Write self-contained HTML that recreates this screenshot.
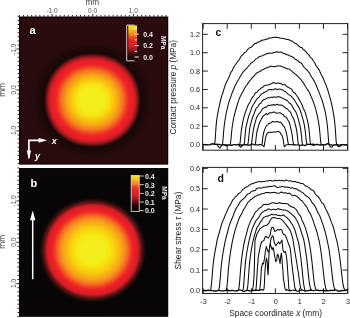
<!DOCTYPE html>
<html><head><meta charset="utf-8"><style>
html,body{margin:0;padding:0;background:#fff;overflow:hidden;}
svg{display:block;will-change:transform;}
text{font-family:"Liberation Sans",sans-serif;}
</style></head><body>
<svg width="350" height="318" viewBox="0 0 350 318" font-family='"Liberation Sans", sans-serif'><defs>
<radialGradient id="gA" gradientUnits="userSpaceOnUse" cx="0" cy="0" r="1.32" gradientTransform="translate(92.3 99.5) scale(46.3 44)"><stop offset="0.0000" stop-color="#f4ee1e"/><stop offset="0.2015" stop-color="#f4ee1c"/><stop offset="0.2341" stop-color="#f6ea18"/><stop offset="0.2667" stop-color="#f8e416"/><stop offset="0.2992" stop-color="#f8d812"/><stop offset="0.3318" stop-color="#f8cc10"/><stop offset="0.3652" stop-color="#f8c010"/><stop offset="0.3977" stop-color="#f8b014"/><stop offset="0.4303" stop-color="#f8a01a"/><stop offset="0.4629" stop-color="#f58c20"/><stop offset="0.4955" stop-color="#f47a22"/><stop offset="0.5227" stop-color="#f26224"/><stop offset="0.5492" stop-color="#f04a26"/><stop offset="0.5758" stop-color="#ef3427"/><stop offset="0.6061" stop-color="#ee2428"/><stop offset="0.6591" stop-color="#ee1e26"/><stop offset="0.6924" stop-color="#cc2028"/><stop offset="0.7250" stop-color="#9c1a1e"/><stop offset="0.7409" stop-color="#7c1618"/><stop offset="0.7576" stop-color="#521414"/><stop offset="0.7742" stop-color="#2c0e0e"/><stop offset="0.7902" stop-color="#1c0a0a"/><stop offset="0.8227" stop-color="#180808"/><stop offset="0.8712" stop-color="#1e0909"/><stop offset="0.9848" stop-color="#2a0c0e"/></radialGradient>
<radialGradient id="gB" gradientUnits="userSpaceOnUse" cx="0" cy="0" r="1.3" gradientTransform="translate(92.75 249.75) scale(48.75 46.75)"><stop offset="0.0000" stop-color="#f4ee20"/><stop offset="0.2015" stop-color="#f4ee1c"/><stop offset="0.2331" stop-color="#f6ec16"/><stop offset="0.2646" stop-color="#f8e812"/><stop offset="0.2962" stop-color="#f8e010"/><stop offset="0.3277" stop-color="#f8d810"/><stop offset="0.3592" stop-color="#f8d010"/><stop offset="0.3908" stop-color="#f8c412"/><stop offset="0.4223" stop-color="#f8b414"/><stop offset="0.4538" stop-color="#f8aa18"/><stop offset="0.4854" stop-color="#f89a1e"/><stop offset="0.5138" stop-color="#f68822"/><stop offset="0.5385" stop-color="#f47624"/><stop offset="0.5692" stop-color="#f35a24"/><stop offset="0.6000" stop-color="#f03c26"/><stop offset="0.6308" stop-color="#ee2627"/><stop offset="0.6692" stop-color="#ec1e26"/><stop offset="0.7038" stop-color="#e01e28"/><stop offset="0.7215" stop-color="#c22028"/><stop offset="0.7377" stop-color="#9a2024"/><stop offset="0.7531" stop-color="#7a1616"/><stop offset="0.7692" stop-color="#601414"/><stop offset="0.8008" stop-color="#2a1010"/><stop offset="0.8323" stop-color="#0e0808"/><stop offset="0.8615" stop-color="#080606"/><stop offset="1.0000" stop-color="#080606"/></radialGradient>
<linearGradient id="cA" x1="0" y1="0" x2="0" y2="1"><stop offset="0" stop-color="#f8e420"/><stop offset="0.1" stop-color="#f8d01c"/><stop offset="0.17" stop-color="#f6a81e"/><stop offset="0.26" stop-color="#f27e22"/><stop offset="0.35" stop-color="#ee4a26"/><stop offset="0.42" stop-color="#e82428"/><stop offset="0.6" stop-color="#d81e26"/><stop offset="0.67" stop-color="#a01a20"/><stop offset="0.77" stop-color="#501010"/><stop offset="0.9" stop-color="#200808"/><stop offset="1" stop-color="#100404"/></linearGradient>
<linearGradient id="cB" x1="0" y1="0" x2="0" y2="1"><stop offset="0" stop-color="#f8e420"/><stop offset="0.07" stop-color="#f8d41c"/><stop offset="0.15" stop-color="#f6a81e"/><stop offset="0.25" stop-color="#f27a22"/><stop offset="0.32" stop-color="#ee4026"/><stop offset="0.4" stop-color="#ea2228"/><stop offset="0.55" stop-color="#dc1e26"/><stop offset="0.63" stop-color="#b01a20"/><stop offset="0.72" stop-color="#701416"/><stop offset="0.8" stop-color="#3a0a0a"/><stop offset="0.9" stop-color="#1a0606"/><stop offset="1" stop-color="#0c0404"/></linearGradient>
<clipPath id="clA"><rect x="19.0" y="16.6" width="149.2" height="147.9"/></clipPath>
<clipPath id="clB"><rect x="19.0" y="168.1" width="149.2" height="148.6"/></clipPath>
<filter id="bl" x="-0.2" y="-0.2" width="1.4" height="1.4"><feGaussianBlur stdDeviation="0.75"/></filter>
</defs>
<g clip-path="url(#clA)"><rect x="19.0" y="16.6" width="149.2" height="147.9" fill="rgb(42,12,14)"/><g><path d="M154.8 100.2L154.6 106.3L153.9 111.8L152.8 117.2L151.2 122.3L149.3 127.2L146.9 131.8L144.1 136.2L140.9 140.2L137.4 144.0L133.5 147.4L129.3 150.5L124.8 153.2L120.0 155.6L115.0 157.5L109.8 159.0L104.3 160.1L98.6 160.7L92.3 161.0L86.0 160.7L80.3 160.1L74.8 159.0L69.6 157.5L64.6 155.6L59.8 153.2L55.3 150.5L51.1 147.4L47.2 144.0L43.7 140.2L40.5 136.2L37.7 131.8L35.3 127.2L33.4 122.3L31.8 117.2L30.7 111.8L30.0 106.3L29.8 100.2L30.0 94.1L30.7 88.6L31.8 83.2L33.4 78.1L35.3 73.2L37.7 68.6L40.5 64.2L43.7 60.2L47.2 56.4L51.1 53.0L55.3 49.9L59.8 47.2L64.6 44.8L69.6 42.9L74.8 41.4L80.3 40.3L86.0 39.7L92.3 39.4L98.6 39.7L104.3 40.3L109.8 41.4L115.0 42.9L120.0 44.8L124.8 47.2L129.3 49.9L133.5 53.0L137.4 56.4L140.9 60.2L144.1 64.2L146.9 68.6L149.3 73.2L151.2 78.1L152.8 83.2L153.9 88.6L154.6 94.1Z" fill="#2a0c0e" stroke="#2a0c0e" stroke-width="0.7"/><path d="M152.7 100.2L152.5 106.1L151.9 111.5L150.8 116.6L149.3 121.5L147.4 126.3L145.1 130.7L142.4 135.0L139.3 138.9L135.9 142.5L132.1 145.9L128.1 148.9L123.7 151.5L119.1 153.7L114.3 155.6L109.2 157.0L103.9 158.1L98.3 158.7L92.3 158.9L86.3 158.7L80.7 158.1L75.4 157.0L70.3 155.6L65.5 153.7L60.9 151.5L56.5 148.9L52.5 145.9L48.7 142.5L45.3 138.9L42.2 135.0L39.5 130.7L37.2 126.3L35.3 121.5L33.8 116.6L32.7 111.5L32.1 106.1L31.9 100.2L32.1 94.3L32.7 88.9L33.8 83.8L35.3 78.9L37.2 74.1L39.5 69.7L42.2 65.4L45.3 61.5L48.7 57.9L52.5 54.5L56.5 51.5L60.9 48.9L65.5 46.7L70.3 44.8L75.4 43.4L80.7 42.3L86.3 41.7L92.3 41.5L98.3 41.7L103.9 42.3L109.2 43.4L114.3 44.8L119.1 46.7L123.7 48.9L128.1 51.5L132.1 54.5L135.9 57.9L139.3 61.5L142.4 65.4L145.1 69.7L147.4 74.1L149.3 78.9L150.8 83.8L151.9 88.9L152.5 94.3Z" fill="#2a0c0e" stroke="#2a0c0e" stroke-width="0.7"/><path d="M150.6 100.2L150.4 105.9L149.8 111.1L148.8 116.0L147.3 120.8L145.5 125.4L143.2 129.7L140.6 133.8L137.7 137.6L134.4 141.1L130.7 144.3L126.8 147.2L122.6 149.7L118.2 151.9L113.5 153.7L108.6 155.1L103.5 156.1L98.1 156.7L92.3 156.9L86.5 156.7L81.1 156.1L76.0 155.1L71.1 153.7L66.4 151.9L62.0 149.7L57.8 147.2L53.9 144.3L50.2 141.1L46.9 137.6L44.0 133.8L41.4 129.7L39.1 125.4L37.3 120.8L35.8 116.0L34.8 111.1L34.2 105.9L34.0 100.2L34.2 94.5L34.8 89.3L35.8 84.4L37.3 79.6L39.1 75.0L41.4 70.7L44.0 66.6L46.9 62.8L50.2 59.3L53.9 56.1L57.8 53.2L62.0 50.7L66.4 48.5L71.1 46.7L76.0 45.3L81.1 44.3L86.5 43.7L92.3 43.5L98.1 43.7L103.5 44.3L108.6 45.3L113.5 46.7L118.2 48.5L122.6 50.7L126.8 53.2L130.7 56.1L134.4 59.3L137.7 62.8L140.6 66.6L143.2 70.7L145.5 75.0L147.3 79.6L148.8 84.4L149.8 89.3L150.4 94.5Z" fill="#270b0d" stroke="#270b0d" stroke-width="0.7"/><path d="M148.6 100.2L148.4 105.7L147.7 110.7L146.7 115.5L145.3 120.1L143.6 124.5L141.4 128.6L138.9 132.6L136.0 136.2L132.9 139.6L129.4 142.7L125.6 145.5L121.6 147.9L117.3 150.0L112.7 151.8L108.0 153.1L103.1 154.1L97.9 154.7L92.3 154.9L86.7 154.7L81.5 154.1L76.6 153.1L71.9 151.8L67.3 150.0L63.0 147.9L59.0 145.5L55.2 142.7L51.7 139.6L48.6 136.2L45.7 132.6L43.2 128.6L41.0 124.5L39.3 120.1L37.9 115.5L36.9 110.7L36.2 105.7L36.0 100.2L36.2 94.7L36.9 89.7L37.9 84.9L39.3 80.3L41.0 75.9L43.2 71.8L45.7 67.8L48.6 64.2L51.7 60.8L55.2 57.7L59.0 54.9L63.0 52.5L67.3 50.4L71.9 48.6L76.6 47.3L81.5 46.3L86.7 45.7L92.3 45.5L97.9 45.7L103.1 46.3L108.0 47.3L112.7 48.6L117.3 50.4L121.6 52.5L125.6 54.9L129.4 57.7L132.9 60.8L136.0 64.2L138.9 67.8L141.4 71.8L143.6 75.9L145.3 80.3L146.7 84.9L147.7 89.7L148.4 94.7Z" fill="#230a0b" stroke="#230a0b" stroke-width="0.7"/><path d="M146.5 100.2L146.3 105.5L145.7 110.3L144.7 114.9L143.4 119.3L141.7 123.6L139.6 127.6L137.2 131.4L134.4 134.9L131.4 138.2L128.0 141.1L124.4 143.8L120.5 146.2L116.3 148.2L112.0 149.8L107.4 151.2L102.7 152.1L97.7 152.7L92.3 152.9L86.9 152.7L81.9 152.1L77.2 151.2L72.6 149.8L68.3 148.2L64.1 146.2L60.2 143.8L56.6 141.1L53.2 138.2L50.2 134.9L47.4 131.4L45.0 127.6L42.9 123.6L41.2 119.3L39.9 114.9L38.9 110.3L38.3 105.5L38.1 100.2L38.3 94.9L38.9 90.1L39.9 85.5L41.2 81.1L42.9 76.8L45.0 72.8L47.4 69.0L50.2 65.5L53.2 62.2L56.6 59.3L60.2 56.6L64.1 54.2L68.3 52.2L72.6 50.6L77.2 49.2L81.9 48.3L86.9 47.7L92.3 47.5L97.7 47.7L102.7 48.3L107.4 49.2L112.0 50.6L116.3 52.2L120.5 54.2L124.4 56.6L128.0 59.3L131.4 62.2L134.4 65.5L137.2 69.0L139.6 72.8L141.7 76.8L143.4 81.1L144.7 85.5L145.7 90.1L146.3 94.9Z" fill="#20090a" stroke="#20090a" stroke-width="0.7"/><path d="M144.4 100.2L144.2 105.3L143.6 109.9L142.7 114.3L141.4 118.6L139.8 122.7L137.8 126.5L135.5 130.2L132.8 133.6L129.9 136.7L126.6 139.6L123.1 142.1L119.4 144.4L115.4 146.3L111.2 147.9L106.9 149.2L102.3 150.1L97.5 150.6L92.3 150.8L87.1 150.6L82.3 150.1L77.7 149.2L73.4 147.9L69.2 146.3L65.2 144.4L61.5 142.1L58.0 139.6L54.7 136.7L51.8 133.6L49.1 130.2L46.8 126.5L44.8 122.7L43.2 118.6L41.9 114.3L41.0 109.9L40.4 105.3L40.2 100.2L40.4 95.1L41.0 90.5L41.9 86.1L43.2 81.8L44.8 77.7L46.8 73.9L49.1 70.2L51.8 66.8L54.7 63.7L58.0 60.8L61.5 58.3L65.2 56.0L69.2 54.1L73.4 52.5L77.7 51.2L82.3 50.3L87.1 49.8L92.3 49.6L97.5 49.8L102.3 50.3L106.9 51.2L111.2 52.5L115.4 54.1L119.4 56.0L123.1 58.3L126.6 60.8L129.9 63.7L132.8 66.8L135.5 70.2L137.8 73.9L139.8 77.7L141.4 81.8L142.7 86.1L143.6 90.5L144.2 95.1Z" fill="#1c0909" stroke="#1c0909" stroke-width="0.7"/><path d="M142.3 100.2L142.1 105.1L141.6 109.5L140.7 113.8L139.5 117.9L137.9 121.8L136.0 125.5L133.7 129.0L131.2 132.2L128.4 135.2L125.3 138.0L121.9 140.5L118.3 142.6L114.5 144.5L110.5 146.0L106.3 147.2L101.9 148.1L97.3 148.6L92.3 148.8L87.3 148.6L82.7 148.1L78.3 147.2L74.1 146.0L70.1 144.5L66.3 142.6L62.7 140.5L59.3 138.0L56.2 135.2L53.4 132.2L50.9 129.0L48.6 125.5L46.7 121.8L45.1 117.9L43.9 113.8L43.0 109.5L42.5 105.1L42.3 100.2L42.5 95.3L43.0 90.9L43.9 86.6L45.1 82.5L46.7 78.6L48.6 74.9L50.9 71.4L53.4 68.2L56.2 65.2L59.3 62.4L62.7 59.9L66.3 57.8L70.1 55.9L74.1 54.4L78.3 53.2L82.7 52.3L87.3 51.8L92.3 51.6L97.3 51.8L101.9 52.3L106.3 53.2L110.5 54.4L114.5 55.9L118.3 57.8L121.9 59.9L125.3 62.4L128.4 65.2L131.2 68.2L133.7 71.4L136.0 74.9L137.9 78.6L139.5 82.5L140.7 86.6L141.6 90.9L142.1 95.3Z" fill="#190808" stroke="#190808" stroke-width="0.7"/><path d="M140.6 100.2L140.5 104.9L139.9 109.2L139.1 113.3L137.9 117.3L136.4 121.0L134.5 124.6L132.3 128.0L129.9 131.2L127.2 134.1L124.2 136.7L120.9 139.1L117.4 141.2L113.7 143.0L109.9 144.5L105.8 145.7L101.6 146.5L97.1 147.0L92.3 147.2L87.5 147.0L83.0 146.5L78.8 145.7L74.7 144.5L70.9 143.0L67.2 141.2L63.7 139.1L60.4 136.7L57.4 134.1L54.7 131.2L52.3 128.0L50.1 124.6L48.2 121.0L46.7 117.3L45.5 113.3L44.7 109.2L44.1 104.9L44.0 100.2L44.1 95.5L44.7 91.2L45.5 87.1L46.7 83.1L48.2 79.4L50.1 75.8L52.3 72.4L54.7 69.2L57.4 66.3L60.4 63.7L63.7 61.3L67.2 59.2L70.9 57.4L74.7 55.9L78.8 54.7L83.0 53.9L87.5 53.4L92.3 53.2L97.1 53.4L101.6 53.9L105.8 54.7L109.9 55.9L113.7 57.4L117.4 59.2L120.9 61.3L124.2 63.7L127.2 66.3L129.9 69.2L132.3 72.4L134.5 75.8L136.4 79.4L137.9 83.1L139.1 87.1L139.9 91.2L140.5 95.5Z" fill="#1c0a0a" stroke="#1c0a0a" stroke-width="0.7"/><path d="M140.2 100.2L140.0 104.9L139.5 109.1L138.7 113.2L137.5 117.1L136.0 120.9L134.1 124.4L132.0 127.8L129.6 130.9L126.8 133.8L123.9 136.4L120.7 138.8L117.2 140.8L113.6 142.6L109.7 144.1L105.7 145.3L101.5 146.1L97.1 146.6L92.3 146.8L87.5 146.6L83.1 146.1L78.9 145.3L74.9 144.1L71.0 142.6L67.4 140.8L63.9 138.8L60.7 136.4L57.8 133.8L55.0 130.9L52.6 127.8L50.5 124.4L48.6 120.9L47.1 117.1L45.9 113.2L45.1 109.1L44.6 104.9L44.4 100.2L44.6 95.5L45.1 91.3L45.9 87.2L47.1 83.3L48.6 79.5L50.5 76.0L52.6 72.6L55.0 69.5L57.8 66.6L60.7 64.0L63.9 61.6L67.4 59.6L71.0 57.8L74.9 56.3L78.9 55.1L83.1 54.3L87.5 53.8L92.3 53.6L97.1 53.8L101.5 54.3L105.7 55.1L109.7 56.3L113.6 57.8L117.2 59.6L120.7 61.6L123.9 64.0L126.8 66.6L129.6 69.5L132.0 72.6L134.1 76.0L136.0 79.5L137.5 83.3L138.7 87.2L139.5 91.3L140.0 95.5Z" fill="#220c0c" stroke="#220c0c" stroke-width="0.7"/><path d="M139.9 100.2L139.7 104.8L139.2 109.1L138.3 113.1L137.1 117.0L135.6 120.7L133.8 124.2L131.7 127.6L129.3 130.7L126.6 133.5L123.6 136.1L120.4 138.5L117.0 140.6L113.4 142.3L109.6 143.8L105.6 144.9L101.4 145.8L97.1 146.2L92.3 146.4L87.5 146.2L83.2 145.8L79.0 144.9L75.0 143.8L71.2 142.3L67.6 140.6L64.2 138.5L61.0 136.1L58.0 133.5L55.3 130.7L52.9 127.6L50.8 124.2L49.0 120.7L47.5 117.0L46.3 113.1L45.4 109.1L44.9 104.8L44.7 100.2L44.9 95.6L45.4 91.3L46.3 87.3L47.5 83.4L49.0 79.7L50.8 76.2L52.9 72.8L55.3 69.7L58.0 66.9L61.0 64.3L64.2 61.9L67.6 59.8L71.2 58.1L75.0 56.6L79.0 55.5L83.2 54.6L87.5 54.2L92.3 54.0L97.1 54.2L101.4 54.6L105.6 55.5L109.6 56.6L113.4 58.1L117.0 59.8L120.4 61.9L123.6 64.3L126.6 66.9L129.3 69.7L131.7 72.8L133.8 76.2L135.6 79.7L137.1 83.4L138.3 87.3L139.2 91.3L139.7 95.6Z" fill="#280d0d" stroke="#280d0d" stroke-width="0.7"/><path d="M139.5 100.2L139.3 104.8L138.8 109.0L138.0 113.0L136.8 116.9L135.3 120.6L133.5 124.1L131.4 127.4L129.0 130.4L126.3 133.3L123.4 135.9L120.2 138.2L116.8 140.3L113.2 142.0L109.5 143.5L105.5 144.6L101.4 145.4L97.0 145.9L92.3 146.1L87.6 145.9L83.2 145.4L79.1 144.6L75.1 143.5L71.4 142.0L67.8 140.3L64.4 138.2L61.2 135.9L58.3 133.3L55.6 130.4L53.2 127.4L51.1 124.1L49.3 120.6L47.8 116.9L46.6 113.0L45.8 109.0L45.3 104.8L45.1 100.2L45.3 95.6L45.8 91.4L46.6 87.4L47.8 83.5L49.3 79.8L51.1 76.3L53.2 73.0L55.6 70.0L58.3 67.1L61.2 64.5L64.4 62.2L67.8 60.1L71.4 58.4L75.1 56.9L79.1 55.8L83.2 55.0L87.6 54.5L92.3 54.3L97.0 54.5L101.4 55.0L105.5 55.8L109.5 56.9L113.2 58.4L116.8 60.1L120.2 62.2L123.4 64.5L126.3 67.1L129.0 70.0L131.4 73.0L133.5 76.3L135.3 79.8L136.8 83.5L138.0 87.4L138.8 91.4L139.3 95.6Z" fill="#300f0f" stroke="#300f0f" stroke-width="0.7"/><path d="M139.2 100.2L139.0 104.8L138.5 108.9L137.6 112.9L136.5 116.7L135.0 120.4L133.2 123.9L131.1 127.2L128.7 130.2L126.1 133.0L123.2 135.6L120.0 137.9L116.7 140.0L113.1 141.7L109.3 143.1L105.4 144.3L101.3 145.1L97.0 145.6L92.3 145.7L87.6 145.6L83.3 145.1L79.2 144.3L75.3 143.1L71.5 141.7L67.9 140.0L64.6 137.9L61.4 135.6L58.5 133.0L55.9 130.2L53.5 127.2L51.4 123.9L49.6 120.4L48.1 116.7L47.0 112.9L46.1 108.9L45.6 104.8L45.4 100.2L45.6 95.6L46.1 91.5L47.0 87.5L48.1 83.7L49.6 80.0L51.4 76.5L53.5 73.2L55.9 70.2L58.5 67.4L61.4 64.8L64.6 62.5L67.9 60.4L71.5 58.7L75.3 57.3L79.2 56.1L83.3 55.3L87.6 54.8L92.3 54.7L97.0 54.8L101.3 55.3L105.4 56.1L109.3 57.3L113.1 58.7L116.7 60.4L120.0 62.5L123.2 64.8L126.1 67.4L128.7 70.2L131.1 73.2L133.2 76.5L135.0 80.0L136.5 83.7L137.6 87.5L138.5 91.5L139.0 95.6Z" fill="#3d1111" stroke="#3d1111" stroke-width="0.7"/><path d="M138.8 100.2L138.6 104.7L138.1 108.9L137.3 112.8L136.2 116.6L134.7 120.3L132.9 123.7L130.8 127.0L128.5 130.0L125.8 132.8L122.9 135.3L119.8 137.6L116.5 139.7L112.9 141.4L109.2 142.8L105.3 143.9L101.2 144.7L97.0 145.2L92.3 145.4L87.6 145.2L83.4 144.7L79.3 143.9L75.4 142.8L71.7 141.4L68.1 139.7L64.8 137.6L61.7 135.3L58.8 132.8L56.1 130.0L53.8 127.0L51.7 123.7L49.9 120.3L48.4 116.6L47.3 112.8L46.5 108.9L46.0 104.7L45.8 100.2L46.0 95.7L46.5 91.5L47.3 87.6L48.4 83.8L49.9 80.1L51.7 76.7L53.8 73.4L56.1 70.4L58.8 67.6L61.7 65.1L64.8 62.8L68.1 60.7L71.7 59.0L75.4 57.6L79.3 56.5L83.4 55.7L87.6 55.2L92.3 55.0L97.0 55.2L101.2 55.7L105.3 56.5L109.2 57.6L112.9 59.0L116.5 60.7L119.8 62.8L122.9 65.1L125.8 67.6L128.5 70.4L130.8 73.4L132.9 76.7L134.7 80.1L136.2 83.8L137.3 87.6L138.1 91.5L138.6 95.7Z" fill="#4a1313" stroke="#4a1313" stroke-width="0.7"/><path d="M138.5 100.2L138.3 104.7L137.8 108.8L137.0 112.7L135.8 116.5L134.4 120.1L132.6 123.5L130.5 126.8L128.2 129.8L125.6 132.5L122.7 135.1L119.6 137.4L116.3 139.4L112.8 141.1L109.1 142.5L105.2 143.6L101.1 144.4L96.9 144.9L92.3 145.1L87.7 144.9L83.5 144.4L79.4 143.6L75.5 142.5L71.8 141.1L68.3 139.4L65.0 137.4L61.9 135.1L59.0 132.5L56.4 129.8L54.1 126.8L52.0 123.5L50.2 120.1L48.8 116.5L47.6 112.7L46.8 108.8L46.3 104.7L46.1 100.2L46.3 95.7L46.8 91.6L47.6 87.7L48.8 83.9L50.2 80.3L52.0 76.9L54.1 73.6L56.4 70.6L59.0 67.9L61.9 65.3L65.0 63.0L68.3 61.0L71.8 59.3L75.5 57.9L79.4 56.8L83.5 56.0L87.7 55.5L92.3 55.3L96.9 55.5L101.1 56.0L105.2 56.8L109.1 57.9L112.8 59.3L116.3 61.0L119.6 63.0L122.7 65.3L125.6 67.9L128.2 70.6L130.5 73.6L132.6 76.9L134.4 80.3L135.8 83.9L137.0 87.7L137.8 91.6L138.3 95.7Z" fill="#581415" stroke="#581415" stroke-width="0.7"/><path d="M138.1 100.2L137.9 104.7L137.4 108.7L136.6 112.6L135.5 116.4L134.0 120.0L132.3 123.3L130.2 126.6L127.9 129.5L125.3 132.3L122.5 134.8L119.4 137.1L116.1 139.1L112.6 140.8L108.9 142.2L105.1 143.3L101.1 144.1L96.9 144.6L92.3 144.7L87.7 144.6L83.5 144.1L79.5 143.3L75.7 142.2L72.0 140.8L68.5 139.1L65.2 137.1L62.1 134.8L59.3 132.3L56.7 129.5L54.4 126.6L52.3 123.3L50.6 120.0L49.1 116.4L48.0 112.6L47.2 108.7L46.7 104.7L46.5 100.2L46.7 95.7L47.2 91.7L48.0 87.8L49.1 84.0L50.6 80.4L52.3 77.1L54.4 73.8L56.7 70.9L59.3 68.1L62.1 65.6L65.2 63.3L68.5 61.3L72.0 59.6L75.7 58.2L79.5 57.1L83.5 56.3L87.7 55.8L92.3 55.7L96.9 55.8L101.1 56.3L105.1 57.1L108.9 58.2L112.6 59.6L116.1 61.3L119.4 63.3L122.5 65.6L125.3 68.1L127.9 70.9L130.2 73.8L132.3 77.1L134.0 80.4L135.5 84.0L136.6 87.8L137.4 91.7L137.9 95.7Z" fill="#661516" stroke="#661516" stroke-width="0.7"/><path d="M137.8 100.2L137.6 104.6L137.1 108.7L136.3 112.5L135.2 116.3L133.7 119.8L132.0 123.2L130.0 126.3L127.6 129.3L125.1 132.1L122.3 134.6L119.2 136.8L115.9 138.8L112.5 140.5L108.8 141.9L105.0 143.0L101.0 143.7L96.8 144.2L92.3 144.4L87.8 144.2L83.6 143.7L79.6 143.0L75.8 141.9L72.1 140.5L68.7 138.8L65.4 136.8L62.3 134.6L59.5 132.1L57.0 129.3L54.6 126.3L52.6 123.2L50.9 119.8L49.4 116.3L48.3 112.5L47.5 108.7L47.0 104.6L46.8 100.2L47.0 95.8L47.5 91.7L48.3 87.9L49.4 84.1L50.9 80.6L52.6 77.2L54.6 74.1L57.0 71.1L59.5 68.3L62.3 65.8L65.4 63.6L68.7 61.6L72.1 59.9L75.8 58.5L79.6 57.4L83.6 56.7L87.8 56.2L92.3 56.0L96.8 56.2L101.0 56.7L105.0 57.4L108.8 58.5L112.5 59.9L115.9 61.6L119.2 63.6L122.3 65.8L125.1 68.3L127.6 71.1L130.0 74.1L132.0 77.2L133.7 80.6L135.2 84.1L136.3 87.9L137.1 91.7L137.6 95.8Z" fill="#751617" stroke="#751617" stroke-width="0.7"/><path d="M137.4 100.2L137.2 104.6L136.8 108.6L136.0 112.4L134.8 116.1L133.4 119.7L131.7 123.0L129.7 126.1L127.4 129.1L124.8 131.8L122.0 134.3L119.0 136.5L115.8 138.5L112.3 140.2L108.7 141.5L104.9 142.6L100.9 143.4L96.8 143.9L92.3 144.0L87.8 143.9L83.7 143.4L79.7 142.6L75.9 141.5L72.3 140.2L68.8 138.5L65.6 136.5L62.6 134.3L59.8 131.8L57.2 129.1L54.9 126.1L52.9 123.0L51.2 119.7L49.8 116.1L48.6 112.4L47.8 108.6L47.4 104.6L47.2 100.2L47.4 95.8L47.8 91.8L48.6 88.0L49.8 84.3L51.2 80.7L52.9 77.4L54.9 74.3L57.2 71.3L59.8 68.6L62.6 66.1L65.6 63.9L68.8 61.9L72.3 60.2L75.9 58.9L79.7 57.8L83.7 57.0L87.8 56.5L92.3 56.4L96.8 56.5L100.9 57.0L104.9 57.8L108.7 58.9L112.3 60.2L115.8 61.9L119.0 63.9L122.0 66.1L124.8 68.6L127.4 71.3L129.7 74.3L131.7 77.4L133.4 80.7L134.8 84.3L136.0 88.0L136.8 91.8L137.2 95.8Z" fill="#821719" stroke="#821719" stroke-width="0.7"/><path d="M137.1 100.2L136.9 104.6L136.4 108.5L135.6 112.4L134.5 116.0L133.1 119.5L131.4 122.8L129.4 125.9L127.1 128.9L124.6 131.6L121.8 134.0L118.8 136.2L115.6 138.2L112.2 139.8L108.6 141.2L104.8 142.3L100.9 143.1L96.8 143.5L92.3 143.7L87.8 143.5L83.7 143.1L79.8 142.3L76.0 141.2L72.4 139.8L69.0 138.2L65.8 136.2L62.8 134.0L60.0 131.6L57.5 128.9L55.2 125.9L53.2 122.8L51.5 119.5L50.1 116.0L49.0 112.4L48.2 108.5L47.7 104.6L47.5 100.2L47.7 95.8L48.2 91.9L49.0 88.0L50.1 84.4L51.5 80.9L53.2 77.6L55.2 74.5L57.5 71.5L60.0 68.8L62.8 66.4L65.8 64.2L69.0 62.2L72.4 60.6L76.0 59.2L79.8 58.1L83.7 57.3L87.8 56.9L92.3 56.7L96.8 56.9L100.9 57.3L104.8 58.1L108.6 59.2L112.2 60.6L115.6 62.2L118.8 64.2L121.8 66.4L124.6 68.8L127.1 71.5L129.4 74.5L131.4 77.6L133.1 80.9L134.5 84.4L135.6 88.0L136.4 91.9L136.9 95.8Z" fill="#8d181b" stroke="#8d181b" stroke-width="0.7"/><path d="M136.7 100.2L136.5 104.5L136.1 108.5L135.3 112.3L134.2 115.9L132.8 119.4L131.1 122.6L129.1 125.7L126.8 128.6L124.3 131.3L121.6 133.8L118.6 136.0L115.4 137.9L112.0 139.5L108.4 140.9L104.7 142.0L100.8 142.7L96.7 143.2L92.3 143.4L87.9 143.2L83.8 142.7L79.9 142.0L76.2 140.9L72.6 139.5L69.2 137.9L66.0 136.0L63.0 133.8L60.3 131.3L57.8 128.6L55.5 125.7L53.5 122.6L51.8 119.4L50.4 115.9L49.3 112.3L48.5 108.5L48.1 104.5L47.9 100.2L48.1 95.9L48.5 91.9L49.3 88.1L50.4 84.5L51.8 81.0L53.5 77.8L55.5 74.7L57.8 71.8L60.3 69.1L63.0 66.6L66.0 64.4L69.2 62.5L72.6 60.9L76.2 59.5L79.9 58.4L83.8 57.7L87.9 57.2L92.3 57.0L96.7 57.2L100.8 57.7L104.7 58.4L108.4 59.5L112.0 60.9L115.4 62.5L118.6 64.4L121.6 66.6L124.3 69.1L126.8 71.8L129.1 74.7L131.1 77.8L132.8 81.0L134.2 84.5L135.3 88.1L136.1 91.9L136.5 95.9Z" fill="#991a1d" stroke="#991a1d" stroke-width="0.7"/><path d="M136.4 100.2L136.2 104.5L135.7 108.4L134.9 112.2L133.8 115.8L132.5 119.2L130.8 122.5L128.8 125.5L126.6 128.4L124.1 131.1L121.3 133.5L118.4 135.7L115.2 137.6L111.8 139.2L108.3 140.6L104.6 141.6L100.7 142.4L96.7 142.9L92.3 143.0L87.9 142.9L83.9 142.4L80.0 141.6L76.3 140.6L72.8 139.2L69.4 137.6L66.2 135.7L63.3 133.5L60.5 131.1L58.0 128.4L55.8 125.5L53.8 122.5L52.1 119.2L50.8 115.8L49.7 112.2L48.9 108.4L48.4 104.5L48.2 100.2L48.4 95.9L48.9 92.0L49.7 88.2L50.8 84.6L52.1 81.2L53.8 77.9L55.8 74.9L58.0 72.0L60.5 69.3L63.3 66.9L66.2 64.7L69.4 62.8L72.8 61.2L76.3 59.8L80.0 58.8L83.9 58.0L87.9 57.5L92.3 57.4L96.7 57.5L100.7 58.0L104.6 58.8L108.3 59.8L111.8 61.2L115.2 62.8L118.4 64.7L121.3 66.9L124.1 69.3L126.6 72.0L128.8 74.9L130.8 77.9L132.5 81.2L133.8 84.6L134.9 88.2L135.7 92.0L136.2 95.9Z" fill="#a21b1f" stroke="#a21b1f" stroke-width="0.7"/><path d="M136.0 100.2L135.8 104.5L135.4 108.3L134.6 112.1L133.5 115.6L132.1 119.0L130.5 122.3L128.5 125.3L126.3 128.2L123.8 130.8L121.1 133.2L118.2 135.4L115.0 137.3L111.7 138.9L108.2 140.3L104.5 141.3L100.7 142.1L96.7 142.5L92.3 142.7L87.9 142.5L83.9 142.1L80.1 141.3L76.4 140.3L72.9 138.9L69.6 137.3L66.4 135.4L63.5 133.2L60.8 130.8L58.3 128.2L56.1 125.3L54.1 122.3L52.5 119.0L51.1 115.6L50.0 112.1L49.2 108.3L48.8 104.5L48.6 100.2L48.8 95.9L49.2 92.1L50.0 88.3L51.1 84.8L52.5 81.4L54.1 78.1L56.1 75.1L58.3 72.2L60.8 69.6L63.5 67.2L66.4 65.0L69.6 63.1L72.9 61.5L76.4 60.1L80.1 59.1L83.9 58.3L87.9 57.9L92.3 57.7L96.7 57.9L100.7 58.3L104.5 59.1L108.2 60.1L111.7 61.5L115.0 63.1L118.2 65.0L121.1 67.2L123.8 69.6L126.3 72.2L128.5 75.1L130.5 78.1L132.1 81.4L133.5 84.8L134.6 88.3L135.4 92.1L135.8 95.9Z" fill="#ab1c21" stroke="#ab1c21" stroke-width="0.7"/><path d="M135.7 100.2L135.5 104.4L135.0 108.3L134.3 112.0L133.2 115.5L131.8 118.9L130.2 122.1L128.2 125.1L126.0 128.0L123.6 130.6L120.9 133.0L118.0 135.1L114.8 137.0L111.5 138.6L108.1 139.9L104.4 141.0L100.6 141.7L96.6 142.2L92.3 142.3L88.0 142.2L84.0 141.7L80.2 141.0L76.5 139.9L73.1 138.6L69.8 137.0L66.6 135.1L63.7 133.0L61.0 130.6L58.6 128.0L56.4 125.1L54.4 122.1L52.8 118.9L51.4 115.5L50.3 112.0L49.6 108.3L49.1 104.4L48.9 100.2L49.1 96.0L49.6 92.1L50.3 88.4L51.4 84.9L52.8 81.5L54.4 78.3L56.4 75.3L58.6 72.4L61.0 69.8L63.7 67.4L66.6 65.3L69.8 63.4L73.1 61.8L76.5 60.5L80.2 59.4L84.0 58.7L88.0 58.2L92.3 58.1L96.6 58.2L100.6 58.7L104.4 59.4L108.1 60.5L111.5 61.8L114.8 63.4L118.0 65.3L120.9 67.4L123.6 69.8L126.0 72.4L128.2 75.3L130.2 78.3L131.8 81.5L133.2 84.9L134.3 88.4L135.0 92.1L135.5 96.0Z" fill="#b31d23" stroke="#b31d23" stroke-width="0.7"/><path d="M135.3 100.2L135.2 104.4L134.7 108.2L133.9 111.9L132.9 115.4L131.5 118.7L129.8 121.9L127.9 124.9L125.7 127.7L123.3 130.3L120.6 132.7L117.8 134.8L114.7 136.7L111.4 138.3L107.9 139.6L104.3 140.7L100.5 141.4L96.6 141.8L92.3 142.0L88.0 141.8L84.1 141.4L80.3 140.7L76.7 139.6L73.2 138.3L69.9 136.7L66.8 134.8L64.0 132.7L61.3 130.3L58.9 127.7L56.7 124.9L54.8 121.9L53.1 118.7L51.7 115.4L50.7 111.9L49.9 108.2L49.4 104.4L49.3 100.2L49.4 96.0L49.9 92.2L50.7 88.5L51.7 85.0L53.1 81.7L54.8 78.5L56.7 75.5L58.9 72.7L61.3 70.1L64.0 67.7L66.8 65.6L69.9 63.7L73.2 62.1L76.7 60.8L80.3 59.7L84.1 59.0L88.0 58.6L92.3 58.4L96.6 58.6L100.5 59.0L104.3 59.7L107.9 60.8L111.4 62.1L114.7 63.7L117.8 65.6L120.6 67.7L123.3 70.1L125.7 72.7L127.9 75.5L129.8 78.5L131.5 81.7L132.9 85.0L133.9 88.5L134.7 92.2L135.2 96.0Z" fill="#bb1e25" stroke="#bb1e25" stroke-width="0.7"/><path d="M135.0 100.2L134.8 104.3L134.3 108.1L133.6 111.8L132.5 115.3L131.2 118.6L129.5 121.8L127.6 124.7L125.5 127.5L123.1 130.1L120.4 132.4L117.5 134.5L114.5 136.4L111.2 138.0L107.8 139.3L104.2 140.3L100.5 141.1L96.6 141.5L92.3 141.7L88.0 141.5L84.1 141.1L80.4 140.3L76.8 139.3L73.4 138.0L70.1 136.4L67.1 134.5L64.2 132.4L61.5 130.1L59.1 127.5L57.0 124.7L55.1 121.8L53.4 118.6L52.1 115.3L51.0 111.8L50.3 108.1L49.8 104.3L49.6 100.2L49.8 96.1L50.3 92.3L51.0 88.6L52.1 85.1L53.4 81.8L55.1 78.6L57.0 75.7L59.1 72.9L61.5 70.3L64.2 68.0L67.1 65.9L70.1 64.0L73.4 62.4L76.8 61.1L80.4 60.1L84.1 59.3L88.0 58.9L92.3 58.7L96.6 58.9L100.5 59.3L104.2 60.1L107.8 61.1L111.2 62.4L114.5 64.0L117.5 65.9L120.4 68.0L123.1 70.3L125.5 72.9L127.6 75.7L129.5 78.6L131.2 81.8L132.5 85.1L133.6 88.6L134.3 92.3L134.8 96.1Z" fill="#c41f26" stroke="#c41f26" stroke-width="0.7"/><path d="M134.6 100.2L134.5 104.3L134.0 108.1L133.2 111.7L132.2 115.1L130.9 118.4L129.2 121.6L127.3 124.5L125.2 127.3L122.8 129.9L120.2 132.2L117.3 134.3L114.3 136.1L111.1 137.7L107.7 139.0L104.1 140.0L100.4 140.7L96.5 141.2L92.3 141.3L88.1 141.2L84.2 140.7L80.5 140.0L76.9 139.0L73.5 137.7L70.3 136.1L67.3 134.3L64.4 132.2L61.8 129.9L59.4 127.3L57.3 124.5L55.4 121.6L53.7 118.4L52.4 115.1L51.4 111.7L50.6 108.1L50.1 104.3L50.0 100.2L50.1 96.1L50.6 92.3L51.4 88.7L52.4 85.3L53.7 82.0L55.4 78.8L57.3 75.9L59.4 73.1L61.8 70.5L64.4 68.2L67.3 66.1L70.3 64.3L73.5 62.7L76.9 61.4L80.5 60.4L84.2 59.7L88.1 59.2L92.3 59.1L96.5 59.2L100.4 59.7L104.1 60.4L107.7 61.4L111.1 62.7L114.3 64.3L117.3 66.1L120.2 68.2L122.8 70.5L125.2 73.1L127.3 75.9L129.2 78.8L130.9 82.0L132.2 85.3L133.2 88.7L134.0 92.3L134.5 96.1Z" fill="#cc2028" stroke="#cc2028" stroke-width="0.7"/><path d="M134.3 100.2L134.1 104.3L133.7 108.0L132.9 111.6L131.9 115.0L130.5 118.3L128.9 121.4L127.1 124.3L124.9 127.1L122.6 129.6L120.0 131.9L117.1 134.0L114.1 135.8L110.9 137.4L107.5 138.7L104.0 139.7L100.3 140.4L96.5 140.8L92.3 141.0L88.1 140.8L84.3 140.4L80.6 139.7L77.1 138.7L73.7 137.4L70.5 135.8L67.5 134.0L64.6 131.9L62.0 129.6L59.7 127.1L57.5 124.3L55.7 121.4L54.1 118.3L52.7 115.0L51.7 111.6L50.9 108.0L50.5 104.3L50.3 100.2L50.5 96.1L50.9 92.4L51.7 88.8L52.7 85.4L54.1 82.1L55.7 79.0L57.5 76.1L59.7 73.3L62.0 70.8L64.6 68.5L67.5 66.4L70.5 64.6L73.7 63.0L77.1 61.7L80.6 60.7L84.3 60.0L88.1 59.6L92.3 59.4L96.5 59.6L100.3 60.0L104.0 60.7L107.5 61.7L110.9 63.0L114.1 64.6L117.1 66.4L120.0 68.5L122.6 70.8L124.9 73.3L127.1 76.1L128.9 79.0L130.5 82.1L131.9 85.4L132.9 88.8L133.7 92.4L134.1 96.1Z" fill="#d22028" stroke="#d22028" stroke-width="0.7"/><path d="M133.9 100.2L133.8 104.2L133.3 108.0L132.6 111.5L131.5 114.9L130.2 118.1L128.6 121.2L126.8 124.1L124.7 126.9L122.3 129.4L119.7 131.6L116.9 133.7L113.9 135.5L110.8 137.1L107.4 138.3L103.9 139.3L100.3 140.1L96.5 140.5L92.3 140.6L88.1 140.5L84.3 140.1L80.7 139.3L77.2 138.3L73.8 137.1L70.7 135.5L67.7 133.7L64.9 131.6L62.3 129.4L59.9 126.9L57.8 124.1L56.0 121.2L54.4 118.1L53.1 114.9L52.0 111.5L51.3 108.0L50.8 104.2L50.7 100.2L50.8 96.2L51.3 92.4L52.0 88.9L53.1 85.5L54.4 82.3L56.0 79.2L57.8 76.3L59.9 73.5L62.3 71.0L64.9 68.8L67.7 66.7L70.7 64.9L73.8 63.3L77.2 62.1L80.7 61.1L84.3 60.3L88.1 59.9L92.3 59.8L96.5 59.9L100.3 60.3L103.9 61.1L107.4 62.1L110.8 63.3L113.9 64.9L116.9 66.7L119.7 68.8L122.3 71.0L124.7 73.5L126.8 76.3L128.6 79.2L130.2 82.3L131.5 85.5L132.6 88.9L133.3 92.4L133.8 96.2Z" fill="#d81f27" stroke="#d81f27" stroke-width="0.7"/><path d="M133.6 100.2L133.4 104.2L133.0 107.9L132.2 111.4L131.2 114.8L129.9 118.0L128.3 121.1L126.5 123.9L124.4 126.6L122.1 129.1L119.5 131.4L116.7 133.4L113.8 135.2L110.6 136.7L107.3 138.0L103.8 139.0L100.2 139.7L96.4 140.2L92.3 140.3L88.2 140.2L84.4 139.7L80.8 139.0L77.3 138.0L74.0 136.7L70.8 135.2L67.9 133.4L65.1 131.4L62.5 129.1L60.2 126.6L58.1 123.9L56.3 121.1L54.7 118.0L53.4 114.8L52.4 111.4L51.6 107.9L51.2 104.2L51.0 100.2L51.2 96.2L51.6 92.5L52.4 89.0L53.4 85.6L54.7 82.4L56.3 79.3L58.1 76.5L60.2 73.8L62.5 71.3L65.1 69.0L67.9 67.0L70.8 65.2L74.0 63.7L77.3 62.4L80.8 61.4L84.4 60.7L88.2 60.2L92.3 60.1L96.4 60.2L100.2 60.7L103.8 61.4L107.3 62.4L110.6 63.7L113.8 65.2L116.7 67.0L119.5 69.0L122.1 71.3L124.4 73.8L126.5 76.5L128.3 79.3L129.9 82.4L131.2 85.6L132.2 89.0L133.0 92.5L133.4 96.2Z" fill="#de1f27" stroke="#de1f27" stroke-width="0.7"/><path d="M133.2 100.2L133.1 104.2L132.6 107.8L131.9 111.3L130.9 114.7L129.6 117.8L128.0 120.9L126.2 123.7L124.1 126.4L121.8 128.9L119.3 131.1L116.5 133.1L113.6 134.9L110.5 136.4L107.2 137.7L103.7 138.7L100.1 139.4L96.4 139.8L92.3 140.0L88.2 139.8L84.5 139.4L80.9 138.7L77.4 137.7L74.1 136.4L71.0 134.9L68.1 133.1L65.3 131.1L62.8 128.9L60.5 126.4L58.4 123.7L56.6 120.9L55.0 117.8L53.7 114.7L52.7 111.3L52.0 107.8L51.5 104.2L51.4 100.2L51.5 96.2L52.0 92.6L52.7 89.1L53.7 85.7L55.0 82.6L56.6 79.5L58.4 76.7L60.5 74.0L62.8 71.5L65.3 69.3L68.1 67.3L71.0 65.5L74.1 64.0L77.4 62.7L80.9 61.7L84.5 61.0L88.2 60.6L92.3 60.4L96.4 60.6L100.1 61.0L103.7 61.7L107.2 62.7L110.5 64.0L113.6 65.5L116.5 67.3L119.3 69.3L121.8 71.5L124.1 74.0L126.2 76.7L128.0 79.5L129.6 82.6L130.9 85.7L131.9 89.1L132.6 92.6L133.1 96.2Z" fill="#e41f27" stroke="#e41f27" stroke-width="0.7"/><path d="M132.9 100.2L132.7 104.1L132.3 107.8L131.6 111.2L130.5 114.5L129.3 117.7L127.7 120.7L125.9 123.5L123.8 126.2L121.5 128.6L119.0 130.9L116.3 132.9L113.4 134.6L110.3 136.1L107.0 137.4L103.6 138.4L100.1 139.1L96.4 139.5L92.3 139.6L88.2 139.5L84.5 139.1L81.0 138.4L77.6 137.4L74.3 136.1L71.2 134.6L68.3 132.9L65.6 130.9L63.1 128.6L60.8 126.2L58.7 123.5L56.9 120.7L55.3 117.7L54.1 114.5L53.0 111.2L52.3 107.8L51.9 104.1L51.7 100.2L51.9 96.3L52.3 92.6L53.0 89.2L54.1 85.9L55.3 82.7L56.9 79.7L58.7 76.9L60.8 74.2L63.1 71.8L65.6 69.5L68.3 67.5L71.2 65.8L74.3 64.3L77.6 63.0L81.0 62.0L84.5 61.3L88.2 60.9L92.3 60.8L96.4 60.9L100.1 61.3L103.6 62.0L107.0 63.0L110.3 64.3L113.4 65.8L116.3 67.5L119.0 69.5L121.5 71.8L123.8 74.2L125.9 76.9L127.7 79.7L129.3 82.7L130.5 85.9L131.6 89.2L132.3 92.6L132.7 96.3Z" fill="#e91e26" stroke="#e91e26" stroke-width="0.7"/><path d="M130.8 100.2L130.6 103.9L130.2 107.4L129.5 110.6L128.6 113.8L127.4 116.8L125.9 119.6L124.2 122.3L122.2 124.8L120.0 127.2L117.7 129.3L115.1 131.2L112.3 132.9L109.4 134.3L106.3 135.5L103.1 136.4L99.7 137.1L96.2 137.5L92.3 137.6L88.4 137.5L84.9 137.1L81.5 136.4L78.3 135.5L75.2 134.3L72.3 132.9L69.5 131.2L66.9 129.3L64.6 127.2L62.4 124.8L60.4 122.3L58.7 119.6L57.2 116.8L56.0 113.8L55.1 110.6L54.4 107.4L54.0 103.9L53.8 100.2L54.0 96.5L54.4 93.0L55.1 89.8L56.0 86.6L57.2 83.6L58.7 80.8L60.4 78.1L62.4 75.6L64.6 73.2L66.9 71.1L69.5 69.2L72.3 67.5L75.2 66.1L78.3 64.9L81.5 64.0L84.9 63.3L88.4 62.9L92.3 62.8L96.2 62.9L99.7 63.3L103.1 64.0L106.3 64.9L109.4 66.1L112.3 67.5L115.1 69.2L117.7 71.1L120.0 73.2L122.2 75.6L124.2 78.1L125.9 80.8L127.4 83.6L128.6 86.6L129.5 89.8L130.2 93.0L130.6 96.5Z" fill="#ee2127" stroke="#ee2127" stroke-width="0.7"/><path d="M129.1 100.2L129.0 103.8L128.6 107.1L127.9 110.2L127.0 113.2L125.8 116.1L124.4 118.8L122.8 121.4L120.9 123.8L118.8 126.0L116.6 128.0L114.1 129.8L111.4 131.4L108.6 132.8L105.7 133.9L102.6 134.8L99.4 135.5L96.0 135.8L92.3 136.0L88.6 135.8L85.2 135.5L82.0 134.8L78.9 133.9L76.0 132.8L73.2 131.4L70.5 129.8L68.0 128.0L65.8 126.0L63.7 123.8L61.8 121.4L60.2 118.8L58.8 116.1L57.6 113.2L56.7 110.2L56.0 107.1L55.6 103.8L55.5 100.2L55.6 96.6L56.0 93.3L56.7 90.2L57.6 87.2L58.8 84.3L60.2 81.6L61.8 79.0L63.7 76.6L65.8 74.4L68.0 72.4L70.5 70.6L73.2 69.0L76.0 67.6L78.9 66.5L82.0 65.6L85.2 64.9L88.6 64.6L92.3 64.4L96.0 64.6L99.4 64.9L102.6 65.6L105.7 66.5L108.6 67.6L111.4 69.0L114.1 70.6L116.6 72.4L118.8 74.4L120.9 76.6L122.8 79.0L124.4 81.6L125.8 84.3L127.0 87.2L127.9 90.2L128.6 93.3L129.0 96.6Z" fill="#ee2628" stroke="#ee2628" stroke-width="0.7"/><path d="M128.4 100.2L128.3 103.7L127.9 106.9L127.3 110.0L126.4 113.0L125.2 115.8L123.8 118.5L122.2 121.0L120.4 123.3L118.4 125.5L116.1 127.5L113.7 129.3L111.1 130.9L108.3 132.2L105.4 133.3L102.4 134.2L99.2 134.8L95.9 135.2L92.3 135.3L88.7 135.2L85.4 134.8L82.2 134.2L79.2 133.3L76.3 132.2L73.5 130.9L70.9 129.3L68.5 127.5L66.2 125.5L64.2 123.3L62.4 121.0L60.8 118.5L59.4 115.8L58.2 113.0L57.3 110.0L56.7 106.9L56.3 103.7L56.2 100.2L56.3 96.7L56.7 93.5L57.3 90.4L58.2 87.4L59.4 84.6L60.8 81.9L62.4 79.4L64.2 77.1L66.2 74.9L68.5 72.9L70.9 71.1L73.5 69.5L76.3 68.2L79.2 67.1L82.2 66.2L85.4 65.6L88.7 65.2L92.3 65.1L95.9 65.2L99.2 65.6L102.4 66.2L105.4 67.1L108.3 68.2L111.1 69.5L113.7 71.1L116.1 72.9L118.4 74.9L120.4 77.1L122.2 79.4L123.8 81.9L125.2 84.6L126.4 87.4L127.3 90.4L127.9 93.5L128.3 96.7Z" fill="#ee2c28" stroke="#ee2c28" stroke-width="0.7"/><path d="M127.7 100.2L127.6 103.6L127.2 106.8L126.6 109.8L125.7 112.7L124.6 115.5L123.2 118.1L121.7 120.6L119.9 122.9L117.9 125.0L115.7 127.0L113.3 128.7L110.7 130.3L108.0 131.6L105.2 132.7L102.2 133.5L99.1 134.2L95.8 134.5L92.3 134.6L88.8 134.5L85.5 134.2L82.4 133.5L79.4 132.7L76.6 131.6L73.9 130.3L71.3 128.7L68.9 127.0L66.7 125.0L64.7 122.9L62.9 120.6L61.4 118.1L60.0 115.5L58.9 112.7L58.0 109.8L57.4 106.8L57.0 103.6L56.9 100.2L57.0 96.8L57.4 93.6L58.0 90.6L58.9 87.7L60.0 84.9L61.4 82.3L62.9 79.8L64.7 77.5L66.7 75.4L68.9 73.4L71.3 71.7L73.9 70.1L76.6 68.8L79.4 67.7L82.4 66.9L85.5 66.2L88.8 65.9L92.3 65.8L95.8 65.9L99.1 66.2L102.2 66.9L105.2 67.7L108.0 68.8L110.7 70.1L113.3 71.7L115.7 73.4L117.9 75.4L119.9 77.5L121.7 79.8L123.2 82.3L124.6 84.9L125.7 87.7L126.6 90.6L127.2 93.6L127.6 96.8Z" fill="#ef3227" stroke="#ef3227" stroke-width="0.7"/><path d="M127.2 100.2L127.1 103.6L126.7 106.7L126.1 109.7L125.2 112.5L124.1 115.3L122.8 117.8L121.2 120.3L119.4 122.6L117.5 124.7L115.3 126.6L113.0 128.3L110.4 129.8L107.8 131.1L105.0 132.2L102.1 133.0L99.0 133.6L95.8 134.0L92.3 134.1L88.8 134.0L85.6 133.6L82.5 133.0L79.6 132.2L76.8 131.1L74.2 129.8L71.6 128.3L69.3 126.6L67.1 124.7L65.2 122.6L63.4 120.3L61.8 117.8L60.5 115.3L59.4 112.5L58.5 109.7L57.9 106.7L57.5 103.6L57.4 100.2L57.5 96.8L57.9 93.7L58.5 90.7L59.4 87.9L60.5 85.1L61.8 82.6L63.4 80.1L65.2 77.8L67.1 75.7L69.3 73.8L71.6 72.1L74.2 70.6L76.8 69.3L79.6 68.2L82.5 67.4L85.6 66.8L88.8 66.4L92.3 66.3L95.8 66.4L99.0 66.8L102.1 67.4L105.0 68.2L107.8 69.3L110.4 70.6L113.0 72.1L115.3 73.8L117.5 75.7L119.4 77.8L121.2 80.1L122.8 82.6L124.1 85.1L125.2 87.9L126.1 90.7L126.7 93.7L127.1 96.8Z" fill="#ef3827" stroke="#ef3827" stroke-width="0.7"/><path d="M126.8 100.2L126.6 103.6L126.3 106.6L125.7 109.6L124.8 112.4L123.7 115.1L122.4 117.6L120.8 120.0L119.1 122.3L117.2 124.4L115.0 126.2L112.7 127.9L110.2 129.4L107.6 130.7L104.8 131.8L101.9 132.6L98.9 133.2L95.7 133.6L92.3 133.7L88.9 133.6L85.7 133.2L82.7 132.6L79.8 131.8L77.0 130.7L74.4 129.4L71.9 127.9L69.6 126.2L67.4 124.4L65.5 122.3L63.8 120.0L62.2 117.6L60.9 115.1L59.8 112.4L58.9 109.6L58.3 106.6L58.0 103.6L57.8 100.2L58.0 96.8L58.3 93.8L58.9 90.8L59.8 88.0L60.9 85.3L62.2 82.8L63.8 80.4L65.5 78.1L67.4 76.0L69.6 74.2L71.9 72.5L74.4 71.0L77.0 69.7L79.8 68.6L82.7 67.8L85.7 67.2L88.9 66.8L92.3 66.7L95.7 66.8L98.9 67.2L101.9 67.8L104.8 68.6L107.6 69.7L110.2 71.0L112.7 72.5L115.0 74.2L117.2 76.0L119.1 78.1L120.8 80.4L122.4 82.8L123.7 85.3L124.8 88.0L125.7 90.8L126.3 93.8L126.6 96.8Z" fill="#ef3e27" stroke="#ef3e27" stroke-width="0.7"/><path d="M126.3 100.2L126.2 103.5L125.8 106.5L125.2 109.4L124.4 112.2L123.3 114.9L122.0 117.4L120.5 119.8L118.8 122.0L116.8 124.0L114.7 125.9L112.4 127.6L110.0 129.1L107.4 130.3L104.7 131.4L101.8 132.2L98.8 132.8L95.7 133.1L92.3 133.3L88.9 133.1L85.8 132.8L82.8 132.2L79.9 131.4L77.2 130.3L74.6 129.1L72.2 127.6L69.9 125.9L67.8 124.0L65.8 122.0L64.1 119.8L62.6 117.4L61.3 114.9L60.2 112.2L59.4 109.4L58.8 106.5L58.4 103.5L58.3 100.2L58.4 96.9L58.8 93.9L59.4 91.0L60.2 88.2L61.3 85.5L62.6 83.0L64.1 80.6L65.8 78.4L67.8 76.4L69.9 74.5L72.2 72.8L74.6 71.3L77.2 70.1L79.9 69.0L82.8 68.2L85.8 67.6L88.9 67.3L92.3 67.1L95.7 67.3L98.8 67.6L101.8 68.2L104.7 69.0L107.4 70.1L110.0 71.3L112.4 72.8L114.7 74.5L116.8 76.4L118.8 78.4L120.5 80.6L122.0 83.0L123.3 85.5L124.4 88.2L125.2 91.0L125.8 93.9L126.2 96.9Z" fill="#f04426" stroke="#f04426" stroke-width="0.7"/><path d="M125.9 100.2L125.8 103.5L125.4 106.5L124.8 109.3L124.0 112.1L122.9 114.7L121.6 117.2L120.1 119.5L118.4 121.7L116.5 123.7L114.4 125.6L112.2 127.2L109.8 128.7L107.2 130.0L104.5 131.0L101.7 131.8L98.7 132.4L95.7 132.7L92.3 132.8L88.9 132.7L85.9 132.4L82.9 131.8L80.1 131.0L77.4 130.0L74.8 128.7L72.4 127.2L70.2 125.6L68.1 123.7L66.2 121.7L64.5 119.5L63.0 117.2L61.7 114.7L60.6 112.1L59.8 109.3L59.2 106.5L58.8 103.5L58.7 100.2L58.8 96.9L59.2 93.9L59.8 91.1L60.6 88.3L61.7 85.7L63.0 83.2L64.5 80.9L66.2 78.7L68.1 76.7L70.2 74.8L72.4 73.2L74.8 71.7L77.4 70.4L80.1 69.4L82.9 68.6L85.9 68.0L88.9 67.7L92.3 67.6L95.7 67.7L98.7 68.0L101.7 68.6L104.5 69.4L107.2 70.4L109.8 71.7L112.2 73.2L114.4 74.8L116.5 76.7L118.4 78.7L120.1 80.9L121.6 83.2L122.9 85.7L124.0 88.3L124.8 91.1L125.4 93.9L125.8 96.9Z" fill="#f04a26" stroke="#f04a26" stroke-width="0.7"/><path d="M125.4 100.2L125.3 103.4L125.0 106.4L124.4 109.2L123.6 111.9L122.5 114.5L121.2 117.0L119.8 119.3L118.1 121.4L116.2 123.4L114.1 125.3L111.9 126.9L109.5 128.3L107.0 129.6L104.3 130.6L101.6 131.4L98.7 132.0L95.6 132.3L92.3 132.4L89.0 132.3L85.9 132.0L83.0 131.4L80.3 130.6L77.6 129.6L75.1 128.3L72.7 126.9L70.5 125.3L68.4 123.4L66.5 121.4L64.8 119.3L63.4 117.0L62.1 114.5L61.0 111.9L60.2 109.2L59.6 106.4L59.3 103.4L59.2 100.2L59.3 97.0L59.6 94.0L60.2 91.2L61.0 88.5L62.1 85.9L63.4 83.4L64.8 81.1L66.5 79.0L68.4 77.0L70.5 75.1L72.7 73.5L75.1 72.1L77.6 70.8L80.3 69.8L83.0 69.0L85.9 68.4L89.0 68.1L92.3 68.0L95.6 68.1L98.7 68.4L101.6 69.0L104.3 69.8L107.0 70.8L109.5 72.1L111.9 73.5L114.1 75.1L116.2 77.0L118.1 79.0L119.8 81.1L121.2 83.4L122.5 85.9L123.6 88.5L124.4 91.2L125.0 94.0L125.3 97.0Z" fill="#f15025" stroke="#f15025" stroke-width="0.7"/><path d="M125.0 100.2L124.9 103.4L124.5 106.3L124.0 109.1L123.1 111.8L122.1 114.3L120.9 116.7L119.4 119.0L117.7 121.2L115.9 123.1L113.9 124.9L111.7 126.5L109.3 128.0L106.8 129.2L104.2 130.2L101.4 131.0L98.6 131.5L95.6 131.9L92.3 132.0L89.0 131.9L86.0 131.5L83.2 131.0L80.4 130.2L77.8 129.2L75.3 128.0L72.9 126.5L70.7 124.9L68.7 123.1L66.9 121.2L65.2 119.0L63.7 116.7L62.5 114.3L61.5 111.8L60.6 109.1L60.1 106.3L59.7 103.4L59.6 100.2L59.7 97.0L60.1 94.1L60.6 91.3L61.5 88.6L62.5 86.1L63.7 83.7L65.2 81.4L66.9 79.2L68.7 77.3L70.7 75.5L72.9 73.9L75.3 72.4L77.8 71.2L80.4 70.2L83.2 69.4L86.0 68.9L89.0 68.5L92.3 68.4L95.6 68.5L98.6 68.9L101.4 69.4L104.2 70.2L106.8 71.2L109.3 72.4L111.7 73.9L113.9 75.5L115.9 77.3L117.7 79.2L119.4 81.4L120.9 83.7L122.1 86.1L123.1 88.6L124.0 91.3L124.5 94.1L124.9 97.0Z" fill="#f15725" stroke="#f15725" stroke-width="0.7"/><path d="M124.6 100.2L124.5 103.3L124.1 106.2L123.5 109.0L122.7 111.6L121.7 114.1L120.5 116.5L119.0 118.8L117.4 120.9L115.6 122.8L113.6 124.6L111.4 126.2L109.1 127.6L106.6 128.8L104.0 129.8L101.3 130.6L98.5 131.1L95.5 131.5L92.3 131.6L89.1 131.5L86.1 131.1L83.3 130.6L80.6 129.8L78.0 128.8L75.5 127.6L73.2 126.2L71.0 124.6L69.0 122.8L67.2 120.9L65.6 118.8L64.1 116.5L62.9 114.1L61.9 111.6L61.1 109.0L60.5 106.2L60.1 103.3L60.0 100.2L60.1 97.1L60.5 94.2L61.1 91.4L61.9 88.8L62.9 86.3L64.1 83.9L65.6 81.6L67.2 79.5L69.0 77.6L71.0 75.8L73.2 74.2L75.5 72.8L78.0 71.6L80.6 70.6L83.3 69.8L86.1 69.3L89.1 68.9L92.3 68.8L95.5 68.9L98.5 69.3L101.3 69.8L104.0 70.6L106.6 71.6L109.1 72.8L111.4 74.2L113.6 75.8L115.6 77.6L117.4 79.5L119.0 81.6L120.5 83.9L121.7 86.3L122.7 88.8L123.5 91.4L124.1 94.2L124.5 97.1Z" fill="#f25d24" stroke="#f25d24" stroke-width="0.7"/><path d="M124.1 100.2L124.0 103.3L123.7 106.1L123.1 108.8L122.3 111.4L121.3 113.9L120.1 116.3L118.7 118.5L117.1 120.6L115.3 122.5L113.3 124.3L111.1 125.8L108.9 127.2L106.4 128.4L103.9 129.4L101.2 130.1L98.4 130.7L95.5 131.0L92.3 131.1L89.1 131.0L86.2 130.7L83.4 130.1L80.7 129.4L78.2 128.4L75.7 127.2L73.5 125.8L71.3 124.3L69.3 122.5L67.5 120.6L65.9 118.5L64.5 116.3L63.3 113.9L62.3 111.4L61.5 108.8L60.9 106.1L60.6 103.3L60.5 100.2L60.6 97.1L60.9 94.3L61.5 91.6L62.3 89.0L63.3 86.5L64.5 84.1L65.9 81.9L67.5 79.8L69.3 77.9L71.3 76.1L73.5 74.6L75.7 73.2L78.2 72.0L80.7 71.0L83.4 70.3L86.2 69.7L89.1 69.4L92.3 69.3L95.5 69.4L98.4 69.7L101.2 70.3L103.9 71.0L106.4 72.0L108.9 73.2L111.1 74.6L113.3 76.1L115.3 77.9L117.1 79.8L118.7 81.9L120.1 84.1L121.3 86.5L122.3 89.0L123.1 91.6L123.7 94.3L124.0 97.1Z" fill="#f26424" stroke="#f26424" stroke-width="0.7"/><path d="M123.7 100.2L123.6 103.3L123.3 106.1L122.7 108.7L121.9 111.3L120.9 113.7L119.7 116.1L118.3 118.3L116.7 120.3L114.9 122.2L113.0 123.9L110.9 125.5L108.6 126.8L106.2 128.0L103.7 129.0L101.1 129.7L98.3 130.3L95.4 130.6L92.3 130.7L89.2 130.6L86.3 130.3L83.5 129.7L80.9 129.0L78.4 128.0L76.0 126.8L73.7 125.5L71.6 123.9L69.7 122.2L67.9 120.3L66.3 118.3L64.9 116.1L63.7 113.7L62.7 111.3L61.9 108.7L61.3 106.1L61.0 103.3L60.9 100.2L61.0 97.1L61.3 94.3L61.9 91.7L62.7 89.1L63.7 86.7L64.9 84.3L66.3 82.1L67.9 80.1L69.7 78.2L71.6 76.5L73.7 74.9L76.0 73.6L78.4 72.4L80.9 71.4L83.5 70.7L86.3 70.1L89.2 69.8L92.3 69.7L95.4 69.8L98.3 70.1L101.1 70.7L103.7 71.4L106.2 72.4L108.6 73.6L110.9 74.9L113.0 76.5L114.9 78.2L116.7 80.1L118.3 82.1L119.7 84.3L120.9 86.7L121.9 89.1L122.7 91.7L123.3 94.3L123.6 97.1Z" fill="#f36a23" stroke="#f36a23" stroke-width="0.7"/><path d="M123.3 100.2L123.2 103.2L122.8 106.0L122.3 108.6L121.5 111.1L120.5 113.6L119.3 115.9L118.0 118.0L116.4 120.0L114.6 121.9L112.7 123.6L110.6 125.1L108.4 126.5L106.0 127.6L103.6 128.6L101.0 129.3L98.2 129.9L95.4 130.2L92.3 130.3L89.2 130.2L86.4 129.9L83.6 129.3L81.0 128.6L78.6 127.6L76.2 126.5L74.0 125.1L71.9 123.6L70.0 121.9L68.2 120.0L66.6 118.0L65.3 115.9L64.1 113.6L63.1 111.1L62.3 108.6L61.8 106.0L61.4 103.2L61.3 100.2L61.4 97.2L61.8 94.4L62.3 91.8L63.1 89.3L64.1 86.8L65.3 84.5L66.6 82.4L68.2 80.4L70.0 78.5L71.9 76.8L74.0 75.3L76.2 73.9L78.6 72.8L81.0 71.8L83.6 71.1L86.4 70.5L89.2 70.2L92.3 70.1L95.4 70.2L98.2 70.5L101.0 71.1L103.6 71.8L106.0 72.8L108.4 73.9L110.6 75.3L112.7 76.8L114.6 78.5L116.4 80.4L118.0 82.4L119.3 84.5L120.5 86.8L121.5 89.3L122.3 91.8L122.8 94.4L123.2 97.2Z" fill="#f37023" stroke="#f37023" stroke-width="0.7"/><path d="M122.8 100.2L122.7 103.2L122.4 105.9L121.8 108.5L121.1 111.0L120.1 113.4L119.0 115.6L117.6 117.8L116.0 119.8L114.3 121.6L112.4 123.3L110.4 124.8L108.2 126.1L105.8 127.2L103.4 128.2L100.8 128.9L98.2 129.4L95.4 129.8L92.3 129.9L89.2 129.8L86.4 129.4L83.8 128.9L81.2 128.2L78.8 127.2L76.4 126.1L74.2 124.8L72.2 123.3L70.3 121.6L68.6 119.8L67.0 117.8L65.6 115.6L64.5 113.4L63.5 111.0L62.8 108.5L62.2 105.9L61.9 103.2L61.8 100.2L61.9 97.2L62.2 94.5L62.8 91.9L63.5 89.4L64.5 87.0L65.6 84.8L67.0 82.6L68.6 80.6L70.3 78.8L72.2 77.1L74.2 75.6L76.4 74.3L78.8 73.2L81.2 72.2L83.8 71.5L86.4 71.0L89.2 70.6L92.3 70.5L95.4 70.6L98.2 71.0L100.8 71.5L103.4 72.2L105.8 73.2L108.2 74.3L110.4 75.6L112.4 77.1L114.3 78.8L116.0 80.6L117.6 82.6L119.0 84.8L120.1 87.0L121.1 89.4L121.8 91.9L122.4 94.5L122.7 97.2Z" fill="#f47622" stroke="#f47622" stroke-width="0.7"/><path d="M122.3 100.2L122.2 103.1L121.9 105.8L121.3 108.3L120.6 110.8L119.6 113.1L118.5 115.4L117.1 117.4L115.6 119.4L113.9 121.2L112.1 122.9L110.0 124.3L107.9 125.6L105.6 126.8L103.2 127.7L100.7 128.4L98.0 128.9L95.3 129.2L92.3 129.3L89.3 129.2L86.6 128.9L83.9 128.4L81.4 127.7L79.0 126.8L76.7 125.6L74.6 124.3L72.5 122.9L70.7 121.2L69.0 119.4L67.5 117.4L66.1 115.4L65.0 113.1L64.0 110.8L63.3 108.3L62.7 105.8L62.4 103.1L62.3 100.2L62.4 97.3L62.7 94.6L63.3 92.1L64.0 89.6L65.0 87.3L66.1 85.0L67.5 83.0L69.0 81.0L70.7 79.2L72.5 77.5L74.6 76.1L76.7 74.8L79.0 73.6L81.4 72.7L83.9 72.0L86.6 71.5L89.3 71.2L92.3 71.1L95.3 71.2L98.0 71.5L100.7 72.0L103.2 72.7L105.6 73.6L107.9 74.8L110.0 76.1L112.1 77.5L113.9 79.2L115.6 81.0L117.1 83.0L118.5 85.0L119.6 87.3L120.6 89.6L121.3 92.1L121.9 94.6L122.2 97.3Z" fill="#f47d22" stroke="#f47d22" stroke-width="0.7"/><path d="M121.6 100.2L121.5 103.0L121.2 105.7L120.7 108.2L119.9 110.5L119.0 112.8L117.9 115.0L116.6 117.1L115.1 119.0L113.4 120.7L111.6 122.3L109.6 123.8L107.5 125.1L105.3 126.2L102.9 127.1L100.5 127.8L97.9 128.3L95.2 128.6L92.3 128.7L89.4 128.6L86.7 128.3L84.1 127.8L81.7 127.1L79.3 126.2L77.1 125.1L75.0 123.8L73.0 122.3L71.2 120.7L69.5 119.0L68.0 117.1L66.7 115.0L65.6 112.8L64.7 110.5L63.9 108.2L63.4 105.7L63.1 103.0L63.0 100.2L63.1 97.4L63.4 94.7L63.9 92.2L64.7 89.9L65.6 87.6L66.7 85.4L68.0 83.3L69.5 81.4L71.2 79.7L73.0 78.1L75.0 76.6L77.1 75.3L79.3 74.2L81.7 73.3L84.1 72.6L86.7 72.1L89.4 71.8L92.3 71.7L95.2 71.8L97.9 72.1L100.5 72.6L102.9 73.3L105.3 74.2L107.5 75.3L109.6 76.6L111.6 78.1L113.4 79.7L115.1 81.4L116.6 83.3L117.9 85.4L119.0 87.6L119.9 89.9L120.7 92.2L121.2 94.7L121.5 97.4Z" fill="#f48321" stroke="#f48321" stroke-width="0.7"/><path d="M120.9 100.2L120.8 103.0L120.5 105.5L120.0 108.0L119.3 110.3L118.4 112.5L117.3 114.7L116.0 116.7L114.6 118.5L112.9 120.3L111.2 121.8L109.2 123.2L107.2 124.5L105.0 125.5L102.7 126.4L100.3 127.1L97.8 127.6L95.2 127.9L92.3 128.0L89.4 127.9L86.8 127.6L84.3 127.1L81.9 126.4L79.6 125.5L77.4 124.5L75.4 123.2L73.4 121.8L71.7 120.3L70.0 118.5L68.6 116.7L67.3 114.7L66.2 112.5L65.3 110.3L64.6 108.0L64.1 105.5L63.8 103.0L63.7 100.2L63.8 97.4L64.1 94.9L64.6 92.4L65.3 90.1L66.2 87.9L67.3 85.7L68.6 83.7L70.0 81.9L71.7 80.1L73.4 78.6L75.4 77.2L77.4 75.9L79.6 74.9L81.9 74.0L84.3 73.3L86.8 72.8L89.4 72.5L92.3 72.4L95.2 72.5L97.8 72.8L100.3 73.3L102.7 74.0L105.0 74.9L107.2 75.9L109.2 77.2L111.2 78.6L112.9 80.1L114.6 81.9L116.0 83.7L117.3 85.7L118.4 87.9L119.3 90.1L120.0 92.4L120.5 94.9L120.8 97.4Z" fill="#f58920" stroke="#f58920" stroke-width="0.7"/><path d="M120.2 100.2L120.1 102.9L119.8 105.4L119.3 107.8L118.6 110.1L117.8 112.2L116.7 114.3L115.4 116.3L114.0 118.1L112.4 119.8L110.7 121.3L108.8 122.7L106.8 123.9L104.7 124.9L102.5 125.8L100.1 126.5L97.7 127.0L95.1 127.3L92.3 127.3L89.5 127.3L86.9 127.0L84.5 126.5L82.1 125.8L79.9 124.9L77.8 123.9L75.8 122.7L73.9 121.3L72.2 119.8L70.6 118.1L69.2 116.3L67.9 114.3L66.8 112.2L66.0 110.1L65.3 107.8L64.8 105.4L64.5 102.9L64.4 100.2L64.5 97.5L64.8 95.0L65.3 92.6L66.0 90.3L66.8 88.2L67.9 86.1L69.2 84.1L70.6 82.3L72.2 80.6L73.9 79.1L75.8 77.7L77.8 76.5L79.9 75.5L82.1 74.6L84.5 73.9L86.9 73.4L89.5 73.1L92.3 73.1L95.1 73.1L97.7 73.4L100.1 73.9L102.5 74.6L104.7 75.5L106.8 76.5L108.8 77.7L110.7 79.1L112.4 80.6L114.0 82.3L115.4 84.1L116.7 86.1L117.8 88.2L118.6 90.3L119.3 92.6L119.8 95.0L120.1 97.5Z" fill="#f6901f" stroke="#f6901f" stroke-width="0.7"/><path d="M119.6 100.2L119.5 102.9L119.2 105.3L118.7 107.6L118.0 109.8L117.1 112.0L116.1 114.0L114.9 115.9L113.5 117.7L112.0 119.3L110.3 120.8L108.4 122.1L106.5 123.3L104.4 124.3L102.2 125.2L99.9 125.8L97.5 126.3L95.0 126.6L92.3 126.7L89.6 126.6L87.1 126.3L84.7 125.8L82.4 125.2L80.2 124.3L78.1 123.3L76.2 122.1L74.3 120.8L72.6 119.3L71.1 117.7L69.7 115.9L68.5 114.0L67.5 112.0L66.6 109.8L65.9 107.6L65.4 105.3L65.1 102.9L65.0 100.2L65.1 97.5L65.4 95.1L65.9 92.8L66.6 90.6L67.5 88.4L68.5 86.4L69.7 84.5L71.1 82.7L72.6 81.1L74.3 79.6L76.2 78.3L78.1 77.1L80.2 76.1L82.4 75.2L84.7 74.6L87.1 74.1L89.6 73.8L92.3 73.7L95.0 73.8L97.5 74.1L99.9 74.6L102.2 75.2L104.4 76.1L106.5 77.1L108.4 78.3L110.3 79.6L112.0 81.1L113.5 82.7L114.9 84.5L116.1 86.4L117.1 88.4L118.0 90.6L118.7 92.8L119.2 95.1L119.5 97.5Z" fill="#f7961d" stroke="#f7961d" stroke-width="0.7"/><path d="M118.9 100.2L118.8 102.8L118.5 105.2L118.0 107.4L117.4 109.6L116.5 111.7L115.5 113.6L114.3 115.5L113.0 117.2L111.5 118.8L109.8 120.3L108.0 121.6L106.1 122.7L104.1 123.7L102.0 124.6L99.7 125.2L97.4 125.7L95.0 125.9L92.3 126.0L89.6 125.9L87.2 125.7L84.9 125.2L82.6 124.6L80.5 123.7L78.5 122.7L76.6 121.6L74.8 120.3L73.1 118.8L71.6 117.2L70.3 115.5L69.1 113.6L68.1 111.7L67.2 109.6L66.6 107.4L66.1 105.2L65.8 102.8L65.7 100.2L65.8 97.6L66.1 95.2L66.6 93.0L67.2 90.8L68.1 88.7L69.1 86.8L70.3 84.9L71.6 83.2L73.1 81.6L74.8 80.1L76.6 78.8L78.5 77.7L80.5 76.7L82.6 75.8L84.9 75.2L87.2 74.7L89.6 74.5L92.3 74.4L95.0 74.5L97.4 74.7L99.7 75.2L102.0 75.8L104.1 76.7L106.1 77.7L108.0 78.8L109.8 80.1L111.5 81.6L113.0 83.2L114.3 84.9L115.5 86.8L116.5 88.7L117.4 90.8L118.0 93.0L118.5 95.2L118.8 97.6Z" fill="#f89d1b" stroke="#f89d1b" stroke-width="0.7"/><path d="M118.2 100.2L118.1 102.7L117.8 105.0L117.4 107.2L116.7 109.3L115.9 111.4L114.9 113.3L113.7 115.1L112.4 116.8L111.0 118.3L109.4 119.8L107.6 121.0L105.8 122.2L103.8 123.1L101.7 123.9L99.5 124.5L97.3 125.0L94.9 125.3L92.3 125.4L89.7 125.3L87.3 125.0L85.1 124.5L82.9 123.9L80.8 123.1L78.8 122.2L77.0 121.0L75.2 119.8L73.6 118.3L72.2 116.8L70.9 115.1L69.7 113.3L68.7 111.4L67.9 109.3L67.2 107.2L66.8 105.0L66.5 102.7L66.4 100.2L66.5 97.7L66.8 95.4L67.2 93.2L67.9 91.1L68.7 89.0L69.7 87.1L70.9 85.3L72.2 83.6L73.6 82.1L75.2 80.6L77.0 79.4L78.8 78.2L80.8 77.3L82.9 76.5L85.1 75.9L87.3 75.4L89.7 75.1L92.3 75.0L94.9 75.1L97.3 75.4L99.5 75.9L101.7 76.5L103.8 77.3L105.8 78.2L107.6 79.4L109.4 80.6L111.0 82.1L112.4 83.6L113.7 85.3L114.9 87.1L115.9 89.0L116.7 91.1L117.4 93.2L117.8 95.4L118.1 97.7Z" fill="#f8a319" stroke="#f8a319" stroke-width="0.7"/><path d="M117.3 100.2L117.2 102.6L117.0 104.9L116.5 107.0L115.9 109.0L115.1 111.0L114.2 112.9L113.0 114.6L111.8 116.2L110.4 117.7L108.8 119.1L107.1 120.4L105.3 121.4L103.4 122.4L101.4 123.1L99.3 123.7L97.1 124.2L94.8 124.4L92.3 124.5L89.8 124.4L87.5 124.2L85.3 123.7L83.2 123.1L81.2 122.4L79.3 121.4L77.5 120.4L75.8 119.1L74.2 117.7L72.8 116.2L71.6 114.6L70.4 112.9L69.5 111.0L68.7 109.0L68.1 107.0L67.6 104.9L67.4 102.6L67.3 100.2L67.4 97.8L67.6 95.5L68.1 93.4L68.7 91.4L69.5 89.4L70.4 87.5L71.6 85.8L72.8 84.2L74.2 82.7L75.8 81.3L77.5 80.0L79.3 79.0L81.2 78.0L83.2 77.3L85.3 76.7L87.5 76.2L89.8 76.0L92.3 75.9L94.8 76.0L97.1 76.2L99.3 76.7L101.4 77.3L103.4 78.0L105.3 79.0L107.1 80.0L108.8 81.3L110.4 82.7L111.8 84.2L113.0 85.8L114.2 87.5L115.1 89.4L115.9 91.4L116.5 93.4L117.0 95.5L117.2 97.8Z" fill="#f8aa16" stroke="#f8aa16" stroke-width="0.7"/><path d="M116.5 100.2L116.4 102.6L116.1 104.7L115.7 106.8L115.1 108.7L114.3 110.6L113.4 112.4L112.3 114.1L111.1 115.7L109.7 117.1L108.2 118.5L106.6 119.7L104.9 120.7L103.0 121.6L101.1 122.4L99.1 122.9L96.9 123.4L94.7 123.6L92.3 123.7L89.9 123.6L87.7 123.4L85.5 122.9L83.5 122.4L81.6 121.6L79.7 120.7L78.0 119.7L76.4 118.5L74.9 117.1L73.5 115.7L72.3 114.1L71.2 112.4L70.3 110.6L69.5 108.7L68.9 106.8L68.5 104.7L68.2 102.6L68.1 100.2L68.2 97.8L68.5 95.7L68.9 93.6L69.5 91.7L70.3 89.8L71.2 88.0L72.3 86.3L73.5 84.7L74.9 83.3L76.4 81.9L78.0 80.7L79.7 79.7L81.6 78.8L83.5 78.0L85.5 77.5L87.7 77.0L89.9 76.8L92.3 76.7L94.7 76.8L96.9 77.0L99.1 77.5L101.1 78.0L103.0 78.8L104.9 79.7L106.6 80.7L108.2 81.9L109.7 83.3L111.1 84.7L112.3 86.3L113.4 88.0L114.3 89.8L115.1 91.7L115.7 93.6L116.1 95.7L116.4 97.8Z" fill="#f8b114" stroke="#f8b114" stroke-width="0.7"/><path d="M115.6 100.2L115.5 102.5L115.3 104.5L114.9 106.5L114.3 108.4L113.6 110.3L112.7 112.0L111.6 113.6L110.4 115.1L109.1 116.5L107.7 117.8L106.1 119.0L104.4 120.0L102.7 120.9L100.8 121.6L98.8 122.1L96.8 122.5L94.6 122.8L92.3 122.9L90.0 122.8L87.8 122.5L85.8 122.1L83.8 121.6L81.9 120.9L80.2 120.0L78.5 119.0L76.9 117.8L75.5 116.5L74.2 115.1L73.0 113.6L71.9 112.0L71.0 110.3L70.3 108.4L69.7 106.5L69.3 104.5L69.1 102.5L69.0 100.2L69.1 97.9L69.3 95.9L69.7 93.9L70.3 92.0L71.0 90.1L71.9 88.4L73.0 86.8L74.2 85.3L75.5 83.9L76.9 82.6L78.5 81.4L80.2 80.4L81.9 79.5L83.8 78.8L85.8 78.3L87.8 77.9L90.0 77.6L92.3 77.5L94.6 77.6L96.8 77.9L98.8 78.3L100.8 78.8L102.7 79.5L104.4 80.4L106.1 81.4L107.7 82.6L109.1 83.9L110.4 85.3L111.6 86.8L112.7 88.4L113.6 90.1L114.3 92.0L114.9 93.9L115.3 95.9L115.5 97.9Z" fill="#f8b812" stroke="#f8b812" stroke-width="0.7"/><path d="M114.8 100.2L114.7 102.4L114.4 104.4L114.0 106.3L113.5 108.1L112.8 109.9L111.9 111.6L110.9 113.1L109.8 114.6L108.5 116.0L107.1 117.2L105.6 118.3L104.0 119.3L102.3 120.1L100.5 120.8L98.6 121.3L96.6 121.7L94.5 122.0L92.3 122.0L90.1 122.0L88.0 121.7L86.0 121.3L84.1 120.8L82.3 120.1L80.6 119.3L79.0 118.3L77.5 117.2L76.1 116.0L74.8 114.6L73.7 113.1L72.7 111.6L71.8 109.9L71.1 108.1L70.6 106.3L70.2 104.4L69.9 102.4L69.8 100.2L69.9 98.0L70.2 96.0L70.6 94.1L71.1 92.3L71.8 90.5L72.7 88.8L73.7 87.3L74.8 85.8L76.1 84.4L77.5 83.2L79.0 82.1L80.6 81.1L82.3 80.3L84.1 79.6L86.0 79.1L88.0 78.7L90.1 78.4L92.3 78.4L94.5 78.4L96.6 78.7L98.6 79.1L100.5 79.6L102.3 80.3L104.0 81.1L105.6 82.1L107.1 83.2L108.5 84.4L109.8 85.8L110.9 87.3L111.9 88.8L112.8 90.5L113.5 92.3L114.0 94.1L114.4 96.0L114.7 98.0Z" fill="#f8bf10" stroke="#f8bf10" stroke-width="0.7"/><path d="M113.7 100.2L113.6 102.3L113.4 104.2L113.0 106.0L112.5 107.8L111.8 109.4L111.0 111.0L110.0 112.5L108.9 113.9L107.7 115.2L106.4 116.4L105.0 117.4L103.4 118.4L101.8 119.2L100.1 119.8L98.3 120.3L96.4 120.7L94.4 120.9L92.3 121.0L90.2 120.9L88.2 120.7L86.3 120.3L84.5 119.8L82.8 119.2L81.2 118.4L79.6 117.4L78.2 116.4L76.9 115.2L75.7 113.9L74.6 112.5L73.6 111.0L72.8 109.4L72.1 107.8L71.6 106.0L71.2 104.2L71.0 102.3L70.9 100.2L71.0 98.1L71.2 96.2L71.6 94.4L72.1 92.6L72.8 91.0L73.6 89.4L74.6 87.9L75.7 86.5L76.9 85.2L78.2 84.0L79.6 83.0L81.2 82.0L82.8 81.2L84.5 80.6L86.3 80.1L88.2 79.7L90.2 79.5L92.3 79.4L94.4 79.5L96.4 79.7L98.3 80.1L100.1 80.6L101.8 81.2L103.4 82.0L105.0 83.0L106.4 84.0L107.7 85.2L108.9 86.5L110.0 87.9L111.0 89.4L111.8 91.0L112.5 92.6L113.0 94.4L113.4 96.2L113.6 98.1Z" fill="#f8c510" stroke="#f8c510" stroke-width="0.7"/><path d="M112.6 100.2L112.6 102.2L112.3 104.0L112.0 105.7L111.5 107.4L110.8 109.0L110.1 110.5L109.1 111.9L108.1 113.2L107.0 114.5L105.7 115.6L104.3 116.6L102.9 117.5L101.3 118.2L99.7 118.8L98.0 119.3L96.2 119.7L94.3 119.9L92.3 120.0L90.3 119.9L88.4 119.7L86.6 119.3L84.9 118.8L83.3 118.2L81.7 117.5L80.3 116.6L78.9 115.6L77.6 114.5L76.5 113.2L75.5 111.9L74.5 110.5L73.8 109.0L73.1 107.4L72.6 105.7L72.3 104.0L72.0 102.2L72.0 100.2L72.0 98.2L72.3 96.4L72.6 94.7L73.1 93.0L73.8 91.4L74.5 89.9L75.5 88.5L76.5 87.2L77.6 85.9L78.9 84.8L80.3 83.8L81.7 82.9L83.3 82.2L84.9 81.6L86.6 81.1L88.4 80.7L90.3 80.5L92.3 80.4L94.3 80.5L96.2 80.7L98.0 81.1L99.7 81.6L101.3 82.2L102.9 82.9L104.3 83.8L105.7 84.8L107.0 85.9L108.1 87.2L109.1 88.5L110.1 89.9L110.8 91.4L111.5 93.0L112.0 94.7L112.3 96.4L112.6 98.2Z" fill="#f8cc10" stroke="#f8cc10" stroke-width="0.7"/><path d="M111.6 100.2L111.5 102.1L111.3 103.8L111.0 105.4L110.5 107.0L109.9 108.5L109.1 109.9L108.3 111.3L107.3 112.5L106.2 113.7L105.0 114.8L103.7 115.7L102.3 116.6L100.9 117.3L99.3 117.9L97.7 118.3L96.0 118.7L94.2 118.9L92.3 118.9L90.4 118.9L88.6 118.7L86.9 118.3L85.3 117.9L83.7 117.3L82.3 116.6L80.9 115.7L79.6 114.8L78.4 113.7L77.3 112.5L76.3 111.3L75.5 109.9L74.7 108.5L74.1 107.0L73.6 105.4L73.3 103.8L73.1 102.1L73.0 100.2L73.1 98.3L73.3 96.6L73.6 95.0L74.1 93.4L74.7 91.9L75.5 90.5L76.3 89.1L77.3 87.9L78.4 86.7L79.6 85.6L80.9 84.7L82.3 83.8L83.7 83.1L85.3 82.5L86.9 82.1L88.6 81.7L90.4 81.5L92.3 81.5L94.2 81.5L96.0 81.7L97.7 82.1L99.3 82.5L100.9 83.1L102.3 83.8L103.7 84.7L105.0 85.6L106.2 86.7L107.3 87.9L108.3 89.1L109.1 90.5L109.9 91.9L110.5 93.4L111.0 95.0L111.3 96.6L111.5 98.3Z" fill="#f8d211" stroke="#f8d211" stroke-width="0.7"/><path d="M110.5 100.2L110.4 102.0L110.2 103.6L109.9 105.1L109.5 106.6L108.9 108.1L108.2 109.4L107.4 110.7L106.5 111.9L105.4 113.0L104.3 114.0L103.1 114.9L101.8 115.6L100.4 116.3L98.9 116.9L97.4 117.3L95.8 117.6L94.1 117.8L92.3 117.9L90.5 117.8L88.8 117.6L87.2 117.3L85.7 116.9L84.2 116.3L82.8 115.6L81.5 114.9L80.3 114.0L79.2 113.0L78.1 111.9L77.2 110.7L76.4 109.4L75.7 108.1L75.1 106.6L74.7 105.1L74.4 103.6L74.2 102.0L74.1 100.2L74.2 98.4L74.4 96.8L74.7 95.3L75.1 93.8L75.7 92.3L76.4 91.0L77.2 89.7L78.1 88.5L79.2 87.4L80.3 86.4L81.5 85.5L82.8 84.8L84.2 84.1L85.7 83.5L87.2 83.1L88.8 82.8L90.5 82.6L92.3 82.5L94.1 82.6L95.8 82.8L97.4 83.1L98.9 83.5L100.4 84.1L101.8 84.8L103.1 85.5L104.3 86.4L105.4 87.4L106.5 88.5L107.4 89.7L108.2 91.0L108.9 92.3L109.5 93.8L109.9 95.3L110.2 96.8L110.4 98.4Z" fill="#f8d912" stroke="#f8d912" stroke-width="0.7"/><path d="M109.4 100.2L109.4 101.9L109.2 103.4L108.9 104.9L108.5 106.3L107.9 107.6L107.3 108.9L106.5 110.1L105.6 111.2L104.7 112.2L103.6 113.2L102.4 114.0L101.2 114.7L99.9 115.4L98.5 115.9L97.1 116.3L95.6 116.6L94.0 116.8L92.3 116.9L90.6 116.8L89.0 116.6L87.5 116.3L86.1 115.9L84.7 115.4L83.4 114.7L82.2 114.0L81.0 113.2L79.9 112.2L79.0 111.2L78.1 110.1L77.3 108.9L76.7 107.6L76.1 106.3L75.7 104.9L75.4 103.4L75.2 101.9L75.2 100.2L75.2 98.5L75.4 97.0L75.7 95.5L76.1 94.1L76.7 92.8L77.3 91.5L78.1 90.3L79.0 89.2L79.9 88.2L81.0 87.2L82.2 86.4L83.4 85.7L84.7 85.0L86.1 84.5L87.5 84.1L89.0 83.8L90.6 83.6L92.3 83.5L94.0 83.6L95.6 83.8L97.1 84.1L98.5 84.5L99.9 85.0L101.2 85.7L102.4 86.4L103.6 87.2L104.7 88.2L105.6 89.2L106.5 90.3L107.3 91.5L107.9 92.8L108.5 94.1L108.9 95.5L109.2 97.0L109.4 98.5Z" fill="#f8df14" stroke="#f8df14" stroke-width="0.7"/><path d="M108.1 100.2L108.0 101.7L107.9 103.1L107.6 104.5L107.2 105.8L106.7 107.0L106.1 108.2L105.4 109.3L104.6 110.3L103.7 111.3L102.7 112.1L101.7 112.9L100.5 113.6L99.3 114.2L98.0 114.7L96.7 115.1L95.3 115.3L93.9 115.5L92.3 115.6L90.7 115.5L89.3 115.3L87.9 115.1L86.6 114.7L85.3 114.2L84.1 113.6L82.9 112.9L81.9 112.1L80.9 111.3L80.0 110.3L79.2 109.3L78.5 108.2L77.9 107.0L77.4 105.8L77.0 104.5L76.7 103.1L76.6 101.7L76.5 100.2L76.6 98.7L76.7 97.3L77.0 95.9L77.4 94.6L77.9 93.4L78.5 92.2L79.2 91.1L80.0 90.1L80.9 89.1L81.9 88.3L82.9 87.5L84.1 86.8L85.3 86.2L86.6 85.7L87.9 85.3L89.3 85.1L90.7 84.9L92.3 84.8L93.9 84.9L95.3 85.1L96.7 85.3L98.0 85.7L99.3 86.2L100.5 86.8L101.7 87.5L102.7 88.3L103.7 89.1L104.6 90.1L105.4 91.1L106.1 92.2L106.7 93.4L107.2 94.6L107.6 95.9L107.9 97.3L108.0 98.7Z" fill="#f8e516" stroke="#f8e516" stroke-width="0.7"/><path d="M106.0 100.2L106.0 101.5L105.8 102.8L105.6 103.9L105.2 105.0L104.8 106.1L104.3 107.1L103.7 108.1L103.0 109.0L102.2 109.8L101.3 110.6L100.4 111.2L99.4 111.8L98.4 112.4L97.3 112.8L96.1 113.1L94.9 113.3L93.7 113.5L92.3 113.5L90.9 113.5L89.7 113.3L88.5 113.1L87.3 112.8L86.2 112.4L85.2 111.8L84.2 111.2L83.3 110.6L82.4 109.8L81.6 109.0L80.9 108.1L80.3 107.1L79.8 106.1L79.4 105.0L79.0 103.9L78.8 102.8L78.6 101.5L78.6 100.2L78.6 98.9L78.8 97.6L79.0 96.5L79.4 95.4L79.8 94.3L80.3 93.3L80.9 92.3L81.6 91.4L82.4 90.6L83.3 89.8L84.2 89.2L85.2 88.6L86.2 88.0L87.3 87.6L88.5 87.3L89.7 87.1L90.9 86.9L92.3 86.9L93.7 86.9L94.9 87.1L96.1 87.3L97.3 87.6L98.4 88.0L99.4 88.6L100.4 89.2L101.3 89.8L102.2 90.6L103.0 91.4L103.7 92.3L104.3 93.3L104.8 94.3L105.2 95.4L105.6 96.5L105.8 97.6L106.0 98.9Z" fill="#f5eb19" stroke="#f5eb19" stroke-width="0.7"/><path d="M103.9 100.2L103.9 101.3L103.8 102.4L103.6 103.4L103.3 104.3L102.9 105.2L102.5 106.1L101.9 106.9L101.4 107.7L100.7 108.4L100.0 109.0L99.2 109.6L98.4 110.1L97.5 110.5L96.5 110.9L95.6 111.1L94.5 111.3L93.5 111.5L92.3 111.5L91.1 111.5L90.1 111.3L89.0 111.1L88.1 110.9L87.1 110.5L86.2 110.1L85.4 109.6L84.6 109.0L83.9 108.4L83.2 107.7L82.7 106.9L82.1 106.1L81.7 105.2L81.3 104.3L81.0 103.4L80.8 102.4L80.7 101.3L80.7 100.2L80.7 99.1L80.8 98.0L81.0 97.0L81.3 96.1L81.7 95.2L82.1 94.3L82.7 93.5L83.2 92.7L83.9 92.0L84.6 91.4L85.4 90.8L86.2 90.3L87.1 89.9L88.1 89.5L89.0 89.3L90.1 89.1L91.1 88.9L92.3 88.9L93.5 88.9L94.5 89.1L95.6 89.3L96.5 89.5L97.5 89.9L98.4 90.3L99.2 90.8L100.0 91.4L100.7 92.0L101.4 92.7L101.9 93.5L102.5 94.3L102.9 95.2L103.3 96.1L103.6 97.0L103.8 98.0L103.9 99.1Z" fill="#f4ee1c" stroke="#f4ee1c" stroke-width="0.7"/><path d="M101.9 100.2L101.8 101.1L101.7 102.0L101.5 102.8L101.3 103.6L101.0 104.3L100.6 105.0L100.2 105.7L99.7 106.3L99.2 106.9L98.6 107.4L98.0 107.9L97.3 108.3L96.5 108.7L95.8 109.0L95.0 109.2L94.1 109.4L93.3 109.5L92.3 109.5L91.3 109.5L90.5 109.4L89.6 109.2L88.8 109.0L88.1 108.7L87.3 108.3L86.6 107.9L86.0 107.4L85.4 106.9L84.9 106.3L84.4 105.7L84.0 105.0L83.6 104.3L83.3 103.6L83.1 102.8L82.9 102.0L82.8 101.1L82.7 100.2L82.8 99.3L82.9 98.4L83.1 97.6L83.3 96.8L83.6 96.1L84.0 95.4L84.4 94.7L84.9 94.1L85.4 93.5L86.0 93.0L86.6 92.5L87.3 92.1L88.1 91.7L88.8 91.4L89.6 91.2L90.5 91.0L91.3 90.9L92.3 90.9L93.3 90.9L94.1 91.0L95.0 91.2L95.8 91.4L96.5 91.7L97.3 92.1L98.0 92.5L98.6 93.0L99.2 93.5L99.7 94.1L100.2 94.7L100.6 95.4L101.0 96.1L101.3 96.8L101.5 97.6L101.7 98.4L101.8 99.3Z" fill="#f4ee1c" stroke="#f4ee1c" stroke-width="0.7"/></g></g>
<path d="M19.49 16.6v-1.6M23.56 16.6v-1.6M27.63 16.6v-1.6M31.70 16.6v-1.6M35.77 16.6v-1.6M39.84 16.6v-1.6M43.91 16.6v-1.6M47.98 16.6v-1.6M52.05 16.6v-2.6M56.12 16.6v-1.6M60.19 16.6v-1.6M64.26 16.6v-1.6M68.33 16.6v-1.6M72.40 16.6v-1.6M76.47 16.6v-1.6M80.54 16.6v-1.6M84.61 16.6v-1.6M88.68 16.6v-1.6M92.75 16.6v-2.6M96.82 16.6v-1.6M100.89 16.6v-1.6M104.96 16.6v-1.6M109.03 16.6v-1.6M113.10 16.6v-1.6M117.17 16.6v-1.6M121.24 16.6v-1.6M125.31 16.6v-1.6M129.38 16.6v-1.6M133.45 16.6v-2.6M137.52 16.6v-1.6M141.59 16.6v-1.6M145.66 16.6v-1.6M149.73 16.6v-1.6M153.80 16.6v-1.6M157.87 16.6v-1.6M161.94 16.6v-1.6M166.01 16.6v-1.6M19.0 16.33h-1.4M19.0 20.42h-1.4M19.0 24.51h-1.4M19.0 28.60h-1.4M19.0 32.69h-1.4M19.0 36.78h-1.4M19.0 40.87h-1.4M19.0 44.96h-1.4M19.0 49.05h-2.6M19.0 53.14h-1.4M19.0 57.23h-1.4M19.0 61.32h-1.4M19.0 65.41h-1.4M19.0 69.50h-1.4M19.0 73.59h-1.4M19.0 77.68h-1.4M19.0 81.77h-1.4M19.0 85.86h-1.4M19.0 89.95h-2.6M19.0 94.04h-1.4M19.0 98.13h-1.4M19.0 102.22h-1.4M19.0 106.31h-1.4M19.0 110.40h-1.4M19.0 114.49h-1.4M19.0 118.58h-1.4M19.0 122.67h-1.4M19.0 126.76h-1.4M19.0 130.85h-2.6M19.0 134.94h-1.4M19.0 139.03h-1.4M19.0 143.12h-1.4M19.0 147.21h-1.4M19.0 151.30h-1.4M19.0 155.39h-1.4M19.0 159.48h-1.4M19.0 163.57h-1.4" stroke="#111" stroke-width="0.9" fill="none"/>
<rect x="19.6" y="17.200000000000003" width="148.0" height="146.70000000000002" stroke="#0e0404" stroke-width="1.2" fill="none"/>
<rect x="19.5" y="168.6" width="148.2" height="147.6" stroke="#030101" stroke-width="1.0" fill="none"/>
<text x="52.1" y="13.1" text-anchor="middle" font-size="6.6" fill="#555">-1.0</text>
<text x="92.7" y="13.1" text-anchor="middle" font-size="6.6" fill="#555">0.0</text>
<text x="133.3" y="13.1" text-anchor="middle" font-size="6.6" fill="#555">1.0</text>
<text x="92.3" y="4.8" text-anchor="middle" font-size="8.2" fill="#444">mm</text>
<text transform="translate(15.5 49.3) rotate(-90)" text-anchor="middle" font-size="6.6" fill="#555">-1.0</text>
<text transform="translate(15.5 89.95) rotate(-90)" text-anchor="middle" font-size="6.6" fill="#555">0.0</text>
<text transform="translate(15.5 130.4) rotate(-90)" text-anchor="middle" font-size="6.6" fill="#555">1.0</text>
<text transform="translate(4.5 89.9) rotate(-90)" text-anchor="middle" font-size="8.4" fill="#444">mm</text>
<text x="29.6" y="33.5" font-size="11.3" font-weight="bold" fill="#fff">a</text>
<rect x="128.3" y="25.4" width="8.7" height="35.2" fill="url(#cA)"/>
<path d="M134.6 25.1H126.7V60.8H134.6" stroke="#e4e4e4" stroke-width="0.9" fill="none"/>
<path d="M134.6 57h4.2M134.6 51.3h2.4M134.6 45.6h4.2M134.6 39.9h2.4M134.6 34.2h4.2M134.6 28.5h2.4" stroke="#f4f4f4" stroke-width="1"/>
<text x="143.2" y="37.0" font-size="7" font-weight="bold" fill="#eee">0.4</text>
<text x="143.2" y="48.3" font-size="7" font-weight="bold" fill="#eee">0.2</text>
<text x="143.2" y="59.5" font-size="7" font-weight="bold" fill="#eee">0.0</text>
<text transform="translate(160.6 42.6) rotate(90)" text-anchor="middle" font-size="6.5" font-weight="bold" fill="#eee">MPa</text>
<path d="M28.9 158V140.3H40" stroke="#fff" stroke-width="1.7" fill="none"/>
<path d="M38.6 137.9L47.2 140.3L38.6 142.7Z" fill="#fff"/>
<path d="M26.7 150.6L28.9 159.8L31.1 150.6Z" fill="#fff"/>
<text x="51.8" y="143.8" font-size="9" font-style="italic" font-weight="bold" fill="#fff">x</text>
<text x="35.1" y="159.4" font-size="9" font-style="italic" font-weight="bold" fill="#fff">y</text>
<g clip-path="url(#clB)"><rect x="19.0" y="168.1" width="149.2" height="148.6" fill="rgb(8,6,6)"/><g><path d="M157.1 250.2L156.9 256.0L156.1 261.6L155.0 267.1L153.3 272.3L151.2 277.4L148.7 282.3L145.7 286.8L142.4 291.2L138.6 295.1L134.6 298.8L130.2 302.1L125.5 305.0L120.5 307.5L115.3 309.5L110.0 311.1L104.4 312.3L98.7 313.0L92.8 313.2L86.8 313.0L81.1 312.3L75.5 311.1L70.2 309.5L65.0 307.5L60.0 305.0L55.3 302.1L50.9 298.8L46.9 295.1L43.1 291.2L39.8 286.8L36.8 282.3L34.3 277.4L32.2 272.3L30.5 267.1L29.4 261.6L28.6 256.0L28.4 250.2L28.6 244.4L29.4 238.8L30.5 233.3L32.2 228.1L34.3 223.0L36.8 218.1L39.8 213.6L43.1 209.2L46.9 205.3L50.9 201.6L55.3 198.3L60.0 195.4L65.0 192.9L70.2 190.9L75.5 189.3L81.1 188.1L86.8 187.4L92.7 187.2L98.7 187.4L104.4 188.1L110.0 189.3L115.3 190.9L120.5 192.9L125.5 195.4L130.2 198.3L134.6 201.6L138.6 205.3L142.4 209.2L145.7 213.6L148.7 218.1L151.2 223.0L153.3 228.1L155.0 233.3L156.1 238.8L156.9 244.4Z" fill="#080606" stroke="#080606" stroke-width="0.7"/><path d="M154.9 250.2L154.7 255.8L154.0 261.2L152.8 266.5L151.2 271.6L149.2 276.5L146.8 281.2L143.9 285.6L140.7 289.8L137.1 293.6L133.1 297.1L128.9 300.3L124.4 303.1L119.6 305.5L114.6 307.5L109.4 309.1L104.0 310.2L98.5 310.9L92.8 311.1L87.0 310.9L81.5 310.2L76.1 309.1L70.9 307.5L65.9 305.5L61.1 303.1L56.6 300.3L52.4 297.1L48.4 293.6L44.8 289.8L41.6 285.6L38.7 281.2L36.3 276.5L34.3 271.6L32.7 266.5L31.5 261.2L30.8 255.8L30.6 250.2L30.8 244.6L31.5 239.2L32.7 233.9L34.3 228.8L36.3 223.9L38.7 219.2L41.6 214.8L44.8 210.6L48.4 206.8L52.4 203.3L56.6 200.1L61.1 197.3L65.9 194.9L70.9 192.9L76.1 191.3L81.5 190.2L87.0 189.5L92.7 189.3L98.5 189.5L104.0 190.2L109.4 191.3L114.6 192.9L119.6 194.9L124.4 197.3L128.9 200.1L133.1 203.3L137.1 206.8L140.7 210.6L143.9 214.8L146.8 219.2L149.2 223.9L151.2 228.8L152.8 233.9L154.0 239.2L154.7 244.6Z" fill="#080606" stroke="#080606" stroke-width="0.7"/><path d="M152.7 250.2L152.5 255.6L151.8 260.8L150.7 265.9L149.2 270.8L147.2 275.5L144.9 280.1L142.1 284.3L139.0 288.4L135.5 292.1L131.7 295.5L127.6 298.5L123.2 301.2L118.6 303.6L113.8 305.5L108.8 307.0L103.6 308.1L98.3 308.7L92.8 308.9L87.2 308.7L81.9 308.1L76.7 307.0L71.7 305.5L66.9 303.6L62.3 301.2L57.9 298.5L53.8 295.5L50.0 292.1L46.5 288.4L43.4 284.3L40.6 280.1L38.3 275.5L36.3 270.8L34.8 265.9L33.7 260.8L33.0 255.6L32.8 250.2L33.0 244.8L33.7 239.6L34.8 234.5L36.3 229.6L38.3 224.9L40.6 220.3L43.4 216.1L46.5 212.0L50.0 208.3L53.8 204.9L57.9 201.9L62.3 199.2L66.9 196.8L71.7 194.9L76.7 193.4L81.9 192.3L87.2 191.7L92.7 191.5L98.3 191.7L103.6 192.3L108.8 193.4L113.8 194.9L118.6 196.8L123.2 199.2L127.6 201.9L131.7 204.9L135.5 208.3L139.0 212.0L142.1 216.1L144.9 220.3L147.2 224.9L149.2 229.6L150.7 234.5L151.8 239.6L152.5 244.8Z" fill="#080606" stroke="#080606" stroke-width="0.7"/><path d="M150.5 250.2L150.3 255.4L149.7 260.5L148.6 265.3L147.1 270.1L145.2 274.6L143.0 279.0L140.3 283.1L137.3 287.0L133.9 290.6L130.3 293.8L126.3 296.8L122.1 299.4L117.7 301.6L113.0 303.5L108.2 304.9L103.2 305.9L98.1 306.6L92.8 306.8L87.4 306.6L82.3 305.9L77.3 304.9L72.5 303.5L67.8 301.6L63.4 299.4L59.2 296.8L55.2 293.8L51.6 290.6L48.2 287.0L45.2 283.1L42.5 279.0L40.3 274.6L38.4 270.1L36.9 265.3L35.8 260.5L35.2 255.4L35.0 250.2L35.2 245.0L35.8 239.9L36.9 235.1L38.4 230.3L40.3 225.8L42.5 221.4L45.2 217.3L48.2 213.4L51.6 209.8L55.2 206.6L59.2 203.6L63.4 201.0L67.8 198.8L72.5 196.9L77.3 195.5L82.3 194.5L87.4 193.8L92.7 193.6L98.1 193.8L103.2 194.5L108.2 195.5L113.0 196.9L117.7 198.8L122.1 201.0L126.3 203.6L130.3 206.6L133.9 209.8L137.3 213.4L140.3 217.3L143.0 221.4L145.2 225.8L147.1 230.3L148.6 235.1L149.7 239.9L150.3 245.0Z" fill="#080606" stroke="#080606" stroke-width="0.7"/><path d="M148.3 250.2L148.1 255.2L147.5 260.1L146.5 264.8L145.1 269.3L143.2 273.7L141.0 277.9L138.5 281.8L135.6 285.6L132.4 289.0L128.9 292.2L125.1 295.0L121.0 297.5L116.7 299.7L112.3 301.4L107.6 302.8L102.8 303.8L97.9 304.4L92.8 304.6L87.6 304.4L82.7 303.8L77.9 302.8L73.2 301.4L68.8 299.7L64.5 297.5L60.4 295.0L56.6 292.2L53.1 289.0L49.9 285.6L47.0 281.8L44.5 277.9L42.3 273.7L40.4 269.3L39.0 264.8L38.0 260.1L37.4 255.2L37.2 250.2L37.4 245.2L38.0 240.3L39.0 235.6L40.4 231.1L42.3 226.7L44.5 222.5L47.0 218.6L49.9 214.8L53.1 211.4L56.6 208.2L60.4 205.4L64.5 202.9L68.8 200.7L73.2 199.0L77.9 197.6L82.7 196.6L87.6 196.0L92.7 195.8L97.9 196.0L102.8 196.6L107.6 197.6L112.3 199.0L116.7 200.7L121.0 202.9L125.1 205.4L128.9 208.2L132.4 211.4L135.6 214.8L138.5 218.6L141.0 222.5L143.2 226.7L145.1 231.1L146.5 235.6L147.5 240.3L148.1 245.2Z" fill="#080606" stroke="#080606" stroke-width="0.7"/><path d="M146.1 250.2L145.9 255.0L145.3 259.7L144.4 264.2L143.0 268.6L141.2 272.8L139.1 276.8L136.7 280.6L133.9 284.2L130.8 287.5L127.4 290.5L123.8 293.2L119.9 295.6L115.8 297.7L111.5 299.4L107.0 300.7L102.4 301.7L97.7 302.3L92.8 302.5L87.8 302.3L83.1 301.7L78.5 300.7L74.0 299.4L69.7 297.7L65.6 295.6L61.7 293.2L58.1 290.5L54.7 287.5L51.6 284.2L48.8 280.6L46.4 276.8L44.3 272.8L42.5 268.6L41.1 264.2L40.2 259.7L39.6 255.0L39.4 250.2L39.6 245.4L40.2 240.7L41.1 236.2L42.5 231.8L44.3 227.6L46.4 223.6L48.8 219.8L51.6 216.2L54.7 212.9L58.1 209.9L61.7 207.2L65.6 204.8L69.7 202.7L74.0 201.0L78.5 199.7L83.1 198.7L87.8 198.1L92.7 197.9L97.7 198.1L102.4 198.7L107.0 199.7L111.5 201.0L115.8 202.7L119.9 204.8L123.8 207.2L127.4 209.9L130.8 212.9L133.9 216.2L136.7 219.8L139.1 223.6L141.2 227.6L143.0 231.8L144.4 236.2L145.3 240.7L145.9 245.4Z" fill="#0c0707" stroke="#0c0707" stroke-width="0.7"/><path d="M145.2 250.2L145.0 255.0L144.5 259.5L143.5 264.0L142.1 268.2L140.4 272.4L138.4 276.3L136.0 280.1L133.2 283.6L130.2 286.9L126.9 289.8L123.3 292.5L119.4 294.9L115.4 296.9L111.2 298.6L106.8 299.9L102.3 300.8L97.6 301.4L92.8 301.6L87.9 301.4L83.2 300.8L78.7 299.9L74.3 298.6L70.1 296.9L66.1 294.9L62.2 292.5L58.6 289.8L55.3 286.9L52.3 283.6L49.5 280.1L47.1 276.3L45.1 272.4L43.4 268.2L42.0 264.0L41.0 259.5L40.5 255.0L40.3 250.2L40.5 245.4L41.0 240.9L42.0 236.4L43.4 232.2L45.1 228.0L47.1 224.1L49.5 220.3L52.3 216.8L55.3 213.5L58.6 210.6L62.2 207.9L66.1 205.5L70.1 203.5L74.3 201.8L78.7 200.5L83.2 199.6L87.9 199.0L92.7 198.8L97.6 199.0L102.3 199.6L106.8 200.5L111.2 201.8L115.4 203.5L119.4 205.5L123.3 207.9L126.9 210.6L130.2 213.5L133.2 216.8L136.0 220.3L138.4 224.1L140.4 228.0L142.1 232.2L143.5 236.4L144.5 240.9L145.0 245.4Z" fill="#120909" stroke="#120909" stroke-width="0.7"/><path d="M144.8 250.2L144.6 254.9L144.0 259.4L143.0 263.8L141.7 268.1L140.0 272.2L138.0 276.1L135.6 279.8L132.9 283.3L129.8 286.5L126.6 289.5L123.0 292.1L119.2 294.5L115.2 296.5L111.0 298.2L106.7 299.5L102.2 300.4L97.6 301.0L92.8 301.2L87.9 301.0L83.3 300.4L78.8 299.5L74.5 298.2L70.3 296.5L66.3 294.5L62.5 292.1L58.9 289.5L55.7 286.5L52.6 283.3L49.9 279.8L47.5 276.1L45.5 272.2L43.8 268.1L42.5 263.8L41.5 259.4L40.9 254.9L40.7 250.2L40.9 245.5L41.5 241.0L42.5 236.6L43.8 232.3L45.5 228.2L47.5 224.3L49.9 220.6L52.6 217.1L55.7 213.9L58.9 210.9L62.5 208.3L66.3 205.9L70.3 203.9L74.5 202.2L78.8 200.9L83.3 200.0L87.9 199.4L92.7 199.2L97.6 199.4L102.2 200.0L106.7 200.9L111.0 202.2L115.2 203.9L119.2 205.9L123.0 208.3L126.6 210.9L129.8 213.9L132.9 217.1L135.6 220.6L138.0 224.3L140.0 228.2L141.7 232.3L143.0 236.6L144.0 241.0L144.6 245.5Z" fill="#180b0b" stroke="#180b0b" stroke-width="0.7"/><path d="M144.3 250.2L144.1 254.9L143.5 259.4L142.6 263.7L141.3 267.9L139.6 272.0L137.6 275.9L135.2 279.6L132.5 283.0L129.5 286.2L126.3 289.1L122.7 291.8L119.0 294.1L115.0 296.1L110.9 297.7L106.5 299.0L102.1 300.0L97.5 300.5L92.8 300.7L88.0 300.5L83.4 300.0L79.0 299.0L74.6 297.7L70.5 296.1L66.5 294.1L62.8 291.8L59.2 289.1L56.0 286.2L53.0 283.0L50.3 279.6L47.9 275.9L45.9 272.0L44.2 267.9L42.9 263.7L42.0 259.4L41.4 254.9L41.2 250.2L41.4 245.5L42.0 241.0L42.9 236.7L44.2 232.5L45.9 228.4L47.9 224.5L50.3 220.8L53.0 217.4L56.0 214.2L59.2 211.3L62.8 208.6L66.5 206.3L70.5 204.3L74.6 202.7L79.0 201.4L83.4 200.4L88.0 199.9L92.7 199.7L97.5 199.9L102.1 200.4L106.5 201.4L110.9 202.7L115.0 204.3L119.0 206.3L122.7 208.6L126.3 211.3L129.5 214.2L132.5 217.4L135.2 220.8L137.6 224.5L139.6 228.4L141.3 232.5L142.6 236.7L143.5 241.0L144.1 245.5Z" fill="#1f0d0d" stroke="#1f0d0d" stroke-width="0.7"/><path d="M143.9 250.2L143.7 254.8L143.1 259.3L142.2 263.6L140.8 267.8L139.2 271.8L137.2 275.7L134.8 279.3L132.2 282.7L129.2 285.9L126.0 288.8L122.5 291.4L118.7 293.7L114.8 295.7L110.7 297.3L106.4 298.6L102.0 299.5L97.5 300.1L92.8 300.3L88.0 300.1L83.5 299.5L79.1 298.6L74.8 297.3L70.7 295.7L66.8 293.7L63.0 291.4L59.5 288.8L56.3 285.9L53.3 282.7L50.7 279.3L48.3 275.7L46.3 271.8L44.7 267.8L43.3 263.6L42.4 259.3L41.8 254.8L41.6 250.2L41.8 245.6L42.4 241.1L43.3 236.8L44.7 232.6L46.3 228.6L48.3 224.7L50.7 221.1L53.3 217.7L56.3 214.5L59.5 211.6L63.0 209.0L66.8 206.7L70.7 204.7L74.8 203.1L79.1 201.8L83.5 200.9L88.0 200.3L92.7 200.1L97.5 200.3L102.0 200.9L106.4 201.8L110.7 203.1L114.8 204.7L118.7 206.7L122.5 209.0L126.0 211.6L129.2 214.5L132.2 217.7L134.8 221.1L137.2 224.7L139.2 228.6L140.8 232.6L142.2 236.8L143.1 241.1L143.7 245.6Z" fill="#250f0f" stroke="#250f0f" stroke-width="0.7"/><path d="M143.5 250.2L143.3 254.8L142.7 259.2L141.8 263.5L140.5 267.6L138.8 271.6L136.8 275.5L134.5 279.1L131.9 282.5L128.9 285.6L125.7 288.5L122.2 291.1L118.5 293.4L114.6 295.3L110.6 297.0L106.3 298.2L101.9 299.2L97.4 299.7L92.8 299.9L88.1 299.7L83.6 299.2L79.2 298.2L74.9 297.0L70.9 295.3L67.0 293.4L63.3 291.1L59.8 288.5L56.6 285.6L53.6 282.5L51.0 279.1L48.7 275.5L46.7 271.6L45.0 267.6L43.7 263.5L42.8 259.2L42.2 254.8L42.0 250.2L42.2 245.6L42.8 241.2L43.7 236.9L45.0 232.8L46.7 228.8L48.7 224.9L51.0 221.3L53.6 217.9L56.6 214.8L59.8 211.9L63.3 209.3L67.0 207.0L70.9 205.1L74.9 203.4L79.2 202.2L83.6 201.2L88.1 200.7L92.7 200.5L97.4 200.7L101.9 201.2L106.3 202.2L110.6 203.4L114.6 205.1L118.5 207.0L122.2 209.3L125.7 211.9L128.9 214.8L131.9 217.9L134.5 221.3L136.8 224.9L138.8 228.8L140.5 232.8L141.8 236.9L142.7 241.2L143.3 245.6Z" fill="#2a1010" stroke="#2a1010" stroke-width="0.7"/><path d="M143.1 250.2L142.9 254.8L142.4 259.1L141.4 263.4L140.2 267.5L138.5 271.5L136.5 275.3L134.2 278.9L131.6 282.3L128.7 285.4L125.5 288.2L122.0 290.8L118.4 293.1L114.5 295.0L110.4 296.6L106.2 297.9L101.9 298.8L97.4 299.4L92.8 299.5L88.1 299.4L83.6 298.8L79.3 297.9L75.1 296.6L71.0 295.0L67.1 293.1L63.5 290.8L60.0 288.2L56.8 285.4L53.9 282.3L51.3 278.9L49.0 275.3L47.0 271.5L45.3 267.5L44.1 263.4L43.1 259.1L42.6 254.8L42.4 250.2L42.6 245.6L43.1 241.3L44.1 237.0L45.3 232.9L47.0 228.9L49.0 225.1L51.3 221.5L53.9 218.1L56.8 215.0L60.0 212.2L63.5 209.6L67.1 207.3L71.0 205.4L75.1 203.8L79.3 202.5L83.6 201.6L88.1 201.0L92.7 200.9L97.4 201.0L101.9 201.6L106.2 202.5L110.4 203.8L114.5 205.4L118.4 207.3L122.0 209.6L125.5 212.2L128.7 215.0L131.6 218.1L134.2 221.5L136.5 225.1L138.5 228.9L140.2 232.9L141.4 237.0L142.4 241.3L142.9 245.6Z" fill="#341111" stroke="#341111" stroke-width="0.7"/><path d="M142.7 250.2L142.6 254.7L142.0 259.1L141.1 263.3L139.8 267.4L138.2 271.3L136.2 275.1L133.9 278.7L131.3 282.0L128.4 285.1L125.2 288.0L121.8 290.5L118.2 292.8L114.3 294.7L110.3 296.3L106.1 297.5L101.8 298.4L97.4 299.0L92.8 299.2L88.1 299.0L83.7 298.4L79.4 297.5L75.2 296.3L71.2 294.7L67.3 292.8L63.7 290.5L60.3 288.0L57.1 285.1L54.2 282.0L51.6 278.7L49.3 275.1L47.3 271.3L45.7 267.4L44.4 263.3L43.5 259.1L42.9 254.7L42.8 250.2L42.9 245.7L43.5 241.3L44.4 237.1L45.7 233.0L47.3 229.1L49.3 225.3L51.6 221.7L54.2 218.4L57.1 215.3L60.3 212.4L63.7 209.9L67.3 207.6L71.2 205.7L75.2 204.1L79.4 202.9L83.7 202.0L88.1 201.4L92.7 201.2L97.4 201.4L101.8 202.0L106.1 202.9L110.3 204.1L114.3 205.7L118.2 207.6L121.8 209.9L125.2 212.4L128.4 215.3L131.3 218.4L133.9 221.7L136.2 225.3L138.2 229.1L139.8 233.0L141.1 237.1L142.0 241.3L142.6 245.7Z" fill="#3e1212" stroke="#3e1212" stroke-width="0.7"/><path d="M142.4 250.2L142.2 254.7L141.6 259.0L140.7 263.2L139.5 267.3L137.8 271.2L135.9 274.9L133.6 278.5L131.0 281.8L128.1 284.9L125.0 287.7L121.6 290.2L118.0 292.4L114.2 294.4L110.2 295.9L106.0 297.2L101.7 298.1L97.3 298.6L92.8 298.8L88.2 298.6L83.8 298.1L79.5 297.2L75.3 295.9L71.3 294.4L67.5 292.4L63.9 290.2L60.5 287.7L57.4 284.9L54.5 281.8L51.9 278.5L49.6 274.9L47.7 271.2L46.0 267.3L44.8 263.2L43.9 259.0L43.3 254.7L43.1 250.2L43.3 245.7L43.9 241.4L44.8 237.2L46.0 233.1L47.7 229.2L49.6 225.5L51.9 221.9L54.5 218.6L57.4 215.5L60.5 212.7L63.9 210.2L67.5 208.0L71.3 206.0L75.3 204.5L79.5 203.2L83.8 202.3L88.2 201.8L92.7 201.6L97.3 201.8L101.7 202.3L106.0 203.2L110.2 204.5L114.2 206.0L118.0 208.0L121.6 210.2L125.0 212.7L128.1 215.5L131.0 218.6L133.6 221.9L135.9 225.5L137.8 229.2L139.5 233.1L140.7 237.2L141.6 241.4L142.2 245.7Z" fill="#481212" stroke="#481212" stroke-width="0.7"/><path d="M142.0 250.2L141.8 254.7L141.3 258.9L140.4 263.1L139.1 267.1L137.5 271.0L135.6 274.7L133.3 278.3L130.7 281.6L127.9 284.6L124.8 287.4L121.4 289.9L117.8 292.1L114.0 294.0L110.0 295.6L105.9 296.8L101.7 297.7L97.3 298.3L92.8 298.5L88.2 298.3L83.8 297.7L79.6 296.8L75.5 295.6L71.5 294.0L67.7 292.1L64.1 289.9L60.7 287.4L57.6 284.6L54.8 281.6L52.2 278.3L49.9 274.7L48.0 271.0L46.4 267.1L45.1 263.1L44.2 258.9L43.7 254.7L43.5 250.2L43.7 245.7L44.2 241.5L45.1 237.3L46.4 233.3L48.0 229.4L49.9 225.7L52.2 222.1L54.8 218.8L57.6 215.8L60.7 213.0L64.1 210.5L67.7 208.3L71.5 206.4L75.5 204.8L79.6 203.6L83.8 202.7L88.2 202.1L92.7 201.9L97.3 202.1L101.7 202.7L105.9 203.6L110.0 204.8L114.0 206.4L117.8 208.3L121.4 210.5L124.8 213.0L127.9 215.8L130.7 218.8L133.3 222.1L135.6 225.7L137.5 229.4L139.1 233.3L140.4 237.3L141.3 241.5L141.8 245.7Z" fill="#521313" stroke="#521313" stroke-width="0.7"/><path d="M141.6 250.2L141.5 254.6L140.9 258.9L140.0 263.0L138.8 267.0L137.2 270.9L135.2 274.6L133.0 278.0L130.4 281.3L127.6 284.4L124.5 287.1L121.2 289.6L117.6 291.8L113.9 293.7L109.9 295.3L105.8 296.5L101.6 297.4L97.3 297.9L92.8 298.1L88.2 297.9L83.9 297.4L79.7 296.5L75.6 295.3L71.6 293.7L67.9 291.8L64.3 289.6L61.0 287.1L57.9 284.4L55.1 281.3L52.5 278.0L50.3 274.6L48.3 270.9L46.7 267.0L45.5 263.0L44.6 258.9L44.0 254.6L43.9 250.2L44.0 245.8L44.6 241.5L45.5 237.4L46.7 233.4L48.3 229.5L50.3 225.8L52.5 222.4L55.1 219.1L57.9 216.0L61.0 213.3L64.3 210.8L67.9 208.6L71.6 206.7L75.6 205.1L79.7 203.9L83.9 203.0L88.2 202.5L92.7 202.3L97.3 202.5L101.6 203.0L105.8 203.9L109.9 205.1L113.9 206.7L117.6 208.6L121.2 210.8L124.5 213.3L127.6 216.0L130.4 219.1L133.0 222.4L135.2 225.8L137.2 229.5L138.8 233.4L140.0 237.4L140.9 241.5L141.5 245.8Z" fill="#5c1414" stroke="#5c1414" stroke-width="0.7"/><path d="M141.3 250.2L141.1 254.6L140.6 258.8L139.7 262.9L138.4 266.9L136.8 270.7L134.9 274.4L132.7 277.8L130.2 281.1L127.4 284.1L124.3 286.8L121.0 289.3L117.4 291.5L113.7 293.4L109.8 294.9L105.7 296.2L101.5 297.0L97.2 297.6L92.8 297.7L88.3 297.6L84.0 297.0L79.8 296.2L75.7 294.9L71.8 293.4L68.1 291.5L64.5 289.3L61.2 286.8L58.1 284.1L55.3 281.1L52.8 277.8L50.6 274.4L48.7 270.7L47.1 266.9L45.8 262.9L44.9 258.8L44.4 254.6L44.2 250.2L44.4 245.8L44.9 241.6L45.8 237.5L47.1 233.5L48.7 229.7L50.6 226.0L52.8 222.6L55.3 219.3L58.1 216.3L61.2 213.6L64.5 211.1L68.1 208.9L71.8 207.0L75.7 205.5L79.8 204.2L84.0 203.4L88.3 202.8L92.7 202.7L97.2 202.8L101.5 203.4L105.7 204.2L109.8 205.5L113.7 207.0L117.4 208.9L121.0 211.1L124.3 213.6L127.4 216.3L130.2 219.3L132.7 222.6L134.9 226.0L136.8 229.7L138.4 233.5L139.7 237.5L140.6 241.6L141.1 245.8Z" fill="#661414" stroke="#661414" stroke-width="0.7"/><path d="M140.9 250.2L140.7 254.6L140.2 258.7L139.3 262.8L138.1 266.8L136.5 270.6L134.6 274.2L132.4 277.6L129.9 280.8L127.1 283.8L124.0 286.6L120.7 289.0L117.2 291.2L113.5 293.1L109.7 294.6L105.6 295.8L101.5 296.7L97.2 297.2L92.8 297.4L88.3 297.2L84.0 296.7L79.9 295.8L75.8 294.6L72.0 293.1L68.3 291.2L64.8 289.0L61.5 286.6L58.4 283.8L55.6 280.8L53.1 277.6L50.9 274.2L49.0 270.6L47.4 266.8L46.2 262.8L45.3 258.7L44.8 254.6L44.6 250.2L44.8 245.8L45.3 241.7L46.2 237.6L47.4 233.6L49.0 229.8L50.9 226.2L53.1 222.8L55.6 219.6L58.4 216.6L61.5 213.8L64.8 211.4L68.3 209.2L72.0 207.3L75.8 205.8L79.9 204.6L84.0 203.7L88.3 203.2L92.7 203.0L97.2 203.2L101.5 203.7L105.6 204.6L109.7 205.8L113.5 207.3L117.2 209.2L120.7 211.4L124.0 213.8L127.1 216.6L129.9 219.6L132.4 222.8L134.6 226.2L136.5 229.8L138.1 233.6L139.3 237.6L140.2 241.7L140.7 245.8Z" fill="#6f1515" stroke="#6f1515" stroke-width="0.7"/><path d="M140.5 250.2L140.4 254.5L139.8 258.7L139.0 262.7L137.7 266.6L136.2 270.4L134.3 274.0L132.1 277.4L129.6 280.6L126.8 283.6L123.8 286.3L120.5 288.7L117.1 290.9L113.4 292.7L109.5 294.3L105.5 295.5L101.4 296.3L97.2 296.8L92.8 297.0L88.3 296.8L84.1 296.3L80.0 295.5L76.0 294.3L72.1 292.7L68.4 290.9L65.0 288.7L61.7 286.3L58.7 283.6L55.9 280.6L53.4 277.4L51.2 274.0L49.3 270.4L47.8 266.6L46.5 262.7L45.7 258.7L45.1 254.5L45.0 250.2L45.1 245.9L45.7 241.7L46.5 237.7L47.8 233.8L49.3 230.0L51.2 226.4L53.4 223.0L55.9 219.8L58.7 216.8L61.7 214.1L65.0 211.7L68.4 209.5L72.1 207.7L76.0 206.1L80.0 204.9L84.1 204.1L88.3 203.6L92.7 203.4L97.2 203.6L101.4 204.1L105.5 204.9L109.5 206.1L113.4 207.7L117.1 209.5L120.5 211.7L123.8 214.1L126.8 216.8L129.6 219.8L132.1 223.0L134.3 226.4L136.2 230.0L137.7 233.8L139.0 237.7L139.8 241.7L140.4 245.9Z" fill="#781616" stroke="#781616" stroke-width="0.7"/><path d="M140.2 250.2L140.0 254.5L139.5 258.6L138.6 262.6L137.4 266.5L135.8 270.2L134.0 273.8L131.8 277.2L129.3 280.4L126.6 283.3L123.6 286.0L120.3 288.4L116.9 290.6L113.2 292.4L109.4 293.9L105.4 295.1L101.3 296.0L97.1 296.5L92.8 296.6L88.4 296.5L84.2 296.0L80.1 295.1L76.1 293.9L72.3 292.4L68.6 290.6L65.2 288.4L61.9 286.0L58.9 283.3L56.2 280.4L53.7 277.2L51.5 273.8L49.7 270.2L48.1 266.5L46.9 262.6L46.0 258.6L45.5 254.5L45.3 250.2L45.5 245.9L46.0 241.8L46.9 237.8L48.1 233.9L49.7 230.2L51.5 226.6L53.7 223.2L56.2 220.0L58.9 217.1L61.9 214.4L65.2 212.0L68.6 209.8L72.3 208.0L76.1 206.5L80.1 205.3L84.2 204.4L88.4 203.9L92.7 203.8L97.1 203.9L101.3 204.4L105.4 205.3L109.4 206.5L113.2 208.0L116.9 209.8L120.3 212.0L123.6 214.4L126.6 217.1L129.3 220.0L131.8 223.2L134.0 226.6L135.8 230.2L137.4 233.9L138.6 237.8L139.5 241.8L140.0 245.9Z" fill="#84191a" stroke="#84191a" stroke-width="0.7"/><path d="M139.8 250.2L139.6 254.5L139.1 258.6L138.2 262.5L137.0 266.4L135.5 270.1L133.6 273.6L131.5 277.0L129.0 280.1L126.3 283.1L123.3 285.7L120.1 288.1L116.7 290.3L113.1 292.1L109.3 293.6L105.3 294.8L101.3 295.6L97.1 296.1L92.8 296.3L88.4 296.1L84.2 295.6L80.2 294.8L76.2 293.6L72.4 292.1L68.8 290.3L65.4 288.1L62.2 285.7L59.2 283.1L56.5 280.1L54.0 277.0L51.9 273.6L50.0 270.1L48.5 266.4L47.3 262.5L46.4 258.6L45.9 254.5L45.7 250.2L45.9 245.9L46.4 241.8L47.3 237.9L48.5 234.0L50.0 230.3L51.9 226.8L54.0 223.4L56.5 220.3L59.2 217.3L62.2 214.7L65.4 212.3L68.8 210.1L72.4 208.3L76.2 206.8L80.2 205.6L84.2 204.8L88.4 204.3L92.7 204.1L97.1 204.3L101.3 204.8L105.3 205.6L109.3 206.8L113.1 208.3L116.7 210.1L120.1 212.3L123.3 214.7L126.3 217.3L129.0 220.3L131.5 223.4L133.6 226.8L135.5 230.3L137.0 234.0L138.2 237.9L139.1 241.8L139.6 245.9Z" fill="#901d20" stroke="#901d20" stroke-width="0.7"/><path d="M139.4 250.2L139.3 254.4L138.7 258.5L137.9 262.4L136.7 266.3L135.2 269.9L133.3 273.5L131.2 276.8L128.7 279.9L126.0 282.8L123.1 285.5L119.9 287.8L116.5 289.9L112.9 291.7L109.1 293.2L105.2 294.4L101.2 295.3L97.1 295.8L92.8 295.9L88.4 295.8L84.3 295.3L80.3 294.4L76.4 293.2L72.6 291.7L69.0 289.9L65.6 287.8L62.4 285.5L59.5 282.8L56.8 279.9L54.3 276.8L52.2 273.5L50.3 269.9L48.8 266.3L47.6 262.4L46.8 258.5L46.2 254.4L46.1 250.2L46.2 246.0L46.8 241.9L47.6 238.0L48.8 234.1L50.3 230.5L52.2 226.9L54.3 223.6L56.8 220.5L59.5 217.6L62.4 214.9L65.6 212.6L69.0 210.5L72.6 208.7L76.4 207.2L80.3 206.0L84.3 205.1L88.4 204.6L92.7 204.5L97.1 204.6L101.2 205.1L105.2 206.0L109.1 207.2L112.9 208.7L116.5 210.5L119.9 212.6L123.1 214.9L126.0 217.6L128.7 220.5L131.2 223.6L133.3 226.9L135.2 230.5L136.7 234.1L137.9 238.0L138.7 241.9L139.3 246.0Z" fill="#9d2024" stroke="#9d2024" stroke-width="0.7"/><path d="M139.1 250.2L138.9 254.4L138.4 258.4L137.5 262.3L136.3 266.1L134.8 269.8L133.0 273.3L130.9 276.6L128.5 279.7L125.8 282.6L122.8 285.2L119.7 287.5L116.3 289.6L112.7 291.4L109.0 292.9L105.1 294.1L101.1 294.9L97.0 295.4L92.8 295.6L88.5 295.4L84.4 294.9L80.4 294.1L76.5 292.9L72.8 291.4L69.2 289.6L65.8 287.5L62.7 285.2L59.7 282.6L57.0 279.7L54.6 276.6L52.5 273.3L50.7 269.8L49.2 266.1L48.0 262.3L47.1 258.4L46.6 254.4L46.4 250.2L46.6 246.0L47.1 242.0L48.0 238.1L49.2 234.3L50.7 230.6L52.5 227.1L54.6 223.8L57.0 220.7L59.7 217.8L62.7 215.2L65.8 212.9L69.2 210.8L72.8 209.0L76.5 207.5L80.4 206.3L84.4 205.5L88.5 205.0L92.7 204.8L97.0 205.0L101.1 205.5L105.1 206.3L109.0 207.5L112.7 209.0L116.3 210.8L119.7 212.9L122.8 215.2L125.8 217.8L128.5 220.7L130.9 223.8L133.0 227.1L134.8 230.6L136.3 234.3L137.5 238.1L138.4 242.0L138.9 246.0Z" fill="#ab2026" stroke="#ab2026" stroke-width="0.7"/><path d="M138.7 250.2L138.5 254.4L138.0 258.4L137.2 262.2L136.0 266.0L134.5 269.6L132.7 273.1L130.6 276.4L128.2 279.4L125.5 282.3L122.6 284.9L119.5 287.2L116.1 289.3L112.6 291.1L108.9 292.6L105.0 293.7L101.1 294.5L97.0 295.0L92.8 295.2L88.5 295.0L84.4 294.5L80.5 293.7L76.6 292.6L72.9 291.1L69.4 289.3L66.0 287.2L62.9 284.9L60.0 282.3L57.3 279.4L54.9 276.4L52.8 273.1L51.0 269.6L49.5 266.0L48.3 262.2L47.5 258.4L47.0 254.4L46.8 250.2L47.0 246.0L47.5 242.0L48.3 238.2L49.5 234.4L51.0 230.8L52.8 227.3L54.9 224.0L57.3 221.0L60.0 218.1L62.9 215.5L66.0 213.2L69.4 211.1L72.9 209.3L76.6 207.8L80.5 206.7L84.4 205.9L88.5 205.4L92.7 205.2L97.0 205.4L101.1 205.9L105.0 206.7L108.9 207.8L112.6 209.3L116.1 211.1L119.5 213.2L122.6 215.5L125.5 218.1L128.2 221.0L130.6 224.0L132.7 227.3L134.5 230.8L136.0 234.4L137.2 238.2L138.0 242.0L138.5 246.0Z" fill="#b92027" stroke="#b92027" stroke-width="0.7"/><path d="M138.3 250.2L138.2 254.3L137.7 258.3L136.8 262.1L135.6 265.9L134.2 269.5L132.4 272.9L130.3 276.2L127.9 279.2L125.3 282.0L122.4 284.6L119.3 287.0L115.9 289.0L112.4 290.8L108.8 292.2L104.9 293.4L101.0 294.2L97.0 294.7L92.8 294.8L88.5 294.7L84.5 294.2L80.6 293.4L76.7 292.2L73.1 290.8L69.6 289.0L66.2 287.0L63.1 284.6L60.2 282.0L57.6 279.2L55.2 276.2L53.1 272.9L51.3 269.5L49.9 265.9L48.7 262.1L47.8 258.3L47.3 254.3L47.2 250.2L47.3 246.1L47.8 242.1L48.7 238.3L49.9 234.5L51.3 230.9L53.1 227.5L55.2 224.2L57.6 221.2L60.2 218.4L63.1 215.8L66.2 213.4L69.6 211.4L73.1 209.6L76.7 208.2L80.6 207.0L84.5 206.2L88.5 205.7L92.7 205.6L97.0 205.7L101.0 206.2L104.9 207.0L108.8 208.2L112.4 209.6L115.9 211.4L119.3 213.4L122.4 215.8L125.3 218.4L127.9 221.2L130.3 224.2L132.4 227.5L134.2 230.9L135.6 234.5L136.8 238.3L137.7 242.1L138.2 246.1Z" fill="#c62028" stroke="#c62028" stroke-width="0.7"/><path d="M138.0 250.2L137.8 254.3L137.3 258.2L136.5 262.0L135.3 265.7L133.8 269.3L132.0 272.7L130.0 275.9L127.6 279.0L125.0 281.8L122.1 284.3L119.0 286.7L115.7 288.7L112.3 290.4L108.6 291.9L104.8 293.0L100.9 293.8L96.9 294.3L92.8 294.5L88.6 294.3L84.6 293.8L80.7 293.0L76.9 291.9L73.2 290.4L69.8 288.7L66.5 286.7L63.4 284.3L60.5 281.8L57.9 279.0L55.5 275.9L53.5 272.7L51.7 269.3L50.2 265.7L49.0 262.0L48.2 258.2L47.7 254.3L47.5 250.2L47.7 246.1L48.2 242.2L49.0 238.4L50.2 234.7L51.7 231.1L53.5 227.7L55.5 224.5L57.9 221.4L60.5 218.6L63.4 216.1L66.5 213.7L69.8 211.7L73.2 210.0L76.9 208.5L80.7 207.4L84.6 206.6L88.6 206.1L92.7 205.9L96.9 206.1L100.9 206.6L104.8 207.4L108.6 208.5L112.3 210.0L115.7 211.7L119.0 213.7L122.1 216.1L125.0 218.6L127.6 221.4L130.0 224.5L132.0 227.7L133.8 231.1L135.3 234.7L136.5 238.4L137.3 242.2L137.8 246.1Z" fill="#d01f28" stroke="#d01f28" stroke-width="0.7"/><path d="M137.6 250.2L137.4 254.3L136.9 258.2L136.1 261.9L135.0 265.6L133.5 269.2L131.7 272.5L129.7 275.7L127.3 278.7L124.7 281.5L121.9 284.1L118.8 286.4L115.6 288.4L112.1 290.1L108.5 291.5L104.7 292.7L100.9 293.5L96.9 294.0L92.8 294.1L88.6 294.0L84.6 293.5L80.8 292.7L77.0 291.5L73.4 290.1L69.9 288.4L66.7 286.4L63.6 284.1L60.8 281.5L58.2 278.7L55.8 275.7L53.8 272.5L52.0 269.2L50.5 265.6L49.4 261.9L48.6 258.2L48.1 254.3L47.9 250.2L48.1 246.1L48.6 242.2L49.4 238.5L50.5 234.8L52.0 231.2L53.8 227.9L55.8 224.7L58.2 221.7L60.8 218.9L63.6 216.3L66.7 214.0L69.9 212.0L73.4 210.3L77.0 208.9L80.8 207.7L84.6 206.9L88.6 206.4L92.7 206.3L96.9 206.4L100.9 206.9L104.7 207.7L108.5 208.9L112.1 210.3L115.6 212.0L118.8 214.0L121.9 216.3L124.7 218.9L127.3 221.7L129.7 224.7L131.7 227.9L133.5 231.2L135.0 234.8L136.1 238.5L136.9 242.2L137.4 246.1Z" fill="#da1e28" stroke="#da1e28" stroke-width="0.7"/><path d="M137.2 250.2L137.1 254.2L136.6 258.1L135.7 261.9L134.6 265.5L133.2 269.0L131.4 272.4L129.4 275.5L127.0 278.5L124.5 281.3L121.6 283.8L118.6 286.1L115.4 288.1L111.9 289.8L108.4 291.2L104.6 292.3L100.8 293.1L96.9 293.6L92.8 293.8L88.6 293.6L84.7 293.1L80.9 292.3L77.1 291.2L73.6 289.8L70.1 288.1L66.9 286.1L63.9 283.8L61.0 281.3L58.5 278.5L56.1 275.5L54.1 272.4L52.3 269.0L50.9 265.5L49.8 261.9L48.9 258.1L48.4 254.2L48.3 250.2L48.4 246.2L48.9 242.3L49.8 238.5L50.9 234.9L52.3 231.4L54.1 228.0L56.1 224.9L58.5 221.9L61.0 219.1L63.9 216.6L66.9 214.3L70.1 212.3L73.6 210.6L77.1 209.2L80.9 208.1L84.7 207.3L88.6 206.8L92.7 206.6L96.9 206.8L100.8 207.3L104.6 208.1L108.4 209.2L111.9 210.6L115.4 212.3L118.6 214.3L121.6 216.6L124.5 219.1L127.0 221.9L129.4 224.9L131.4 228.0L133.2 231.4L134.6 234.9L135.7 238.5L136.6 242.3L137.1 246.2Z" fill="#e11e28" stroke="#e11e28" stroke-width="0.7"/><path d="M136.1 250.2L135.9 254.1L135.5 257.9L134.7 261.6L133.6 265.1L132.1 268.5L130.4 271.8L128.4 274.9L126.2 277.8L123.7 280.5L120.9 282.9L118.0 285.2L114.8 287.1L111.5 288.8L108.0 290.2L104.3 291.3L100.6 292.0L96.8 292.5L92.8 292.7L88.7 292.5L84.9 292.0L81.2 291.3L77.5 290.2L74.0 288.8L70.7 287.1L67.5 285.2L64.6 282.9L61.8 280.5L59.3 277.8L57.1 274.9L55.1 271.8L53.4 268.5L51.9 265.1L50.8 261.6L50.0 257.9L49.6 254.1L49.4 250.2L49.6 246.3L50.0 242.5L50.8 238.8L51.9 235.3L53.4 231.9L55.1 228.6L57.1 225.5L59.3 222.6L61.8 219.9L64.6 217.5L67.5 215.2L70.7 213.3L74.0 211.6L77.5 210.2L81.2 209.1L84.9 208.4L88.7 207.9L92.7 207.7L96.8 207.9L100.6 208.4L104.3 209.1L108.0 210.2L111.5 211.6L114.8 213.3L118.0 215.2L120.9 217.5L123.7 219.9L126.2 222.6L128.4 225.5L130.4 228.6L132.1 231.9L133.6 235.3L134.7 238.8L135.5 242.5L135.9 246.3Z" fill="#e71e27" stroke="#e71e27" stroke-width="0.7"/><path d="M133.9 250.2L133.8 253.9L133.3 257.5L132.5 261.0L131.5 264.4L130.1 267.6L128.5 270.7L126.6 273.6L124.5 276.4L122.1 278.9L119.5 281.3L116.7 283.4L113.7 285.2L110.5 286.8L107.2 288.1L103.8 289.2L100.2 289.9L96.6 290.4L92.8 290.5L88.9 290.4L85.3 289.9L81.7 289.2L78.3 288.1L75.0 286.8L71.8 285.2L68.8 283.4L66.0 281.3L63.4 278.9L61.0 276.4L58.9 273.6L57.0 270.7L55.4 267.6L54.0 264.4L53.0 261.0L52.2 257.5L51.7 253.9L51.6 250.2L51.7 246.5L52.2 242.9L53.0 239.4L54.0 236.0L55.4 232.8L57.0 229.7L58.9 226.8L61.0 224.0L63.4 221.5L66.0 219.1L68.8 217.0L71.8 215.2L75.0 213.6L78.3 212.3L81.7 211.2L85.3 210.5L88.9 210.0L92.7 209.9L96.6 210.0L100.2 210.5L103.8 211.2L107.2 212.3L110.5 213.6L113.7 215.2L116.7 217.0L119.5 219.1L122.1 221.5L124.5 224.0L126.6 226.8L128.5 229.7L130.1 232.8L131.5 236.0L132.5 239.4L133.3 242.9L133.8 246.5Z" fill="#ed2227" stroke="#ed2227" stroke-width="0.7"/><path d="M132.5 250.2L132.4 253.8L131.9 257.3L131.2 260.6L130.2 263.9L128.9 267.0L127.3 270.0L125.5 272.8L123.4 275.5L121.1 278.0L118.6 280.2L115.9 282.3L113.0 284.0L109.9 285.6L106.7 286.8L103.4 287.8L100.0 288.6L96.4 289.0L92.8 289.1L89.1 289.0L85.5 288.6L82.1 287.8L78.8 286.8L75.6 285.6L72.5 284.0L69.6 282.3L66.9 280.2L64.4 278.0L62.1 275.5L60.0 272.8L58.2 270.0L56.6 267.0L55.3 263.9L54.3 260.6L53.6 257.3L53.1 253.8L53.0 250.2L53.1 246.6L53.6 243.1L54.3 239.8L55.3 236.5L56.6 233.4L58.2 230.4L60.0 227.6L62.1 224.9L64.4 222.4L66.9 220.2L69.6 218.1L72.5 216.4L75.6 214.8L78.8 213.6L82.1 212.6L85.5 211.8L89.1 211.4L92.7 211.3L96.4 211.4L100.0 211.8L103.4 212.6L106.7 213.6L109.9 214.8L113.0 216.4L115.9 218.1L118.6 220.2L121.1 222.4L123.4 224.9L125.5 227.6L127.3 230.4L128.9 233.4L130.2 236.5L131.2 239.8L131.9 243.1L132.4 246.6Z" fill="#ee2827" stroke="#ee2827" stroke-width="0.7"/><path d="M131.9 250.2L131.8 253.7L131.4 257.2L130.6 260.5L129.6 263.7L128.3 266.8L126.8 269.7L125.0 272.5L123.0 275.1L120.7 277.6L118.2 279.8L115.5 281.8L112.7 283.6L109.7 285.1L106.5 286.3L103.2 287.3L99.9 288.0L96.4 288.4L92.8 288.6L89.1 288.4L85.6 288.0L82.3 287.3L79.0 286.3L75.8 285.1L72.8 283.6L70.0 281.8L67.3 279.8L64.8 277.6L62.5 275.1L60.5 272.5L58.7 269.7L57.2 266.8L55.9 263.7L54.9 260.5L54.1 257.2L53.7 253.7L53.6 250.2L53.7 246.7L54.1 243.2L54.9 239.9L55.9 236.7L57.2 233.6L58.7 230.7L60.5 227.9L62.5 225.3L64.8 222.8L67.3 220.6L70.0 218.6L72.8 216.8L75.8 215.3L79.0 214.1L82.3 213.1L85.6 212.4L89.1 212.0L92.7 211.8L96.4 212.0L99.9 212.4L103.2 213.1L106.5 214.1L109.7 215.3L112.7 216.8L115.5 218.6L118.2 220.6L120.7 222.8L123.0 225.3L125.0 227.9L126.8 230.7L128.3 233.6L129.6 236.7L130.6 239.9L131.4 243.2L131.8 246.7Z" fill="#ef2f27" stroke="#ef2f27" stroke-width="0.7"/><path d="M131.4 250.2L131.2 253.7L130.8 257.1L130.1 260.3L129.1 263.5L127.8 266.5L126.3 269.4L124.5 272.2L122.5 274.8L120.3 277.2L117.8 279.4L115.2 281.3L112.4 283.1L109.4 284.6L106.3 285.8L103.1 286.8L99.7 287.5L96.3 287.9L92.8 288.0L89.2 287.9L85.8 287.5L82.4 286.8L79.2 285.8L76.1 284.6L73.1 283.1L70.3 281.3L67.7 279.4L65.2 277.2L63.0 274.8L61.0 272.2L59.2 269.4L57.7 266.5L56.4 263.5L55.4 260.3L54.7 257.1L54.3 253.7L54.1 250.2L54.3 246.7L54.7 243.3L55.4 240.1L56.4 236.9L57.7 233.9L59.2 231.0L61.0 228.2L63.0 225.6L65.2 223.2L67.7 221.0L70.3 219.1L73.1 217.3L76.1 215.8L79.2 214.6L82.4 213.6L85.8 212.9L89.2 212.5L92.7 212.4L96.3 212.5L99.7 212.9L103.1 213.6L106.3 214.6L109.4 215.8L112.4 217.3L115.2 219.1L117.8 221.0L120.3 223.2L122.5 225.6L124.5 228.2L126.3 231.0L127.8 233.9L129.1 236.9L130.1 240.1L130.8 243.3L131.2 246.7Z" fill="#ef3526" stroke="#ef3526" stroke-width="0.7"/><path d="M130.8 250.2L130.6 253.6L130.2 257.0L129.5 260.2L128.5 263.3L127.3 266.3L125.8 269.1L124.1 271.9L122.1 274.4L119.9 276.8L117.5 278.9L114.9 280.9L112.1 282.6L109.2 284.0L106.1 285.3L102.9 286.2L99.6 286.9L96.3 287.3L92.8 287.5L89.2 287.3L85.9 286.9L82.6 286.2L79.4 285.3L76.3 284.0L73.4 282.6L70.6 280.9L68.0 278.9L65.6 276.8L63.4 274.4L61.4 271.9L59.7 269.1L58.2 266.3L57.0 263.3L56.0 260.2L55.3 257.0L54.9 253.6L54.7 250.2L54.9 246.8L55.3 243.4L56.0 240.2L57.0 237.1L58.2 234.1L59.7 231.3L61.4 228.5L63.4 226.0L65.6 223.6L68.0 221.5L70.6 219.5L73.4 217.8L76.3 216.4L79.4 215.1L82.6 214.2L85.9 213.5L89.2 213.1L92.7 212.9L96.3 213.1L99.6 213.5L102.9 214.2L106.1 215.1L109.2 216.4L112.1 217.8L114.9 219.5L117.5 221.5L119.9 223.6L122.1 226.0L124.1 228.5L125.8 231.3L127.3 234.1L128.5 237.1L129.5 240.2L130.2 243.4L130.6 246.8Z" fill="#f03c26" stroke="#f03c26" stroke-width="0.7"/><path d="M130.4 250.2L130.3 253.6L129.9 256.9L129.2 260.1L128.2 263.2L127.0 266.1L125.5 269.0L123.8 271.6L121.8 274.2L119.6 276.5L117.2 278.6L114.6 280.6L111.9 282.3L109.0 283.7L106.0 284.9L102.8 285.9L99.6 286.5L96.2 287.0L92.8 287.1L89.3 287.0L85.9 286.5L82.7 285.9L79.5 284.9L76.5 283.7L73.6 282.3L70.9 280.6L68.3 278.6L65.9 276.5L63.7 274.2L61.7 271.6L60.0 269.0L58.5 266.1L57.3 263.2L56.3 260.1L55.6 256.9L55.2 253.6L55.1 250.2L55.2 246.8L55.6 243.5L56.3 240.3L57.3 237.2L58.5 234.3L60.0 231.4L61.7 228.8L63.7 226.2L65.9 223.9L68.3 221.8L70.9 219.8L73.6 218.1L76.5 216.7L79.5 215.5L82.7 214.5L85.9 213.9L89.3 213.4L92.7 213.3L96.2 213.4L99.6 213.9L102.8 214.5L106.0 215.5L109.0 216.7L111.9 218.1L114.6 219.8L117.2 221.8L119.6 223.9L121.8 226.2L123.8 228.8L125.5 231.4L127.0 234.3L128.2 237.2L129.2 240.3L129.9 243.5L130.3 246.8Z" fill="#f14226" stroke="#f14226" stroke-width="0.7"/><path d="M130.0 250.2L129.9 253.6L129.5 256.8L128.8 260.0L127.8 263.0L126.6 266.0L125.2 268.8L123.4 271.4L121.5 273.9L119.3 276.3L117.0 278.4L114.4 280.3L111.7 281.9L108.8 283.4L105.8 284.6L102.7 285.5L99.5 286.2L96.2 286.6L92.8 286.7L89.3 286.6L86.0 286.2L82.8 285.5L79.7 284.6L76.7 283.4L73.8 281.9L71.1 280.3L68.5 278.4L66.2 276.3L64.0 273.9L62.1 271.4L60.3 268.8L58.9 266.0L57.7 263.0L56.7 260.0L56.0 256.8L55.6 253.6L55.5 250.2L55.6 246.8L56.0 243.6L56.7 240.4L57.7 237.4L58.9 234.4L60.3 231.6L62.1 229.0L64.0 226.5L66.2 224.1L68.5 222.0L71.1 220.1L73.8 218.5L76.7 217.0L79.7 215.8L82.8 214.9L86.0 214.2L89.3 213.8L92.7 213.7L96.2 213.8L99.5 214.2L102.7 214.9L105.8 215.8L108.8 217.0L111.7 218.5L114.4 220.1L117.0 222.0L119.3 224.1L121.5 226.5L123.4 229.0L125.2 231.6L126.6 234.4L127.8 237.4L128.8 240.4L129.5 243.6L129.9 246.8Z" fill="#f14725" stroke="#f14725" stroke-width="0.7"/><path d="M129.7 250.2L129.5 253.5L129.1 256.8L128.4 259.9L127.5 262.9L126.3 265.8L124.8 268.6L123.1 271.2L121.2 273.7L119.1 276.0L116.7 278.1L114.2 280.0L111.5 281.6L108.7 283.1L105.7 284.2L102.6 285.2L99.4 285.8L96.2 286.2L92.8 286.4L89.3 286.2L86.1 285.8L82.9 285.2L79.8 284.2L76.8 283.1L74.0 281.6L71.3 280.0L68.8 278.1L66.4 276.0L64.3 273.7L62.4 271.2L60.7 268.6L59.2 265.8L58.0 262.9L57.1 259.9L56.4 256.8L56.0 253.5L55.8 250.2L56.0 246.9L56.4 243.6L57.1 240.5L58.0 237.5L59.2 234.6L60.7 231.8L62.4 229.2L64.3 226.7L66.4 224.4L68.8 222.3L71.3 220.4L74.0 218.8L76.8 217.3L79.8 216.2L82.9 215.2L86.1 214.6L89.3 214.2L92.7 214.0L96.2 214.2L99.4 214.6L102.6 215.2L105.7 216.2L108.7 217.3L111.5 218.8L114.2 220.4L116.7 222.3L119.1 224.4L121.2 226.7L123.1 229.2L124.8 231.8L126.3 234.6L127.5 237.5L128.4 240.5L129.1 243.6L129.5 246.9Z" fill="#f24d25" stroke="#f24d25" stroke-width="0.7"/><path d="M129.3 250.2L129.2 253.5L128.8 256.7L128.1 259.8L127.2 262.8L126.0 265.7L124.5 268.4L122.8 271.0L120.9 273.5L118.8 275.7L116.5 277.8L114.0 279.7L111.3 281.3L108.5 282.7L105.6 283.9L102.5 284.8L99.4 285.5L96.1 285.9L92.8 286.0L89.4 285.9L86.1 285.5L83.0 284.8L79.9 283.9L77.0 282.7L74.2 281.3L71.5 279.7L69.0 277.8L66.7 275.7L64.6 273.5L62.7 271.0L61.0 268.4L59.5 265.7L58.3 262.8L57.4 259.8L56.7 256.7L56.3 253.5L56.2 250.2L56.3 246.9L56.7 243.7L57.4 240.6L58.3 237.6L59.5 234.7L61.0 232.0L62.7 229.4L64.6 226.9L66.7 224.7L69.0 222.6L71.5 220.7L74.2 219.1L77.0 217.7L79.9 216.5L83.0 215.6L86.1 214.9L89.4 214.5L92.7 214.4L96.1 214.5L99.4 214.9L102.5 215.6L105.6 216.5L108.5 217.7L111.3 219.1L114.0 220.7L116.5 222.6L118.8 224.7L120.9 226.9L122.8 229.4L124.5 232.0L126.0 234.7L127.2 237.6L128.1 240.6L128.8 243.7L129.2 246.9Z" fill="#f25324" stroke="#f25324" stroke-width="0.7"/><path d="M128.9 250.2L128.8 253.5L128.4 256.6L127.7 259.7L126.8 262.6L125.6 265.5L124.2 268.2L122.5 270.8L120.7 273.2L118.6 275.5L116.3 277.5L113.8 279.4L111.2 281.0L108.4 282.4L105.5 283.6L102.4 284.5L99.3 285.1L96.1 285.5L92.8 285.6L89.4 285.5L86.2 285.1L83.1 284.5L80.0 283.6L77.1 282.4L74.3 281.0L71.7 279.4L69.2 277.5L66.9 275.5L64.8 273.2L63.0 270.8L61.3 268.2L59.9 265.5L58.7 262.6L57.8 259.7L57.1 256.6L56.7 253.5L56.6 250.2L56.7 246.9L57.1 243.8L57.8 240.7L58.7 237.8L59.9 234.9L61.3 232.2L63.0 229.6L64.8 227.2L66.9 224.9L69.2 222.9L71.7 221.0L74.3 219.4L77.1 218.0L80.0 216.8L83.1 215.9L86.2 215.3L89.4 214.9L92.7 214.8L96.1 214.9L99.3 215.3L102.4 215.9L105.5 216.8L108.4 218.0L111.2 219.4L113.8 221.0L116.3 222.9L118.6 224.9L120.7 227.2L122.5 229.6L124.2 232.2L125.6 234.9L126.8 237.8L127.7 240.7L128.4 243.8L128.8 246.9Z" fill="#f35824" stroke="#f35824" stroke-width="0.7"/><path d="M128.5 250.2L128.3 253.4L128.0 256.5L127.3 259.6L126.4 262.5L125.2 265.3L123.8 268.0L122.2 270.5L120.3 272.9L118.2 275.2L116.0 277.2L113.5 279.0L110.9 280.6L108.2 282.0L105.3 283.1L102.3 284.0L99.2 284.7L96.1 285.1L92.8 285.2L89.4 285.1L86.3 284.7L83.2 284.0L80.2 283.1L77.3 282.0L74.6 280.6L72.0 279.0L69.5 277.2L67.3 275.2L65.2 272.9L63.3 270.5L61.7 268.0L60.3 265.3L59.1 262.5L58.2 259.6L57.5 256.5L57.2 253.4L57.0 250.2L57.2 247.0L57.5 243.9L58.2 240.8L59.1 237.9L60.3 235.1L61.7 232.4L63.3 229.9L65.2 227.5L67.3 225.2L69.5 223.2L72.0 221.4L74.6 219.8L77.3 218.4L80.2 217.3L83.2 216.4L86.3 215.7L89.4 215.3L92.7 215.2L96.1 215.3L99.2 215.7L102.3 216.4L105.3 217.3L108.2 218.4L110.9 219.8L113.5 221.4L116.0 223.2L118.2 225.2L120.3 227.5L122.2 229.9L123.8 232.4L125.2 235.1L126.4 237.9L127.3 240.8L128.0 243.9L128.3 247.0Z" fill="#f35f24" stroke="#f35f24" stroke-width="0.7"/><path d="M128.0 250.2L127.9 253.4L127.5 256.5L126.8 259.4L125.9 262.3L124.8 265.1L123.4 267.8L121.8 270.3L119.9 272.6L117.9 274.8L115.7 276.8L113.3 278.6L110.7 280.2L108.0 281.6L105.1 282.7L102.2 283.6L99.1 284.2L96.0 284.6L92.8 284.7L89.5 284.6L86.4 284.2L83.3 283.6L80.4 282.7L77.5 281.6L74.8 280.2L72.2 278.6L69.8 276.8L67.6 274.8L65.6 272.6L63.7 270.3L62.1 267.8L60.7 265.1L59.6 262.3L58.7 259.4L58.0 256.5L57.6 253.4L57.5 250.2L57.6 247.0L58.0 243.9L58.7 241.0L59.6 238.1L60.7 235.3L62.1 232.6L63.7 230.1L65.6 227.8L67.6 225.6L69.8 223.6L72.2 221.8L74.8 220.2L77.5 218.8L80.4 217.7L83.3 216.8L86.4 216.2L89.5 215.8L92.7 215.7L96.0 215.8L99.1 216.2L102.2 216.8L105.1 217.7L108.0 218.8L110.7 220.2L113.3 221.8L115.7 223.6L117.9 225.6L119.9 227.8L121.8 230.1L123.4 232.6L124.8 235.3L125.9 238.1L126.8 241.0L127.5 243.9L127.9 247.0Z" fill="#f36624" stroke="#f36624" stroke-width="0.7"/><path d="M127.6 250.2L127.4 253.4L127.0 256.4L126.4 259.3L125.5 262.2L124.4 264.9L123.0 267.5L121.4 270.0L119.6 272.4L117.6 274.5L115.4 276.5L113.0 278.3L110.5 279.8L107.8 281.2L105.0 282.3L102.1 283.2L99.1 283.8L96.0 284.2L92.8 284.3L89.5 284.2L86.4 283.8L83.4 283.2L80.5 282.3L77.7 281.2L75.0 279.8L72.5 278.3L70.1 276.5L67.9 274.5L65.9 272.4L64.1 270.0L62.5 267.5L61.1 264.9L60.0 262.2L59.1 259.3L58.5 256.4L58.1 253.4L57.9 250.2L58.1 247.0L58.5 244.0L59.1 241.1L60.0 238.2L61.1 235.5L62.5 232.9L64.1 230.4L65.9 228.0L67.9 225.9L70.1 223.9L72.5 222.1L75.0 220.6L77.7 219.2L80.5 218.1L83.4 217.2L86.4 216.6L89.5 216.2L92.7 216.1L96.0 216.2L99.1 216.6L102.1 217.2L105.0 218.1L107.8 219.2L110.5 220.6L113.0 222.1L115.4 223.9L117.6 225.9L119.6 228.0L121.4 230.4L123.0 232.9L124.4 235.5L125.5 238.2L126.4 241.1L127.0 244.0L127.4 247.0Z" fill="#f46c24" stroke="#f46c24" stroke-width="0.7"/><path d="M127.1 250.2L127.0 253.3L126.6 256.3L126.0 259.2L125.1 262.0L124.0 264.7L122.6 267.3L121.0 269.8L119.2 272.1L117.2 274.2L115.1 276.1L112.7 277.9L110.2 279.4L107.6 280.8L104.8 281.9L101.9 282.7L99.0 283.3L95.9 283.7L92.8 283.8L89.6 283.7L86.5 283.3L83.6 282.7L80.7 281.9L77.9 280.8L75.3 279.4L72.8 277.9L70.4 276.1L68.3 274.2L66.3 272.1L64.5 269.8L62.9 267.3L61.5 264.7L60.4 262.0L59.5 259.2L58.9 256.3L58.5 253.3L58.4 250.2L58.5 247.1L58.9 244.1L59.5 241.2L60.4 238.4L61.5 235.7L62.9 233.1L64.5 230.6L66.3 228.3L68.3 226.2L70.4 224.3L72.8 222.5L75.3 221.0L77.9 219.6L80.7 218.5L83.6 217.7L86.5 217.1L89.6 216.7L92.7 216.6L95.9 216.7L99.0 217.1L101.9 217.7L104.8 218.5L107.6 219.6L110.2 221.0L112.7 222.5L115.1 224.3L117.2 226.2L119.2 228.3L121.0 230.6L122.6 233.1L124.0 235.7L125.1 238.4L126.0 241.2L126.6 244.1L127.0 247.1Z" fill="#f47324" stroke="#f47324" stroke-width="0.7"/><path d="M126.6 250.2L126.5 253.3L126.1 256.2L125.5 259.1L124.6 261.9L123.5 264.5L122.2 267.1L120.6 269.5L118.9 271.8L116.9 273.9L114.8 275.8L112.5 277.5L110.0 279.0L107.4 280.4L104.6 281.4L101.8 282.3L98.9 282.9L95.9 283.3L92.8 283.4L89.6 283.3L86.6 282.9L83.7 282.3L80.9 281.4L78.1 280.4L75.5 279.0L73.0 277.5L70.7 275.8L68.6 273.9L66.6 271.8L64.9 269.5L63.3 267.1L62.0 264.5L60.9 261.9L60.0 259.1L59.4 256.2L59.0 253.3L58.9 250.2L59.0 247.1L59.4 244.2L60.0 241.3L60.9 238.5L62.0 235.9L63.3 233.3L64.9 230.9L66.6 228.6L68.6 226.5L70.7 224.6L73.0 222.9L75.5 221.4L78.1 220.0L80.9 219.0L83.7 218.1L86.6 217.5L89.6 217.1L92.7 217.0L95.9 217.1L98.9 217.5L101.8 218.1L104.6 219.0L107.4 220.0L110.0 221.4L112.5 222.9L114.8 224.6L116.9 226.5L118.9 228.6L120.6 230.9L122.2 233.3L123.5 235.9L124.6 238.5L125.5 241.3L126.1 244.2L126.5 247.1Z" fill="#f47924" stroke="#f47924" stroke-width="0.7"/><path d="M126.1 250.2L125.9 253.2L125.6 256.1L125.0 258.9L124.1 261.7L123.0 264.3L121.7 266.8L120.2 269.2L118.4 271.4L116.5 273.5L114.4 275.4L112.1 277.1L109.7 278.6L107.1 279.8L104.4 280.9L101.7 281.7L98.8 282.3L95.8 282.7L92.8 282.8L89.7 282.7L86.7 282.3L83.8 281.7L81.1 280.9L78.4 279.8L75.8 278.6L73.4 277.1L71.1 275.4L69.0 273.5L67.1 271.4L65.3 269.2L63.8 266.8L62.5 264.3L61.4 261.7L60.5 258.9L59.9 256.1L59.6 253.2L59.4 250.2L59.6 247.2L59.9 244.3L60.5 241.5L61.4 238.7L62.5 236.1L63.8 233.6L65.3 231.2L67.1 229.0L69.0 226.9L71.1 225.0L73.4 223.3L75.8 221.8L78.4 220.6L81.1 219.5L83.8 218.7L86.7 218.1L89.7 217.7L92.7 217.6L95.8 217.7L98.8 218.1L101.7 218.7L104.4 219.5L107.1 220.6L109.7 221.8L112.1 223.3L114.4 225.0L116.5 226.9L118.4 229.0L120.2 231.2L121.7 233.6L123.0 236.1L124.1 238.7L125.0 241.5L125.6 244.3L125.9 247.2Z" fill="#f57f23" stroke="#f57f23" stroke-width="0.7"/><path d="M125.5 250.2L125.4 253.2L125.0 256.0L124.4 258.8L123.6 261.5L122.5 264.0L121.2 266.5L119.7 268.8L118.0 271.0L116.1 273.1L114.0 274.9L111.8 276.6L109.4 278.1L106.9 279.3L104.2 280.4L101.5 281.2L98.7 281.8L95.8 282.2L92.8 282.3L89.7 282.2L86.8 281.8L84.0 281.2L81.3 280.4L78.6 279.3L76.1 278.1L73.7 276.6L71.5 274.9L69.4 273.1L67.5 271.0L65.8 268.8L64.3 266.5L63.0 264.0L61.9 261.5L61.1 258.8L60.5 256.0L60.1 253.2L60.0 250.2L60.1 247.2L60.5 244.4L61.1 241.6L61.9 238.9L63.0 236.4L64.3 233.9L65.8 231.6L67.5 229.4L69.4 227.3L71.5 225.5L73.7 223.8L76.1 222.3L78.6 221.1L81.3 220.0L84.0 219.2L86.8 218.6L89.7 218.2L92.7 218.1L95.8 218.2L98.7 218.6L101.5 219.2L104.2 220.0L106.9 221.1L109.4 222.3L111.8 223.8L114.0 225.5L116.1 227.3L118.0 229.4L119.7 231.6L121.2 233.9L122.5 236.4L123.6 238.9L124.4 241.6L125.0 244.4L125.4 247.2Z" fill="#f68622" stroke="#f68622" stroke-width="0.7"/><path d="M124.9 250.2L124.8 253.1L124.4 255.9L123.8 258.6L123.0 261.3L122.0 263.8L120.7 266.2L119.2 268.5L117.6 270.7L115.7 272.7L113.6 274.5L111.5 276.1L109.1 277.6L106.6 278.8L104.0 279.9L101.4 280.7L98.6 281.2L95.7 281.6L92.8 281.7L89.8 281.6L86.9 281.2L84.1 280.7L81.5 279.9L78.9 278.8L76.4 277.6L74.0 276.1L71.9 274.5L69.8 272.7L67.9 270.7L66.3 268.5L64.8 266.2L63.5 263.8L62.5 261.3L61.7 258.6L61.1 255.9L60.7 253.1L60.6 250.2L60.7 247.3L61.1 244.5L61.7 241.8L62.5 239.1L63.5 236.6L64.8 234.2L66.3 231.9L67.9 229.7L69.8 227.7L71.9 225.9L74.0 224.3L76.4 222.8L78.9 221.6L81.5 220.5L84.1 219.7L86.9 219.2L89.8 218.8L92.7 218.7L95.7 218.8L98.6 219.2L101.4 219.7L104.0 220.5L106.6 221.6L109.1 222.8L111.5 224.3L113.6 225.9L115.7 227.7L117.6 229.7L119.2 231.9L120.7 234.2L122.0 236.6L123.0 239.1L123.8 241.8L124.4 244.5L124.8 247.3Z" fill="#f68c21" stroke="#f68c21" stroke-width="0.7"/><path d="M124.3 250.2L124.2 253.1L123.9 255.8L123.3 258.5L122.5 261.1L121.4 263.6L120.2 265.9L118.8 268.2L117.1 270.3L115.3 272.3L113.3 274.1L111.1 275.7L108.8 277.1L106.4 278.3L103.8 279.3L101.2 280.1L98.5 280.7L95.7 281.0L92.8 281.1L89.8 281.0L87.0 280.7L84.3 280.1L81.7 279.3L79.1 278.3L76.7 277.1L74.4 275.7L72.2 274.1L70.2 272.3L68.4 270.3L66.7 268.2L65.3 265.9L64.1 263.6L63.0 261.1L62.2 258.5L61.6 255.8L61.3 253.1L61.2 250.2L61.3 247.3L61.6 244.6L62.2 241.9L63.0 239.3L64.1 236.8L65.3 234.5L66.7 232.2L68.4 230.1L70.2 228.1L72.2 226.3L74.4 224.7L76.7 223.3L79.1 222.1L81.7 221.1L84.3 220.3L87.0 219.7L89.8 219.4L92.7 219.3L95.7 219.4L98.5 219.7L101.2 220.3L103.8 221.1L106.4 222.1L108.8 223.3L111.1 224.7L113.3 226.3L115.3 228.1L117.1 230.1L118.8 232.2L120.2 234.5L121.4 236.8L122.5 239.3L123.3 241.9L123.9 244.6L124.2 247.3Z" fill="#f79220" stroke="#f79220" stroke-width="0.7"/><path d="M123.8 250.2L123.7 253.0L123.3 255.7L122.7 258.3L121.9 260.9L120.9 263.3L119.7 265.6L118.3 267.9L116.7 269.9L114.9 271.9L112.9 273.6L110.8 275.2L108.5 276.6L106.1 277.8L103.6 278.8L101.0 279.6L98.4 280.1L95.6 280.5L92.8 280.6L89.9 280.5L87.1 280.1L84.5 279.6L81.9 278.8L79.4 277.8L77.0 276.6L74.7 275.2L72.6 273.6L70.6 271.9L68.8 269.9L67.2 267.9L65.8 265.6L64.6 263.3L63.6 260.9L62.8 258.3L62.2 255.7L61.8 253.0L61.7 250.2L61.8 247.4L62.2 244.7L62.8 242.1L63.6 239.5L64.6 237.1L65.8 234.8L67.2 232.5L68.8 230.5L70.6 228.5L72.6 226.8L74.7 225.2L77.0 223.8L79.4 222.6L81.9 221.6L84.5 220.8L87.1 220.3L89.9 219.9L92.7 219.8L95.6 219.9L98.4 220.3L101.0 220.8L103.6 221.6L106.1 222.6L108.5 223.8L110.8 225.2L112.9 226.8L114.9 228.5L116.7 230.5L118.3 232.5L119.7 234.8L120.9 237.1L121.9 239.5L122.7 242.1L123.3 244.7L123.7 247.4Z" fill="#f8971f" stroke="#f8971f" stroke-width="0.7"/><path d="M123.0 250.2L122.9 252.9L122.6 255.6L122.0 258.1L121.3 260.6L120.3 263.0L119.1 265.3L117.7 267.5L116.1 269.5L114.4 271.4L112.4 273.1L110.4 274.6L108.2 276.0L105.8 277.2L103.4 278.1L100.9 278.9L98.2 279.4L95.6 279.8L92.8 279.9L89.9 279.8L87.3 279.4L84.6 278.9L82.1 278.1L79.7 277.2L77.3 276.0L75.1 274.6L73.1 273.1L71.1 271.4L69.4 269.5L67.8 267.5L66.4 265.3L65.2 263.0L64.2 260.6L63.5 258.1L62.9 255.6L62.6 252.9L62.5 250.2L62.6 247.5L62.9 244.8L63.5 242.3L64.2 239.8L65.2 237.4L66.4 235.1L67.8 232.9L69.4 230.9L71.1 229.0L73.1 227.3L75.1 225.8L77.3 224.4L79.7 223.2L82.1 222.3L84.6 221.5L87.3 221.0L89.9 220.6L92.7 220.5L95.6 220.6L98.2 221.0L100.9 221.5L103.4 222.3L105.8 223.2L108.2 224.4L110.4 225.8L112.4 227.3L114.4 229.0L116.1 230.9L117.7 232.9L119.1 235.1L120.3 237.4L121.3 239.8L122.0 242.3L122.6 244.8L122.9 247.5Z" fill="#f89e1d" stroke="#f89e1d" stroke-width="0.7"/><path d="M122.3 250.2L122.2 252.9L121.9 255.5L121.3 257.9L120.6 260.4L119.6 262.7L118.5 264.9L117.1 267.0L115.6 269.0L113.8 270.9L112.0 272.5L109.9 274.0L107.8 275.4L105.5 276.5L103.1 277.5L100.7 278.2L98.1 278.7L95.5 279.1L92.8 279.2L90.0 279.1L87.4 278.7L84.8 278.2L82.4 277.5L80.0 276.5L77.7 275.4L75.6 274.0L73.5 272.5L71.7 270.9L69.9 269.0L68.4 267.0L67.0 264.9L65.9 262.7L64.9 260.4L64.2 257.9L63.6 255.5L63.3 252.9L63.2 250.2L63.3 247.5L63.6 244.9L64.2 242.5L64.9 240.0L65.9 237.7L67.0 235.5L68.4 233.4L69.9 231.4L71.7 229.5L73.5 227.9L75.6 226.4L77.7 225.0L80.0 223.9L82.4 222.9L84.8 222.2L87.4 221.7L90.0 221.3L92.7 221.2L95.5 221.3L98.1 221.7L100.7 222.2L103.1 222.9L105.5 223.9L107.8 225.0L109.9 226.4L112.0 227.9L113.8 229.5L115.6 231.4L117.1 233.4L118.5 235.5L119.6 237.7L120.6 240.0L121.3 242.5L121.9 244.9L122.2 247.5Z" fill="#f8a31a" stroke="#f8a31a" stroke-width="0.7"/><path d="M121.4 250.2L121.3 252.8L121.0 255.3L120.5 257.7L119.7 260.1L118.8 262.3L117.7 264.5L116.4 266.5L114.9 268.5L113.2 270.2L111.4 271.9L109.4 273.3L107.3 274.6L105.1 275.7L102.8 276.6L100.4 277.4L97.9 277.9L95.4 278.2L92.8 278.3L90.1 278.2L87.6 277.9L85.1 277.4L82.7 276.6L80.4 275.7L78.2 274.6L76.1 273.3L74.1 271.9L72.3 270.2L70.6 268.5L69.1 266.5L67.8 264.5L66.7 262.3L65.8 260.1L65.0 257.7L64.5 255.3L64.2 252.8L64.1 250.2L64.2 247.6L64.5 245.1L65.0 242.7L65.8 240.3L66.7 238.1L67.8 235.9L69.1 233.9L70.6 231.9L72.3 230.2L74.1 228.5L76.1 227.1L78.2 225.8L80.4 224.7L82.7 223.8L85.1 223.0L87.6 222.5L90.1 222.2L92.7 222.1L95.4 222.2L97.9 222.5L100.4 223.0L102.8 223.8L105.1 224.7L107.3 225.8L109.4 227.1L111.4 228.5L113.2 230.2L114.9 231.9L116.4 233.9L117.7 235.9L118.8 238.1L119.7 240.3L120.5 242.7L121.0 245.1L121.3 247.6Z" fill="#f8aa18" stroke="#f8aa18" stroke-width="0.7"/><path d="M120.3 250.2L120.2 252.7L119.9 255.1L119.4 257.4L118.7 259.7L117.8 261.8L116.7 263.9L115.4 265.9L114.0 267.7L112.4 269.4L110.7 271.0L108.8 272.4L106.8 273.7L104.6 274.7L102.4 275.6L100.1 276.3L97.7 276.8L95.3 277.1L92.8 277.2L90.2 277.1L87.8 276.8L85.4 276.3L83.1 275.6L80.9 274.7L78.7 273.7L76.7 272.4L74.8 271.0L73.1 269.4L71.5 267.7L70.1 265.9L68.8 263.9L67.7 261.8L66.8 259.7L66.1 257.4L65.6 255.1L65.3 252.7L65.2 250.2L65.3 247.7L65.6 245.3L66.1 243.0L66.8 240.7L67.7 238.6L68.8 236.5L70.1 234.5L71.5 232.7L73.1 231.0L74.8 229.4L76.7 228.0L78.7 226.7L80.9 225.7L83.1 224.8L85.4 224.1L87.8 223.6L90.2 223.3L92.7 223.2L95.3 223.3L97.7 223.6L100.1 224.1L102.4 224.8L104.6 225.7L106.8 226.7L108.8 228.0L110.7 229.4L112.4 231.0L114.0 232.7L115.4 234.5L116.7 236.5L117.8 238.6L118.7 240.7L119.4 243.0L119.9 245.3L120.2 247.7Z" fill="#f8b016" stroke="#f8b016" stroke-width="0.7"/><path d="M119.2 250.2L119.1 252.6L118.8 254.9L118.3 257.1L117.6 259.3L116.8 261.4L115.7 263.4L114.5 265.3L113.1 267.0L111.6 268.7L109.9 270.2L108.1 271.5L106.2 272.7L104.2 273.7L102.0 274.6L99.8 275.2L97.5 275.7L95.2 276.0L92.8 276.1L90.3 276.0L88.0 275.7L85.7 275.2L83.5 274.6L81.3 273.7L79.3 272.7L77.4 271.5L75.6 270.2L73.9 268.7L72.4 267.0L71.0 265.3L69.8 263.4L68.7 261.4L67.9 259.3L67.2 257.1L66.7 254.9L66.4 252.6L66.3 250.2L66.4 247.8L66.7 245.5L67.2 243.3L67.9 241.1L68.7 239.0L69.8 237.0L71.0 235.1L72.4 233.4L73.9 231.7L75.6 230.2L77.4 228.9L79.3 227.7L81.3 226.7L83.5 225.8L85.7 225.2L88.0 224.7L90.3 224.4L92.7 224.3L95.2 224.4L97.5 224.7L99.8 225.2L102.0 225.8L104.2 226.7L106.2 227.7L108.1 228.9L109.9 230.2L111.6 231.7L113.1 233.4L114.5 235.1L115.7 237.0L116.8 239.0L117.6 241.1L118.3 243.3L118.8 245.5L119.1 247.8Z" fill="#f8b714" stroke="#f8b714" stroke-width="0.7"/><path d="M118.5 250.2L118.4 252.5L118.1 254.8L117.6 256.9L116.9 259.0L116.1 261.1L115.1 263.0L113.9 264.8L112.6 266.6L111.1 268.2L109.5 269.6L107.7 270.9L105.8 272.1L103.8 273.1L101.8 273.9L99.6 274.5L97.4 275.0L95.1 275.3L92.8 275.4L90.4 275.3L88.1 275.0L85.9 274.5L83.7 273.9L81.7 273.1L79.7 272.1L77.8 270.9L76.0 269.6L74.4 268.2L72.9 266.6L71.6 264.8L70.4 263.0L69.4 261.1L68.6 259.0L67.9 256.9L67.4 254.8L67.1 252.5L67.0 250.2L67.1 247.9L67.4 245.6L67.9 243.5L68.6 241.4L69.4 239.3L70.4 237.4L71.6 235.6L72.9 233.8L74.4 232.2L76.0 230.8L77.8 229.5L79.7 228.3L81.7 227.3L83.7 226.5L85.9 225.9L88.1 225.4L90.4 225.1L92.7 225.0L95.1 225.1L97.4 225.4L99.6 225.9L101.8 226.5L103.8 227.3L105.8 228.3L107.7 229.5L109.5 230.8L111.1 232.2L112.6 233.8L113.9 235.6L115.1 237.4L116.1 239.3L116.9 241.4L117.6 243.5L118.1 245.6L118.4 247.9Z" fill="#f8bc13" stroke="#f8bc13" stroke-width="0.7"/><path d="M117.7 250.2L117.7 252.5L117.4 254.6L116.9 256.7L116.3 258.8L115.5 260.8L114.5 262.6L113.3 264.4L112.0 266.1L110.6 267.7L109.0 269.1L107.3 270.4L105.5 271.5L103.5 272.4L101.5 273.2L99.4 273.9L97.3 274.3L95.1 274.6L92.8 274.7L90.4 274.6L88.2 274.3L86.1 273.9L84.0 273.2L82.0 272.4L80.0 271.5L78.2 270.4L76.5 269.1L74.9 267.7L73.5 266.1L72.2 264.4L71.0 262.6L70.0 260.8L69.2 258.8L68.6 256.7L68.1 254.6L67.8 252.5L67.8 250.2L67.8 247.9L68.1 245.8L68.6 243.7L69.2 241.6L70.0 239.6L71.0 237.8L72.2 236.0L73.5 234.3L74.9 232.7L76.5 231.3L78.2 230.0L80.0 228.9L82.0 228.0L84.0 227.2L86.1 226.5L88.2 226.1L90.4 225.8L92.7 225.7L95.1 225.8L97.3 226.1L99.4 226.5L101.5 227.2L103.5 228.0L105.5 228.9L107.3 230.0L109.0 231.3L110.6 232.7L112.0 234.3L113.3 236.0L114.5 237.8L115.5 239.6L116.3 241.6L116.9 243.7L117.4 245.8L117.7 247.9Z" fill="#f8c212" stroke="#f8c212" stroke-width="0.7"/><path d="M116.8 250.2L116.8 252.4L116.5 254.5L116.0 256.5L115.4 258.5L114.6 260.4L113.7 262.2L112.6 263.9L111.3 265.5L109.9 267.0L108.4 268.4L106.8 269.6L105.0 270.7L103.1 271.6L101.2 272.4L99.2 273.0L97.1 273.5L95.0 273.7L92.8 273.8L90.5 273.7L88.4 273.5L86.3 273.0L84.3 272.4L82.4 271.6L80.5 270.7L78.7 269.6L77.1 268.4L75.6 267.0L74.2 265.5L72.9 263.9L71.8 262.2L70.9 260.4L70.1 258.5L69.5 256.5L69.0 254.5L68.7 252.4L68.7 250.2L68.7 248.0L69.0 245.9L69.5 243.9L70.1 241.9L70.9 240.0L71.8 238.2L72.9 236.5L74.2 234.9L75.6 233.4L77.1 232.0L78.7 230.8L80.5 229.7L82.4 228.8L84.3 228.0L86.3 227.4L88.4 226.9L90.5 226.7L92.7 226.6L95.0 226.7L97.1 226.9L99.2 227.4L101.2 228.0L103.1 228.8L105.0 229.7L106.8 230.8L108.4 232.0L109.9 233.4L111.3 234.9L112.6 236.5L113.7 238.2L114.6 240.0L115.4 241.9L116.0 243.9L116.5 245.9L116.8 248.0Z" fill="#f8c811" stroke="#f8c811" stroke-width="0.7"/><path d="M115.7 250.2L115.6 252.3L115.4 254.3L115.0 256.2L114.4 258.1L113.6 259.9L112.7 261.6L111.7 263.3L110.5 264.8L109.1 266.2L107.7 267.6L106.1 268.7L104.4 269.8L102.7 270.6L100.8 271.4L98.9 272.0L96.9 272.4L94.9 272.6L92.8 272.7L90.6 272.6L88.6 272.4L86.6 272.0L84.7 271.4L82.8 270.6L81.1 269.8L79.4 268.7L77.8 267.6L76.4 266.2L75.0 264.8L73.8 263.3L72.8 261.6L71.9 259.9L71.1 258.1L70.5 256.2L70.1 254.3L69.9 252.3L69.8 250.2L69.9 248.1L70.1 246.1L70.5 244.2L71.1 242.3L71.9 240.5L72.8 238.8L73.8 237.1L75.0 235.6L76.4 234.2L77.8 232.8L79.4 231.7L81.1 230.6L82.8 229.8L84.7 229.0L86.6 228.4L88.6 228.0L90.6 227.8L92.7 227.7L94.9 227.8L96.9 228.0L98.9 228.4L100.8 229.0L102.7 229.8L104.4 230.6L106.1 231.7L107.7 232.8L109.1 234.2L110.5 235.6L111.7 237.1L112.7 238.8L113.6 240.5L114.4 242.3L115.0 244.2L115.4 246.1L115.6 248.1Z" fill="#f8cf10" stroke="#f8cf10" stroke-width="0.7"/><path d="M114.3 250.2L114.2 252.2L114.0 254.0L113.6 255.9L113.0 257.6L112.3 259.3L111.5 260.9L110.5 262.5L109.4 263.9L108.1 265.3L106.8 266.5L105.3 267.6L103.7 268.6L102.1 269.4L100.3 270.1L98.5 270.6L96.7 271.0L94.7 271.2L92.8 271.3L90.8 271.2L88.8 271.0L87.0 270.6L85.2 270.1L83.4 269.4L81.8 268.6L80.2 267.6L78.7 266.5L77.4 265.3L76.1 263.9L75.0 262.5L74.0 260.9L73.2 259.3L72.5 257.6L71.9 255.9L71.5 254.0L71.3 252.2L71.2 250.2L71.3 248.2L71.5 246.4L71.9 244.5L72.5 242.8L73.2 241.1L74.0 239.5L75.0 237.9L76.1 236.5L77.4 235.1L78.7 233.9L80.2 232.8L81.8 231.8L83.4 231.0L85.2 230.3L87.0 229.8L88.8 229.4L90.8 229.2L92.7 229.1L94.7 229.2L96.7 229.4L98.5 229.8L100.3 230.3L102.1 231.0L103.7 231.8L105.3 232.8L106.8 233.9L108.1 235.1L109.4 236.5L110.5 237.9L111.5 239.5L112.3 241.1L113.0 242.8L113.6 244.5L114.0 246.4L114.2 248.2Z" fill="#f8d510" stroke="#f8d510" stroke-width="0.7"/><path d="M112.9 250.2L112.8 252.0L112.6 253.8L112.2 255.5L111.7 257.1L111.1 258.7L110.3 260.2L109.3 261.7L108.3 263.0L107.1 264.3L105.9 265.4L104.5 266.5L103.0 267.4L101.5 268.1L99.8 268.8L98.1 269.3L96.4 269.7L94.6 269.9L92.8 270.0L90.9 269.9L89.1 269.7L87.4 269.3L85.7 268.8L84.0 268.1L82.5 267.4L81.0 266.5L79.6 265.4L78.4 264.3L77.2 263.0L76.2 261.7L75.2 260.2L74.4 258.7L73.8 257.1L73.3 255.5L72.9 253.8L72.7 252.0L72.6 250.2L72.7 248.4L72.9 246.6L73.3 244.9L73.8 243.3L74.4 241.7L75.2 240.2L76.2 238.7L77.2 237.4L78.4 236.1L79.6 235.0L81.0 233.9L82.5 233.0L84.0 232.3L85.7 231.6L87.4 231.1L89.1 230.7L90.9 230.5L92.7 230.4L94.6 230.5L96.4 230.7L98.1 231.1L99.8 231.6L101.5 232.3L103.0 233.0L104.5 233.9L105.9 235.0L107.1 236.1L108.3 237.4L109.3 238.7L110.3 240.2L111.1 241.7L111.7 243.3L112.2 244.9L112.6 246.6L112.8 248.4Z" fill="#f8da10" stroke="#f8da10" stroke-width="0.7"/><path d="M111.5 250.2L111.4 251.9L111.2 253.5L110.9 255.1L110.4 256.7L109.8 258.1L109.1 259.5L108.2 260.9L107.2 262.1L106.1 263.3L104.9 264.4L103.7 265.3L102.3 266.2L100.8 266.9L99.3 267.5L97.8 268.0L96.1 268.3L94.5 268.5L92.8 268.6L91.0 268.5L89.4 268.3L87.7 268.0L86.2 267.5L84.7 266.9L83.2 266.2L81.8 265.3L80.6 264.4L79.4 263.3L78.3 262.1L77.3 260.9L76.4 259.5L75.7 258.1L75.1 256.7L74.6 255.1L74.3 253.5L74.1 251.9L74.0 250.2L74.1 248.5L74.3 246.9L74.6 245.3L75.1 243.7L75.7 242.3L76.4 240.9L77.3 239.5L78.3 238.3L79.4 237.1L80.6 236.0L81.8 235.1L83.2 234.2L84.7 233.5L86.2 232.9L87.7 232.4L89.4 232.1L91.0 231.9L92.7 231.8L94.5 231.9L96.1 232.1L97.8 232.4L99.3 232.9L100.8 233.5L102.3 234.2L103.7 235.1L104.9 236.0L106.1 237.1L107.2 238.3L108.2 239.5L109.1 240.9L109.8 242.3L110.4 243.7L110.9 245.3L111.2 246.9L111.4 248.5Z" fill="#f8e010" stroke="#f8e010" stroke-width="0.7"/><path d="M110.1 250.2L110.0 251.8L109.9 253.3L109.5 254.7L109.1 256.2L108.5 257.5L107.8 258.8L107.0 260.1L106.1 261.2L105.1 262.3L104.0 263.3L102.8 264.2L101.6 265.0L100.2 265.6L98.8 266.2L97.4 266.6L95.9 266.9L94.4 267.1L92.8 267.2L91.1 267.1L89.6 266.9L88.1 266.6L86.7 266.2L85.3 265.6L83.9 265.0L82.7 264.2L81.5 263.3L80.4 262.3L79.4 261.2L78.5 260.1L77.7 258.8L77.0 257.5L76.4 256.2L76.0 254.7L75.6 253.3L75.5 251.8L75.4 250.2L75.5 248.6L75.6 247.1L76.0 245.7L76.4 244.2L77.0 242.9L77.7 241.6L78.5 240.3L79.4 239.2L80.4 238.1L81.5 237.1L82.7 236.2L83.9 235.4L85.3 234.8L86.7 234.2L88.1 233.8L89.6 233.5L91.1 233.3L92.7 233.2L94.4 233.3L95.9 233.5L97.4 233.8L98.8 234.2L100.2 234.8L101.6 235.4L102.8 236.2L104.0 237.1L105.1 238.1L106.1 239.2L107.0 240.3L107.8 241.6L108.5 242.9L109.1 244.2L109.5 245.7L109.9 247.1L110.0 248.6Z" fill="#f8e611" stroke="#f8e611" stroke-width="0.7"/><path d="M107.9 250.2L107.9 251.6L107.7 252.9L107.4 254.2L107.0 255.4L106.5 256.6L105.9 257.8L105.2 258.8L104.4 259.9L103.6 260.8L102.6 261.7L101.6 262.4L100.5 263.1L99.3 263.7L98.1 264.2L96.8 264.6L95.5 264.8L94.2 265.0L92.8 265.1L91.3 265.0L90.0 264.8L88.7 264.6L87.4 264.2L86.2 263.7L85.0 263.1L83.9 262.4L82.9 261.7L81.9 260.8L81.1 259.9L80.3 258.8L79.6 257.8L79.0 256.6L78.5 255.4L78.1 254.2L77.8 252.9L77.6 251.6L77.6 250.2L77.6 248.8L77.8 247.5L78.1 246.2L78.5 245.0L79.0 243.8L79.6 242.6L80.3 241.6L81.1 240.5L81.9 239.6L82.9 238.7L83.9 238.0L85.0 237.3L86.2 236.7L87.4 236.2L88.7 235.8L90.0 235.6L91.3 235.4L92.8 235.3L94.2 235.4L95.5 235.6L96.8 235.8L98.1 236.2L99.3 236.7L100.5 237.3L101.6 238.0L102.6 238.7L103.6 239.6L104.4 240.5L105.2 241.6L105.9 242.6L106.5 243.8L107.0 245.0L107.4 246.2L107.7 247.5L107.9 248.8Z" fill="#f6eb15" stroke="#f6eb15" stroke-width="0.7"/><path d="M105.7 250.2L105.7 251.4L105.5 252.5L105.3 253.6L105.0 254.7L104.5 255.7L104.0 256.7L103.4 257.6L102.8 258.5L102.0 259.3L101.2 260.0L100.3 260.7L99.3 261.2L98.3 261.7L97.3 262.2L96.2 262.5L95.1 262.7L93.9 262.9L92.8 262.9L91.6 262.9L90.4 262.7L89.3 262.5L88.2 262.2L87.2 261.7L86.2 261.2L85.2 260.7L84.3 260.0L83.5 259.3L82.7 258.5L82.1 257.6L81.5 256.7L81.0 255.7L80.5 254.7L80.2 253.6L80.0 252.5L79.8 251.4L79.8 250.2L79.8 249.0L80.0 247.9L80.2 246.8L80.5 245.7L81.0 244.7L81.5 243.7L82.1 242.8L82.7 241.9L83.5 241.1L84.3 240.4L85.2 239.7L86.2 239.2L87.2 238.7L88.2 238.2L89.3 237.9L90.4 237.7L91.6 237.5L92.8 237.5L93.9 237.5L95.1 237.7L96.2 237.9L97.3 238.2L98.3 238.7L99.3 239.2L100.3 239.7L101.2 240.4L102.0 241.1L102.8 241.9L103.4 242.8L104.0 243.7L104.5 244.7L105.0 245.7L105.3 246.8L105.5 247.9L105.7 249.0Z" fill="#f4ee1b" stroke="#f4ee1b" stroke-width="0.7"/><path d="M103.5 250.2L103.5 251.2L103.4 252.1L103.2 253.0L102.9 253.9L102.5 254.8L102.1 255.6L101.6 256.3L101.1 257.1L100.4 257.7L99.8 258.3L99.0 258.9L98.2 259.4L97.4 259.8L96.5 260.1L95.6 260.4L94.7 260.6L93.7 260.7L92.8 260.8L91.8 260.7L90.8 260.6L89.9 260.4L89.0 260.1L88.1 259.8L87.3 259.4L86.5 258.9L85.7 258.3L85.1 257.7L84.4 257.1L83.9 256.3L83.4 255.6L83.0 254.8L82.6 253.9L82.3 253.0L82.1 252.1L82.0 251.2L82.0 250.2L82.0 249.2L82.1 248.3L82.3 247.4L82.6 246.5L83.0 245.6L83.4 244.8L83.9 244.1L84.4 243.3L85.1 242.7L85.7 242.1L86.5 241.5L87.3 241.0L88.1 240.6L89.0 240.3L89.9 240.0L90.8 239.8L91.8 239.7L92.8 239.6L93.7 239.7L94.7 239.8L95.6 240.0L96.5 240.3L97.4 240.6L98.2 241.0L99.0 241.5L99.8 242.1L100.4 242.7L101.1 243.3L101.6 244.1L102.1 244.8L102.5 245.6L102.9 246.5L103.2 247.4L103.4 248.3L103.5 249.2Z" fill="#f4ee1d" stroke="#f4ee1d" stroke-width="0.7"/></g></g>
<path d="M19.0 167.91h-1.6M19.0 172.04h-1.6M19.0 176.17h-1.6M19.0 180.30h-1.6M19.0 184.43h-1.6M19.0 188.56h-1.6M19.0 192.69h-1.6M19.0 196.82h-1.6M19.0 200.95h-2.6M19.0 205.08h-1.6M19.0 209.21h-1.6M19.0 213.34h-1.6M19.0 217.47h-1.6M19.0 221.60h-1.6M19.0 225.73h-1.6M19.0 229.86h-1.6M19.0 233.99h-1.6M19.0 238.12h-1.6M19.0 242.25h-2.6M19.0 246.38h-1.6M19.0 250.51h-1.6M19.0 254.64h-1.6M19.0 258.77h-1.6M19.0 262.90h-1.6M19.0 267.03h-1.6M19.0 271.16h-1.6M19.0 275.29h-1.6M19.0 279.42h-1.6M19.0 283.55h-2.6M19.0 287.68h-1.6M19.0 291.81h-1.6M19.0 295.94h-1.6M19.0 300.07h-1.6M19.0 304.20h-1.6M19.0 308.33h-1.6M19.0 312.46h-1.6M19.0 316.59h-1.6" stroke="#111" stroke-width="0.9" fill="none"/>
<text transform="translate(15.5 201.1) rotate(-90)" text-anchor="middle" font-size="6.6" fill="#555">-1.0</text>
<text transform="translate(15.5 242.2) rotate(-90)" text-anchor="middle" font-size="6.6" fill="#555">0.0</text>
<text transform="translate(15.5 283.5) rotate(-90)" text-anchor="middle" font-size="6.6" fill="#555">1.0</text>
<text transform="translate(4.7 241.8) rotate(-90)" text-anchor="middle" font-size="8.4" fill="#444">mm</text>
<text x="30.4" y="186.5" font-size="11" font-weight="bold" fill="#fff">b</text>
<rect x="131.2" y="175.5" width="8.0" height="36.0" fill="url(#cB)" stroke="#e4e4e4" stroke-width="0.8"/>
<path d="M139.3 176.0h4.5M139.3 184.7h4.5M139.3 193.4h4.5M139.3 202.0h4.5M139.3 210.7h4.5" stroke="#c8c8c8" stroke-width="1"/>
<text x="145.0" y="178.8" font-size="7" font-weight="bold" fill="#eee">0.4</text>
<text x="145.0" y="187.5" font-size="7" font-weight="bold" fill="#eee">0.3</text>
<text x="145.0" y="196.1" font-size="7" font-weight="bold" fill="#eee">0.2</text>
<text x="145.0" y="204.7" font-size="7" font-weight="bold" fill="#eee">0.1</text>
<text x="145.0" y="213.3" font-size="7" font-weight="bold" fill="#eee">0.0</text>
<text transform="translate(162.2 192.9) rotate(90)" text-anchor="middle" font-size="6.5" font-weight="bold" fill="#eee">MPa</text>
<path d="M32.7 279.2V218" stroke="#fff" stroke-width="1.5" fill="none"/>
<path d="M30.0 220.2L32.7 210.6L35.4 220.2Z" fill="#fff"/>
<rect x="202.6" y="23.6" width="145.20000000000002" height="126.6" fill="none" stroke="#222" stroke-width="1"/>
<path d="M203.17 23.6v5.2M203.17 150.2v-5.2M227.23 23.6v5.2M227.23 150.2v-5.2M251.29 23.6v5.2M251.29 150.2v-5.2M275.35 23.6v5.2M275.35 150.2v-5.2M299.41 23.6v5.2M299.41 150.2v-5.2M323.47 23.6v5.2M323.47 150.2v-5.2M347.53 23.6v5.2M347.53 150.2v-5.2M202.6 144.60h5.2M347.8 144.60h-5.2M202.6 126.22h5.2M347.8 126.22h-5.2M202.6 107.84h5.2M347.8 107.84h-5.2M202.6 89.46h5.2M347.8 89.46h-5.2M202.6 71.08h5.2M347.8 71.08h-5.2M202.6 52.70h5.2M347.8 52.70h-5.2M202.6 34.32h5.2M347.8 34.32h-5.2" stroke="#222" stroke-width="1" fill="none"/>
<text x="199.9" y="147.20" text-anchor="end" font-size="7.2" fill="#222">0.0</text>
<text x="199.9" y="128.82" text-anchor="end" font-size="7.2" fill="#222">0.2</text>
<text x="199.9" y="110.44" text-anchor="end" font-size="7.2" fill="#222">0.4</text>
<text x="199.9" y="92.06" text-anchor="end" font-size="7.2" fill="#222">0.6</text>
<text x="199.9" y="73.68" text-anchor="end" font-size="7.2" fill="#222">0.8</text>
<text x="199.9" y="55.30" text-anchor="end" font-size="7.2" fill="#222">1.0</text>
<text x="199.9" y="36.92" text-anchor="end" font-size="7.2" fill="#222">1.2</text>
<text x="215.4" y="35.8" font-size="10.5" font-weight="bold" fill="#111">c</text>
<text transform="translate(176.4 87.3) rotate(-90)" text-anchor="middle" font-size="8.25" fill="#222">Contact pressure <tspan font-style="italic">p</tspan> (MPa)</text>
<rect x="202.6" y="167.4" width="145.20000000000002" height="126.1" fill="none" stroke="#222" stroke-width="1"/>
<path d="M203.17 167.4v5.2M203.17 293.5v-5.2M227.23 167.4v5.2M227.23 293.5v-5.2M251.29 167.4v5.2M251.29 293.5v-5.2M275.35 167.4v5.2M275.35 293.5v-5.2M299.41 167.4v5.2M299.41 293.5v-5.2M323.47 167.4v5.2M323.47 293.5v-5.2M347.53 167.4v5.2M347.53 293.5v-5.2M202.6 290.40h5.2M347.8 290.40h-5.2M202.6 270.06h5.2M347.8 270.06h-5.2M202.6 249.72h5.2M347.8 249.72h-5.2M202.6 229.38h5.2M347.8 229.38h-5.2M202.6 209.04h5.2M347.8 209.04h-5.2M202.6 188.70h5.2M347.8 188.70h-5.2M202.6 168.36h5.2M347.8 168.36h-5.2" stroke="#222" stroke-width="1" fill="none"/>
<text x="199.9" y="293.00" text-anchor="end" font-size="7.2" fill="#222">0.0</text>
<text x="199.9" y="272.66" text-anchor="end" font-size="7.2" fill="#222">0.1</text>
<text x="199.9" y="252.32" text-anchor="end" font-size="7.2" fill="#222">0.2</text>
<text x="199.9" y="231.98" text-anchor="end" font-size="7.2" fill="#222">0.3</text>
<text x="199.9" y="211.64" text-anchor="end" font-size="7.2" fill="#222">0.4</text>
<text x="199.9" y="191.30" text-anchor="end" font-size="7.2" fill="#222">0.5</text>
<text x="199.9" y="170.96" text-anchor="end" font-size="7.2" fill="#222">0.6</text>
<text x="217.6" y="182.0" font-size="10.5" font-weight="bold" fill="#111">d</text>
<text transform="translate(180.7 230.6) rotate(-90)" text-anchor="middle" font-size="8.4" fill="#222">Shear stress <tspan font-style="italic">τ</tspan> (MPa)</text>
<text x="203.57" y="303.6" text-anchor="middle" font-size="7.2" fill="#222">-3</text>
<text x="227.63" y="303.6" text-anchor="middle" font-size="7.2" fill="#222">-2</text>
<text x="251.69" y="303.6" text-anchor="middle" font-size="7.2" fill="#222">-1</text>
<text x="275.75" y="303.6" text-anchor="middle" font-size="7.2" fill="#222">0</text>
<text x="299.81" y="303.6" text-anchor="middle" font-size="7.2" fill="#222">1</text>
<text x="323.87" y="303.6" text-anchor="middle" font-size="7.2" fill="#222">2</text>
<text x="347.93" y="303.6" text-anchor="middle" font-size="7.2" fill="#222">3</text>
<text x="275.6" y="315.9" text-anchor="middle" font-size="8.3" fill="#222">Space coordinate <tspan font-style="italic">x</tspan> (mm)</text>
<path d="M203.1 145.00L203.6 144.88L204.1 144.79L204.6 144.74L205.1 144.70L205.6 144.68L206.1 144.69L206.6 144.73L207.1 144.80L207.6 144.87L208.1 144.92L208.6 144.91L209.1 144.84L209.6 144.75L210.1 144.66L210.6 144.56L211.1 144.39L211.6 144.17L212.1 143.95L212.6 143.82L213.1 143.82L213.6 143.93L214.1 144.09L214.6 143.89L215.1 140.68L215.6 132.98L216.1 125.88L216.6 121.00L217.1 117.30L217.6 114.26L218.1 111.57L218.6 109.12L219.1 106.87L219.6 104.66L220.1 102.37L220.6 100.19L221.1 98.25L221.6 96.45L222.1 94.84L222.6 93.46L223.1 92.01L223.6 90.30L224.1 88.52L224.6 86.92L225.1 85.47L225.6 84.12L226.1 82.97L226.6 81.98L227.1 81.02L227.6 80.09L228.1 79.09L228.6 77.99L229.1 76.91L229.6 75.75L230.1 74.38L230.6 73.01L231.1 72.00L231.6 71.35L232.1 70.71L232.6 69.70L233.1 68.47L233.6 67.40L234.1 66.62L234.6 65.95L235.1 65.26L235.6 64.52L236.1 63.73L236.6 62.94L237.1 62.20L237.6 61.55L238.1 61.00L238.6 60.54L239.1 59.98L239.6 59.11L240.1 58.05L240.6 57.06L241.1 56.24L241.6 55.56L242.1 55.17L242.6 54.95L243.1 54.50L243.6 53.71L244.1 52.92L244.6 52.43L245.1 52.24L245.6 52.16L246.1 51.83L246.6 51.06L247.1 50.15L247.6 49.48L248.1 49.04L248.6 48.62L249.1 48.17L249.6 47.82L250.1 47.63L250.6 47.57L251.1 47.39L251.6 46.93L252.1 46.35L252.6 45.82L253.1 45.32L253.6 44.78L254.1 44.24L254.6 43.79L255.1 43.59L255.6 43.56L256.1 43.46L256.6 43.20L257.1 42.75L257.6 42.22L258.1 41.93L258.6 41.87L259.1 41.81L259.6 41.66L260.1 41.41L260.6 40.99L261.1 40.55L261.6 40.36L262.1 40.32L262.6 40.14L263.1 39.99L263.6 40.04L264.1 40.09L264.6 39.86L265.1 39.43L265.6 39.13L266.1 39.16L266.6 39.32L267.1 39.29L267.6 39.00L268.1 38.58L268.6 38.16L269.1 37.93L269.6 37.96L270.1 38.05L270.6 38.08L271.1 38.06L271.6 37.90L272.1 37.63L272.6 37.49L273.1 37.47L273.6 37.46L274.1 37.38L274.6 37.28L275.1 37.19L275.6 37.14L276.1 37.23L276.6 37.45L277.1 37.55L277.6 37.47L278.1 37.42L278.6 37.48L279.1 37.65L279.6 37.92L280.1 38.15L280.6 38.25L281.1 38.23L281.6 38.20L282.1 38.21L282.6 38.32L283.1 38.53L283.6 38.73L284.1 38.81L284.6 38.79L285.1 38.81L285.6 39.03L286.1 39.34L286.6 39.50L287.1 39.49L287.6 39.47L288.1 39.57L288.6 39.73L289.1 39.85L289.6 40.07L290.1 40.50L290.6 40.80L291.1 40.83L291.6 40.88L292.1 41.14L292.6 41.53L293.1 41.92L293.6 42.25L294.1 42.59L294.6 42.96L295.1 43.26L295.6 43.45L296.1 43.54L296.6 43.75L297.1 44.30L297.6 45.01L298.1 45.52L298.6 45.85L299.1 46.21L299.6 46.66L300.1 47.14L300.6 47.43L301.1 47.42L301.6 47.45L302.1 47.83L302.6 48.53L303.1 49.30L303.6 49.80L304.1 50.04L304.6 50.39L305.1 50.98L305.6 51.49L306.1 51.89L306.6 52.44L307.1 53.13L307.6 53.74L308.1 54.17L308.6 54.55L309.1 55.12L309.6 55.99L310.1 56.96L310.6 57.62L311.1 57.93L311.6 58.20L312.1 58.74L312.6 59.59L313.1 60.51L313.6 61.30L314.1 61.96L314.6 62.67L315.1 63.59L315.6 64.71L316.1 65.81L316.6 66.62L317.1 67.11L317.6 67.62L318.1 68.32L318.6 69.13L319.1 70.02L319.6 70.99L320.1 72.05L320.6 73.18L321.1 74.26L321.6 75.23L322.1 76.12L322.6 77.02L323.1 78.07L323.6 79.29L324.1 80.58L324.6 81.84L325.1 83.00L325.6 84.14L326.1 85.37L326.6 86.68L327.1 88.06L327.6 89.49L328.1 91.06L328.6 92.84L329.1 94.68L329.6 96.41L330.1 98.11L330.6 99.89L331.1 101.84L331.6 103.99L332.1 106.29L332.6 108.72L333.1 111.37L333.6 114.36L334.1 117.67L334.6 121.41L335.1 126.17L335.6 133.15L336.1 140.89L336.6 144.63L337.1 145.61L337.6 146.07L338.1 146.36L338.6 146.51L339.1 146.62L339.6 146.63L340.1 146.36L340.6 145.89L341.1 145.48L341.6 145.19L342.1 144.95L342.6 144.77L343.1 144.69L343.6 144.73L344.1 144.89L344.6 145.09L345.1 145.22L345.6 145.25L346.1 145.21L346.6 145.15L347.1 145.04M203.1 145.11L203.6 144.86L204.1 144.65L204.6 144.56L205.1 144.57L205.6 144.63L206.1 144.67L206.6 144.68L207.1 144.69L207.6 144.73L208.1 144.78L208.6 144.77L209.1 144.71L209.6 144.65L210.1 144.57L210.6 144.42L211.1 144.17L211.6 143.89L212.1 143.69L212.6 143.65L213.1 143.75L213.6 143.93L214.1 144.12L214.6 144.27L215.1 144.29L215.6 144.26L216.1 144.28L216.6 144.46L217.1 144.83L217.6 145.41L218.1 146.15L218.6 146.84L219.1 147.45L219.6 147.90L220.1 147.89L220.6 147.22L221.1 146.26L221.6 145.63L222.1 145.08L222.6 143.28L223.1 138.50L223.6 132.10L224.1 126.76L224.6 122.80L225.1 119.50L225.6 116.49L226.1 113.79L226.6 111.47L227.1 109.36L227.6 107.29L228.1 105.21L228.6 103.20L229.1 101.47L229.6 100.08L230.1 98.74L230.6 97.30L231.1 95.86L231.6 94.42L232.1 92.95L232.6 91.60L233.1 90.44L233.6 89.32L234.1 88.16L234.6 87.00L235.1 85.86L235.6 84.83L236.1 83.88L236.6 82.82L237.1 81.78L237.6 80.99L238.1 80.33L238.6 79.54L239.1 78.62L239.6 77.72L240.1 76.86L240.6 75.99L241.1 75.16L241.6 74.34L242.1 73.53L242.6 72.81L243.1 72.15L243.6 71.48L244.1 70.82L244.6 70.30L245.1 69.86L245.6 69.39L246.1 68.90L246.6 68.41L247.1 67.87L247.6 67.22L248.1 66.49L248.6 65.88L249.1 65.46L249.6 65.05L250.1 64.35L250.6 63.50L251.1 62.96L251.6 62.74L252.1 62.51L252.6 62.10L253.1 61.63L253.6 61.20L254.1 60.79L254.6 60.31L255.1 59.74L255.6 59.20L256.1 58.85L256.6 58.62L257.1 58.36L257.6 57.99L258.1 57.58L258.6 57.19L259.1 56.76L259.6 56.36L260.1 56.15L260.6 56.16L261.1 56.19L261.6 56.09L262.1 55.86L262.6 55.59L263.1 55.31L263.6 55.09L264.1 54.94L264.6 54.72L265.1 54.39L265.6 54.09L266.1 53.88L266.6 53.72L267.1 53.62L267.6 53.55L268.1 53.43L268.6 53.25L269.1 53.12L269.6 53.07L270.1 53.09L270.6 53.17L271.1 53.28L271.6 53.33L272.1 53.22L272.6 52.94L273.1 52.62L273.6 52.46L274.1 52.46L274.6 52.44L275.1 52.30L275.6 52.07L276.1 51.87L276.6 51.80L277.1 51.87L277.6 52.03L278.1 52.16L278.6 52.25L279.1 52.33L279.6 52.29L280.1 52.12L280.6 51.99L281.1 52.02L281.6 52.25L282.1 52.67L282.6 53.07L283.1 53.24L283.6 53.29L284.1 53.37L284.6 53.55L285.1 53.80L285.6 54.14L286.1 54.52L286.6 54.78L287.1 54.83L287.6 54.80L288.1 54.89L288.6 55.16L289.1 55.50L289.6 55.83L290.1 56.09L290.6 56.19L291.1 56.25L291.6 56.50L292.1 56.85L292.6 57.08L293.1 57.24L293.6 57.49L294.1 57.96L294.6 58.66L295.1 59.28L295.6 59.49L296.1 59.47L296.6 59.65L297.1 60.10L297.6 60.58L298.1 60.97L298.6 61.44L299.1 62.01L299.6 62.43L300.1 62.61L300.6 62.75L301.1 63.03L301.6 63.50L302.1 64.14L302.6 64.93L303.1 65.76L303.6 66.59L304.1 67.31L304.6 67.78L305.1 68.18L305.6 68.74L306.1 69.27L306.6 69.66L307.1 70.10L307.6 70.70L308.1 71.39L308.6 72.03L309.1 72.59L309.6 73.30L310.1 74.22L310.6 75.19L311.1 76.11L311.6 76.97L312.1 77.76L312.6 78.45L313.1 79.13L313.6 79.98L314.1 81.00L314.6 82.03L315.1 82.98L315.6 83.93L316.1 85.02L316.6 86.23L317.1 87.44L317.6 88.74L318.1 90.10L318.6 91.26L319.1 92.32L319.6 93.65L320.1 95.15L320.6 96.46L321.1 97.62L321.6 98.85L322.1 100.28L322.6 101.92L323.1 103.71L323.6 105.57L324.1 107.41L324.6 109.32L325.1 111.46L325.6 113.89L326.1 116.65L326.6 119.82L327.1 123.47L327.6 127.97L328.1 134.44L328.6 141.54L329.1 144.58L329.6 145.78L330.1 146.39L330.6 146.94L331.1 147.29L331.6 147.29L332.1 146.83L332.6 146.17L333.1 145.66L333.6 145.37L334.1 145.19L334.6 145.04L335.1 144.87L335.6 144.72L336.1 144.62L336.6 144.59L337.1 144.66L337.6 144.82L338.1 144.99L338.6 145.13L339.1 145.22L339.6 145.26L340.1 145.18L340.6 145.00L341.1 144.79L341.6 144.61L342.1 144.51L342.6 144.45L343.1 144.41L343.6 144.43L344.1 144.54L344.6 144.72L345.1 144.91L345.6 145.04L346.1 145.05L346.6 144.90L347.1 144.64M203.1 144.92L203.6 144.79L204.1 144.63L204.6 144.53L205.1 144.55L205.6 144.64L206.1 144.72L206.6 144.76L207.1 144.80L207.6 144.88L208.1 144.95L208.6 144.93L209.1 144.81L209.6 144.72L210.1 144.69L210.6 144.63L211.1 144.44L211.6 144.14L212.1 143.84L212.6 143.67L213.1 143.69L213.6 143.91L214.1 144.21L214.6 144.44L215.1 144.51L215.6 144.43L216.1 144.36L216.6 144.38L217.1 144.43L217.6 144.40L218.1 144.34L218.6 144.34L219.1 144.42L219.6 144.53L220.1 144.65L220.6 144.76L221.1 144.79L221.6 144.75L222.1 144.71L222.6 144.71L223.1 144.75L223.6 144.82L224.1 144.95L224.6 145.15L225.1 145.43L225.6 145.70L226.1 145.83L226.6 145.80L227.1 145.69L227.6 145.52L228.1 145.30L228.6 145.06L229.1 144.87L229.6 144.82L230.1 144.57L230.6 142.53L231.1 137.83L231.6 132.31L232.1 127.80L232.6 124.22L233.1 121.15L233.6 118.49L234.1 116.22L234.6 114.10L235.1 112.06L235.6 110.26L236.1 108.62L236.6 106.98L237.1 105.36L237.6 103.76L238.1 102.16L238.6 100.62L239.1 99.19L239.6 97.90L240.1 96.79L240.6 95.79L241.1 94.81L241.6 93.81L242.1 92.93L242.6 92.20L243.1 91.35L243.6 90.27L244.1 89.18L244.6 88.25L245.1 87.39L245.6 86.51L246.1 85.76L246.6 85.23L247.1 84.61L247.6 83.77L248.1 82.99L248.6 82.34L249.1 81.68L249.6 80.98L250.1 80.30L250.6 79.75L251.1 79.23L251.6 78.58L252.1 77.90L252.6 77.36L253.1 76.94L253.6 76.49L254.1 75.94L254.6 75.36L255.1 74.82L255.6 74.29L256.1 73.66L256.6 73.06L257.1 72.68L257.6 72.46L258.1 72.30L258.6 72.02L259.1 71.61L259.6 71.31L260.1 71.21L260.6 71.08L261.1 70.77L261.6 70.29L262.1 69.86L262.6 69.67L263.1 69.59L263.6 69.36L264.1 68.98L264.6 68.61L265.1 68.36L265.6 68.26L266.1 68.14L266.6 67.80L267.1 67.43L267.6 67.30L268.1 67.32L268.6 67.21L269.1 66.94L269.6 66.62L270.1 66.32L270.6 66.11L271.1 66.11L271.6 66.27L272.1 66.41L272.6 66.53L273.1 66.62L273.6 66.63L274.1 66.66L274.6 66.67L275.1 66.54L275.6 66.37L276.1 66.26L276.6 66.16L277.1 66.04L277.6 65.95L278.1 65.85L278.6 65.80L279.1 65.91L279.6 66.03L280.1 66.06L280.6 66.12L281.1 66.32L281.6 66.58L282.1 66.73L282.6 66.84L283.1 66.97L283.6 67.16L284.1 67.44L284.6 67.70L285.1 67.86L285.6 68.05L286.1 68.29L286.6 68.49L287.1 68.69L287.6 68.92L288.1 69.01L288.6 68.98L289.1 69.07L289.6 69.34L290.1 69.68L290.6 70.08L291.1 70.53L291.6 70.98L292.1 71.41L292.6 71.84L293.1 72.25L293.6 72.69L294.1 73.23L294.6 73.75L295.1 74.05L295.6 74.26L296.1 74.57L296.6 75.06L297.1 75.65L297.6 76.18L298.1 76.65L298.6 77.19L299.1 77.77L299.6 78.24L300.1 78.63L300.6 79.08L301.1 79.73L301.6 80.59L302.1 81.40L302.6 81.95L303.1 82.43L303.6 83.08L304.1 83.94L304.6 84.89L305.1 85.86L305.6 86.77L306.1 87.58L306.6 88.31L307.1 88.98L307.6 89.59L308.1 90.29L308.6 91.17L309.1 92.12L309.6 93.04L310.1 94.06L310.6 95.25L311.1 96.44L311.6 97.60L312.1 98.81L312.6 100.08L313.1 101.31L313.6 102.57L314.1 104.03L314.6 105.66L315.1 107.30L315.6 108.90L316.1 110.61L316.6 112.56L317.1 114.79L317.6 117.17L318.1 119.75L318.6 122.63L319.1 125.90L319.6 129.92L320.1 135.50L320.6 141.22L321.1 144.17L321.6 144.61L322.1 144.58L322.6 144.59L323.1 144.68L323.6 144.82L324.1 144.92L324.6 144.92L325.1 144.86L325.6 144.72L326.1 144.47L326.6 144.11L327.1 143.79L327.6 143.70L328.1 143.90L328.6 144.28L329.1 144.60L329.6 144.73L330.1 144.71L330.6 144.69L331.1 144.78L331.6 144.95L332.1 145.11L332.6 145.17L333.1 145.09L333.6 144.95L334.1 144.84L334.6 144.74L335.1 144.65L335.6 144.62L336.1 144.63L336.6 144.64L337.1 144.63L337.6 144.64L338.1 144.73L338.6 144.86L339.1 144.98L339.6 145.02L340.1 144.95L340.6 144.79L341.1 144.60L341.6 144.49L342.1 144.48L342.6 144.51L343.1 144.56L343.6 144.67L344.1 144.84L344.6 145.00L345.1 145.06L345.6 145.07L346.1 145.11L346.6 145.16L347.1 145.16M203.1 144.72L203.6 144.64L204.1 144.59L204.6 144.57L205.1 144.57L205.6 144.61L206.1 144.69L206.6 144.75L207.1 144.77L207.6 144.79L208.1 144.83L208.6 144.88L209.1 144.87L209.6 144.79L210.1 144.66L210.6 144.49L211.1 144.30L211.6 144.10L212.1 143.93L212.6 143.84L213.1 143.87L213.6 144.06L214.1 144.28L214.6 144.44L215.1 144.49L215.6 144.47L216.1 144.42L216.6 144.42L217.1 144.46L217.6 144.49L218.1 144.44L218.6 144.36L219.1 144.31L219.6 144.35L220.1 144.50L220.6 144.67L221.1 144.76L221.6 144.73L222.1 144.64L222.6 144.56L223.1 144.56L223.6 144.65L224.1 144.84L224.6 145.04L225.1 145.13L225.6 145.06L226.1 144.91L226.6 144.79L227.1 144.80L227.6 144.92L228.1 145.03L228.6 145.09L229.1 145.11L229.6 145.13L230.1 145.19L230.6 145.25L231.1 145.25L231.6 145.17L232.1 145.07L232.6 144.99L233.1 144.94L233.6 144.83L234.1 144.68L234.6 144.58L235.1 144.61L235.6 144.73L236.1 144.83L236.6 144.81L237.1 144.70L237.6 144.57L238.1 144.49L238.6 144.50L239.1 144.59L239.6 144.52L240.1 142.64L240.6 137.59L241.1 132.48L241.6 128.64L242.1 125.55L242.6 122.89L243.1 120.50L243.6 118.30L244.1 116.33L244.6 114.57L245.1 113.00L245.6 111.58L246.1 110.29L246.6 109.13L247.1 107.91L247.6 106.53L248.1 105.24L248.6 104.24L249.1 103.43L249.6 102.61L250.1 101.69L250.6 100.68L251.1 99.61L251.6 98.60L252.1 97.78L252.6 97.16L253.1 96.57L253.6 95.96L254.1 95.26L254.6 94.32L255.1 93.34L255.6 92.73L256.1 92.52L256.6 92.47L257.1 92.15L257.6 91.45L258.1 90.71L258.6 90.21L259.1 89.90L259.6 89.61L260.1 89.18L260.6 88.69L261.1 88.23L261.6 87.84L262.1 87.58L262.6 87.33L263.1 86.86L263.6 86.25L264.1 85.81L264.6 85.64L265.1 85.57L265.6 85.40L266.1 85.16L266.6 85.05L267.1 85.03L267.6 84.98L268.1 84.93L268.6 84.85L269.1 84.69L269.6 84.53L270.1 84.35L270.6 84.05L271.1 83.74L271.6 83.57L272.1 83.38L272.6 83.07L273.1 82.75L273.6 82.62L274.1 82.73L274.6 82.93L275.1 83.07L275.6 83.23L276.1 83.41L276.6 83.42L277.1 83.22L277.6 83.01L278.1 82.91L278.6 82.98L279.1 83.18L279.6 83.37L280.1 83.42L280.6 83.44L281.1 83.60L281.6 83.98L282.1 84.51L282.6 84.91L283.1 84.92L283.6 84.62L284.1 84.36L284.6 84.43L285.1 84.84L285.6 85.38L286.1 85.80L286.6 86.12L287.1 86.51L287.6 86.98L288.1 87.36L288.6 87.53L289.1 87.72L289.6 88.07L290.1 88.43L290.6 88.63L291.1 88.81L291.6 89.22L292.1 90.01L292.6 91.03L293.1 91.83L293.6 92.29L294.1 92.65L294.6 93.01L295.1 93.39L295.6 93.95L296.1 94.68L296.6 95.50L297.1 96.22L297.6 96.85L298.1 97.59L298.6 98.42L299.1 99.28L299.6 100.23L300.1 101.24L300.6 102.18L301.1 103.05L301.6 103.91L302.1 105.02L302.6 106.52L303.1 108.01L303.6 109.13L304.1 109.98L304.6 110.90L305.1 112.13L305.6 113.68L306.1 115.46L306.6 117.33L307.1 119.16L307.6 121.11L308.1 123.45L308.6 126.40L309.1 130.18L309.6 135.63L310.1 141.65L310.6 144.11L311.1 144.55L311.6 144.61L312.1 144.73L312.6 145.05L313.1 145.38L313.6 145.38L314.1 145.17L314.6 145.01L315.1 144.90L315.6 144.76L316.1 144.58L316.6 144.42L317.1 144.34L317.6 144.36L318.1 144.51L318.6 144.74L319.1 144.98L319.6 145.11L320.1 145.09L320.6 144.97L321.1 144.84L321.6 144.73L322.1 144.64L322.6 144.61L323.1 144.68L323.6 144.81L324.1 144.92L324.6 144.96L325.1 144.89L325.6 144.68L326.1 144.35L326.6 143.98L327.1 143.69L327.6 143.63L328.1 143.85L328.6 144.23L329.1 144.57L329.6 144.75L330.1 144.82L330.6 144.89L331.1 144.99L331.6 145.11L332.1 145.20L332.6 145.23L333.1 145.20L333.6 145.13L334.1 145.02L334.6 144.86L335.1 144.70L335.6 144.64L336.1 144.72L336.6 144.82L337.1 144.89L337.6 144.94L338.1 145.02L338.6 145.13L339.1 145.22L339.6 145.23L340.1 145.15L340.6 144.96L341.1 144.71L341.6 144.51L342.1 144.44L342.6 144.45L343.1 144.49L343.6 144.54L344.1 144.62L344.6 144.76L345.1 144.95L345.6 145.10L346.1 145.12L346.6 145.05L347.1 144.92M203.1 144.69L203.6 144.59L204.1 144.44L204.6 144.37L205.1 144.42L205.6 144.57L206.1 144.74L206.6 144.89L207.1 145.01L207.6 145.08L208.1 145.05L208.6 144.94L209.1 144.81L209.6 144.69L210.1 144.56L210.6 144.40L211.1 144.21L211.6 143.99L212.1 143.79L212.6 143.72L213.1 143.80L213.6 144.00L214.1 144.21L214.6 144.31L215.1 144.26L215.6 144.16L216.1 144.09L216.6 144.11L217.1 144.18L217.6 144.25L218.1 144.29L218.6 144.34L219.1 144.44L219.6 144.57L220.1 144.67L220.6 144.72L221.1 144.75L221.6 144.81L222.1 144.91L222.6 145.01L223.1 145.04L223.6 144.98L224.1 144.90L224.6 144.88L225.1 144.93L225.6 145.02L226.1 145.10L226.6 145.15L227.1 145.17L227.6 145.19L228.1 145.18L228.6 145.12L229.1 145.07L229.6 145.05L230.1 145.04L230.6 145.03L231.1 145.03L231.6 145.02L232.1 144.97L232.6 144.85L233.1 144.70L233.6 144.60L234.1 144.55L234.6 144.52L235.1 144.53L235.6 144.60L236.1 144.66L236.6 144.67L237.1 144.64L237.6 144.60L238.1 144.65L238.6 144.86L239.1 145.30L239.6 146.05L240.1 146.92L240.6 147.33L241.1 146.99L241.6 146.33L242.1 145.77L242.6 145.44L243.1 145.23L243.6 145.04L244.1 144.33L244.6 141.26L245.1 135.37L245.6 130.06L246.1 126.68L246.6 124.29L247.1 122.28L247.6 120.39L248.1 118.49L248.6 116.62L249.1 114.94L249.6 113.59L250.1 112.46L250.6 111.14L251.1 109.58L251.6 108.10L252.1 106.83L252.6 105.75L253.1 104.94L253.6 104.27L254.1 103.51L254.6 102.68L255.1 101.84L255.6 101.00L256.1 100.19L256.6 99.45L257.1 98.80L257.6 98.29L258.1 97.89L258.6 97.52L259.1 97.06L259.6 96.46L260.1 95.74L260.6 94.99L261.1 94.34L261.6 93.91L262.1 93.70L262.6 93.46L263.1 93.13L263.6 92.80L264.1 92.49L264.6 92.23L265.1 91.97L265.6 91.65L266.1 91.40L266.6 91.29L267.1 91.03L267.6 90.50L268.1 89.93L268.6 89.61L269.1 89.60L269.6 89.69L270.1 89.63L270.6 89.54L271.1 89.62L271.6 89.73L272.1 89.68L272.6 89.65L273.1 89.71L273.6 89.62L274.1 89.32L274.6 88.94L275.1 88.69L275.6 88.71L276.1 88.94L276.6 89.24L277.1 89.49L277.6 89.62L278.1 89.57L278.6 89.35L279.1 89.05L279.6 88.92L280.1 89.06L280.6 89.30L281.1 89.52L281.6 89.65L282.1 89.76L282.6 90.00L283.1 90.37L283.6 90.72L284.1 91.00L284.6 91.23L285.1 91.43L285.6 91.73L286.1 92.25L286.6 92.77L287.1 93.21L287.6 93.68L288.1 94.15L288.6 94.46L289.1 94.74L289.6 95.09L290.1 95.38L290.6 95.66L291.1 96.11L291.6 96.67L292.1 97.25L292.6 97.83L293.1 98.37L293.6 98.83L294.1 99.48L294.6 100.38L295.1 101.28L295.6 102.00L296.1 102.72L296.6 103.64L297.1 104.62L297.6 105.42L298.1 106.11L298.6 106.88L299.1 107.76L299.6 108.81L300.1 110.16L300.6 111.63L301.1 113.04L301.6 114.57L302.1 116.35L302.6 118.18L303.1 119.91L303.6 121.75L304.1 123.99L304.6 126.63L305.1 129.84L305.6 134.27L306.1 139.60L306.6 143.27L307.1 144.24L307.6 144.41L308.1 144.44L308.6 144.40L309.1 144.32L309.6 144.32L310.1 144.45L310.6 144.61L311.1 144.68L311.6 144.61L312.1 144.42L312.6 144.20L313.1 144.08L313.6 144.15L314.1 144.35L314.6 144.54L315.1 144.60L315.6 144.54L316.1 144.42L316.6 144.32L317.1 144.32L317.6 144.45L318.1 144.64L318.6 144.79L319.1 144.88L319.6 144.96L320.1 145.04L320.6 145.06L321.1 144.97L321.6 144.81L322.1 144.64L322.6 144.58L323.1 144.67L323.6 144.87L324.1 145.04L324.6 145.08L325.1 144.96L325.6 144.72L326.1 144.37L326.6 143.95L327.1 143.61L327.6 143.52L328.1 143.71L328.6 144.08L329.1 144.45L329.6 144.69L330.1 144.80L330.6 144.85L331.1 144.91L331.6 144.99L332.1 145.08L332.6 145.13L333.1 145.14L333.6 145.07L334.1 144.93L334.6 144.80L335.1 144.76L335.6 144.81L336.1 144.89L336.6 144.91L337.1 144.90L337.6 144.92L338.1 145.00L338.6 145.11L339.1 145.18L339.6 145.18L340.1 145.08L340.6 144.91L341.1 144.75L341.6 144.65L342.1 144.63L342.6 144.64L343.1 144.63L343.6 144.63L344.1 144.71L344.6 144.89L345.1 145.11L345.6 145.28L346.1 145.33L346.6 145.22L347.1 145.02M203.1 145.17L203.6 144.98L204.1 144.76L204.6 144.62L205.1 144.59L205.6 144.62L206.1 144.65L206.6 144.66L207.1 144.71L207.6 144.82L208.1 144.90L208.6 144.89L209.1 144.81L209.6 144.73L210.1 144.63L210.6 144.47L211.1 144.22L211.6 143.90L212.1 143.63L212.6 143.51L213.1 143.59L213.6 143.84L214.1 144.15L214.6 144.38L215.1 144.43L215.6 144.35L216.1 144.25L216.6 144.23L217.1 144.28L217.6 144.30L218.1 144.27L218.6 144.26L219.1 144.33L219.6 144.50L220.1 144.71L220.6 144.88L221.1 144.93L221.6 144.85L222.1 144.70L222.6 144.57L223.1 144.51L223.6 144.50L224.1 144.55L224.6 144.66L225.1 144.76L225.6 144.81L226.1 144.86L226.6 144.94L227.1 145.03L227.6 145.10L228.1 145.13L228.6 145.12L229.1 145.08L229.6 145.04L230.1 145.02L230.6 145.05L231.1 145.11L231.6 145.15L232.1 145.13L232.6 145.06L233.1 144.92L233.6 144.70L234.1 144.48L234.6 144.40L235.1 144.52L235.6 144.75L236.1 144.89L236.6 144.82L237.1 144.61L237.6 144.42L238.1 144.35L238.6 144.40L239.1 144.56L239.6 144.79L240.1 144.95L240.6 144.95L241.1 144.83L241.6 144.76L242.1 144.80L242.6 144.86L243.1 144.86L243.6 144.81L244.1 144.75L244.6 144.69L245.1 144.63L245.6 144.60L246.1 144.65L246.6 144.78L247.1 144.91L247.6 144.74L248.1 143.29L248.6 139.04L249.1 133.74L249.6 129.46L250.1 126.52L250.6 124.39L251.1 122.52L251.6 120.63L252.1 118.80L252.6 117.23L253.1 115.96L253.6 114.81L254.1 113.61L254.6 112.27L255.1 110.81L255.6 109.47L256.1 108.47L256.6 107.80L257.1 107.39L257.6 107.07L258.1 106.49L258.6 105.55L259.1 104.58L259.6 103.93L260.1 103.58L260.6 103.31L261.1 102.82L261.6 102.06L262.1 101.15L262.6 100.38L263.1 99.97L263.6 99.86L264.1 99.78L264.6 99.56L265.1 99.28L265.6 99.11L266.1 98.90L266.6 98.46L267.1 98.03L267.6 97.81L268.1 97.74L268.6 97.83L269.1 97.94L269.6 97.79L270.1 97.42L270.6 97.22L271.1 97.20L271.6 97.17L272.1 97.14L272.6 97.18L273.1 97.20L273.6 97.11L274.1 97.04L274.6 97.05L275.1 97.12L275.6 97.23L276.1 97.31L276.6 97.27L277.1 97.12L277.6 96.90L278.1 96.69L278.6 96.63L279.1 96.76L279.6 96.93L280.1 97.05L280.6 97.23L281.1 97.50L281.6 97.73L282.1 97.97L282.6 98.33L283.1 98.63L283.6 98.85L284.1 99.08L284.6 99.30L285.1 99.59L285.6 99.87L286.1 100.04L286.6 100.26L287.1 100.56L287.6 100.91L288.1 101.48L288.6 102.24L289.1 102.80L289.6 103.09L290.1 103.45L290.6 103.94L291.1 104.41L291.6 104.96L292.1 105.74L292.6 106.68L293.1 107.68L293.6 108.64L294.1 109.47L294.6 110.14L295.1 110.77L295.6 111.57L296.1 112.65L296.6 113.89L297.1 115.17L297.6 116.60L298.1 118.34L298.6 120.35L299.1 122.24L299.6 124.00L300.1 126.07L300.6 128.80L301.1 132.42L301.6 137.34L302.1 142.32L302.6 144.76L303.1 145.17L303.6 145.37L304.1 145.64L304.6 145.82L305.1 145.74L305.6 145.40L306.1 144.96L306.6 144.62L307.1 144.45L307.6 144.36L308.1 144.28L308.6 144.22L309.1 144.25L309.6 144.39L310.1 144.56L310.6 144.63L311.1 144.56L311.6 144.38L312.1 144.18L312.6 144.05L313.1 144.06L313.6 144.19L314.1 144.34L314.6 144.47L315.1 144.58L315.6 144.60L316.1 144.51L316.6 144.36L317.1 144.28L317.6 144.34L318.1 144.52L318.6 144.72L319.1 144.89L319.6 145.03L320.1 145.10L320.6 145.09L321.1 145.03L321.6 144.95L322.1 144.88L322.6 144.85L323.1 144.85L323.6 144.85L324.1 144.86L324.6 144.92L325.1 144.97L325.6 144.93L326.1 144.72L326.6 144.36L327.1 144.00L327.6 143.82L328.1 143.88L328.6 144.10L329.1 144.34L329.6 144.50L330.1 144.60L330.6 144.68L331.1 144.77L331.6 144.87L332.1 144.94L332.6 144.98L333.1 144.99L333.6 144.98L334.1 144.96L334.6 144.90L335.1 144.79L335.6 144.68L336.1 144.58L336.6 144.54L337.1 144.55L337.6 144.62L338.1 144.73L338.6 144.88L339.1 145.02L339.6 145.10L340.1 145.06L340.6 144.94L341.1 144.76L341.6 144.60L342.1 144.50L342.6 144.45L343.1 144.41L343.6 144.46L344.1 144.64L344.6 144.89L345.1 145.10L345.6 145.16L346.1 145.01L346.6 144.70L347.1 144.32M203.1 145.12L203.6 144.86L204.1 144.63L204.6 144.50L205.1 144.52L205.6 144.69L206.1 144.91L206.6 145.04L207.1 145.06L207.6 145.03L208.1 144.99L208.6 144.92L209.1 144.83L209.6 144.74L210.1 144.66L210.6 144.54L211.1 144.32L211.6 144.07L212.1 143.92L212.6 143.96L213.1 144.11L213.6 144.24L214.1 144.31L214.6 144.33L215.1 144.31L215.6 144.26L216.1 144.23L216.6 144.27L217.1 144.33L217.6 144.31L218.1 144.22L218.6 144.16L219.1 144.20L219.6 144.32L220.1 144.51L220.6 144.69L221.1 144.82L221.6 144.90L222.1 144.97L222.6 144.99L223.1 144.92L223.6 144.82L224.1 144.75L224.6 144.77L225.1 144.88L225.6 145.03L226.1 145.20L226.6 145.34L227.1 145.39L227.6 145.34L228.1 145.17L228.6 144.97L229.1 144.84L229.6 144.87L230.1 144.99L230.6 145.16L231.1 145.32L231.6 145.41L232.1 145.36L232.6 145.18L233.1 144.96L233.6 144.76L234.1 144.63L234.6 144.60L235.1 144.70L235.6 144.87L236.1 145.00L236.6 144.99L237.1 144.81L237.6 144.57L238.1 144.42L238.6 144.42L239.1 144.58L239.6 144.82L240.1 145.03L240.6 145.11L241.1 145.07L241.6 145.00L242.1 145.00L242.6 145.05L243.1 145.08L243.6 145.05L244.1 145.00L244.6 144.93L245.1 144.88L245.6 144.84L246.1 144.86L246.6 144.95L247.1 145.07L247.6 145.16L248.1 145.19L248.6 145.20L249.1 145.18L249.6 145.09L250.1 144.91L250.6 144.67L251.1 144.19L251.6 142.83L252.1 139.17L252.6 134.82L253.1 131.39L253.6 128.67L254.1 126.33L254.6 124.37L255.1 122.57L255.6 120.82L256.1 119.11L256.6 117.57L257.1 116.45L257.6 115.67L258.1 114.93L258.6 114.15L259.1 113.54L259.6 113.14L260.1 112.69L260.6 112.00L261.1 111.11L261.6 110.17L262.1 109.42L262.6 108.89L263.1 108.48L263.6 108.22L264.1 107.95L264.6 107.48L265.1 107.12L265.6 107.13L266.1 107.17L266.6 106.92L267.1 106.43L267.6 105.84L268.1 105.38L268.6 105.27L269.1 105.44L269.6 105.55L270.1 105.44L270.6 105.22L271.1 105.01L271.6 105.00L272.1 105.14L272.6 105.09L273.1 104.76L273.6 104.47L274.1 104.57L274.6 104.97L275.1 105.28L275.6 105.13L276.1 104.69L276.6 104.33L277.1 104.24L277.6 104.47L278.1 104.82L278.6 105.03L279.1 105.03L279.6 105.01L280.1 105.12L280.6 105.17L281.1 105.00L281.6 104.93L282.1 105.15L282.6 105.50L283.1 105.94L283.6 106.39L284.1 106.75L284.6 107.14L285.1 107.67L285.6 108.25L286.1 108.56L286.6 108.58L287.1 108.69L287.6 109.14L288.1 109.83L288.6 110.44L289.1 110.88L289.6 111.29L290.1 111.72L290.6 112.38L291.1 113.53L291.6 114.92L292.1 116.02L292.6 116.87L293.1 117.78L293.6 118.82L294.1 120.13L294.6 121.93L295.1 123.92L295.6 125.74L296.1 127.71L296.6 130.18L297.1 133.55L297.6 138.29L298.1 142.93L298.6 144.62L299.1 145.05L299.6 145.20L300.1 145.30L300.6 145.36L301.1 145.33L301.6 145.21L302.1 145.04L302.6 144.93L303.1 144.94L303.6 145.09L304.1 145.25L304.6 145.33L305.1 145.25L305.6 145.06L306.1 144.83L306.6 144.64L307.1 144.53L307.6 144.44L308.1 144.36L308.6 144.27L309.1 144.22L309.6 144.27L310.1 144.41L310.6 144.55L311.1 144.58L311.6 144.49L312.1 144.33L312.6 144.16L313.1 144.07L313.6 144.12L314.1 144.30L314.6 144.49L315.1 144.61L315.6 144.62L316.1 144.53L316.6 144.40L317.1 144.32L317.6 144.37L318.1 144.55L318.6 144.75L319.1 144.90L319.6 144.96L320.1 144.94L320.6 144.87L321.1 144.77L321.6 144.67L322.1 144.56L322.6 144.48L323.1 144.49L323.6 144.59L324.1 144.72L324.6 144.81L325.1 144.78L325.6 144.60L326.1 144.26L326.6 143.87L327.1 143.57L327.6 143.50L328.1 143.69L328.6 144.04L329.1 144.38L329.6 144.60L330.1 144.73L330.6 144.83L331.1 144.93L331.6 145.00L332.1 145.02L332.6 145.03L333.1 145.06L333.6 145.10L334.1 145.10L334.6 145.03L335.1 144.90L335.6 144.75L336.1 144.66L336.6 144.64L337.1 144.67L337.6 144.72L338.1 144.82L338.6 144.98L339.1 145.15L339.6 145.25L340.1 145.24L340.6 145.12L341.1 144.92L341.6 144.70L342.1 144.56L342.6 144.52L343.1 144.56L343.6 144.63L344.1 144.74L344.6 144.88L345.1 145.05L345.6 145.18L346.1 145.23L346.6 145.15L347.1 144.97M203.1 144.61L203.6 144.65L204.1 144.59L204.6 144.48L205.1 144.43L205.6 144.46L206.1 144.55L206.6 144.65L207.1 144.70L207.6 144.70L208.1 144.70L208.6 144.72L209.1 144.72L209.6 144.68L210.1 144.56L210.6 144.35L211.1 144.08L211.6 143.89L212.1 143.83L212.6 143.87L213.1 143.97L213.6 144.10L214.1 144.25L214.6 144.36L215.1 144.39L215.6 144.35L216.1 144.30L216.6 144.28L217.1 144.28L217.6 144.26L218.1 144.28L218.6 144.41L219.1 144.64L219.6 144.85L220.1 144.92L220.6 144.87L221.1 144.81L221.6 144.75L222.1 144.69L222.6 144.65L223.1 144.65L223.6 144.71L224.1 144.79L224.6 144.83L225.1 144.80L225.6 144.75L226.1 144.77L226.6 144.89L227.1 145.07L227.6 145.18L228.1 145.15L228.6 145.04L229.1 144.94L229.6 144.92L230.1 145.00L230.6 145.15L231.1 145.29L231.6 145.32L232.1 145.23L232.6 145.10L233.1 144.96L233.6 144.77L234.1 144.60L234.6 144.55L235.1 144.65L235.6 144.80L236.1 144.89L236.6 144.88L237.1 144.81L237.6 144.69L238.1 144.58L238.6 144.55L239.1 144.66L239.6 144.85L240.1 144.98L240.6 144.96L241.1 144.86L241.6 144.76L242.1 144.71L242.6 144.69L243.1 144.67L243.6 144.66L244.1 144.67L244.6 144.67L245.1 144.64L245.6 144.61L246.1 144.64L246.6 144.73L247.1 144.84L247.6 144.98L248.1 145.12L248.6 145.20L249.1 145.16L249.6 145.03L250.1 144.84L250.6 144.64L251.1 144.39L251.6 144.12L252.1 143.91L252.6 143.89L253.1 144.11L253.6 144.44L254.1 144.70L254.6 144.79L255.1 144.57L255.6 142.72L256.1 137.98L256.6 133.72L257.1 130.96L257.6 129.02L258.1 127.33L258.6 125.65L259.1 124.08L259.6 122.72L260.1 121.56L260.6 120.64L261.1 119.78L261.6 118.74L262.1 117.71L262.6 116.81L263.1 116.03L263.6 115.54L264.1 115.31L264.6 114.98L265.1 114.52L265.6 114.08L266.1 113.77L266.6 113.79L267.1 114.17L267.6 114.46L268.1 114.22L268.6 113.58L269.1 112.97L269.6 112.69L270.1 112.72L270.6 112.86L271.1 112.89L271.6 112.79L272.1 112.58L272.6 112.35L273.1 112.23L273.6 112.20L274.1 112.11L274.6 112.09L275.1 112.26L275.6 112.58L276.1 112.95L276.6 113.20L277.1 113.23L277.6 113.17L278.1 113.10L278.6 112.94L279.1 112.77L279.6 112.73L280.1 112.77L280.6 112.95L281.1 113.35L281.6 113.84L282.1 114.23L282.6 114.35L283.1 114.50L283.6 115.16L284.1 116.10L284.6 116.75L285.1 116.97L285.6 116.92L286.1 117.05L286.6 117.73L287.1 118.79L287.6 119.73L288.1 120.46L288.6 121.25L289.1 122.20L289.6 123.46L290.1 125.32L290.6 127.60L291.1 129.81L291.6 132.03L292.1 134.78L292.6 138.48L293.1 142.14L293.6 144.39L294.1 144.84L294.6 144.97L295.1 145.03L295.6 145.02L296.1 144.99L296.6 144.97L297.1 144.94L297.6 144.89L298.1 144.90L298.6 145.01L299.1 145.15L299.6 145.27L300.1 145.32L300.6 145.32L301.1 145.28L301.6 145.19L302.1 145.07L302.6 145.04L303.1 145.11L303.6 145.27L304.1 145.45L304.6 145.56L305.1 145.53L305.6 145.31L306.1 144.96L306.6 144.64L307.1 144.48L307.6 144.47L308.1 144.49L308.6 144.43L309.1 144.31L309.6 144.25L310.1 144.27L310.6 144.33L311.1 144.34L311.6 144.29L312.1 144.19L312.6 144.11L313.1 144.12L313.6 144.25L314.1 144.47L314.6 144.66L315.1 144.75L315.6 144.72L316.1 144.65L316.6 144.60L317.1 144.60L317.6 144.64L318.1 144.68L318.6 144.71L319.1 144.74L319.6 144.77L320.1 144.84L320.6 144.91L321.1 144.91L321.6 144.85L322.1 144.79L322.6 144.79L323.1 144.86L323.6 144.98L324.1 145.06L324.6 145.04L325.1 144.93L325.6 144.73L326.1 144.41L326.6 144.04L327.1 143.76L327.6 143.70L328.1 143.90L328.6 144.23L329.1 144.51L329.6 144.64L330.1 144.68L330.6 144.77L331.1 144.93L331.6 145.08L332.1 145.16L332.6 145.17L333.1 145.17L333.6 145.17L334.1 145.12L334.6 145.01L335.1 144.91L335.6 144.87L336.1 144.86L336.6 144.82L337.1 144.78L337.6 144.77L338.1 144.82L338.6 144.87L339.1 144.92L339.6 144.96L340.1 144.95L340.6 144.86L341.1 144.74L341.6 144.64L342.1 144.60L342.6 144.61L343.1 144.67L343.6 144.75L344.1 144.87L344.6 145.03L345.1 145.16L345.6 145.17L346.1 145.07L346.6 144.92L347.1 144.74M203.1 144.77L203.6 144.67L204.1 144.60L204.6 144.61L205.1 144.69L205.6 144.79L206.1 144.83L206.6 144.83L207.1 144.84L207.6 144.90L208.1 144.95L208.6 144.92L209.1 144.83L209.6 144.74L210.1 144.65L210.6 144.53L211.1 144.35L211.6 144.17L212.1 144.05L212.6 144.03L213.1 144.12L213.6 144.27L214.1 144.40L214.6 144.44L215.1 144.36L215.6 144.22L216.1 144.13L216.6 144.16L217.1 144.25L217.6 144.31L218.1 144.28L218.6 144.20L219.1 144.17L219.6 144.26L220.1 144.43L220.6 144.61L221.1 144.74L221.6 144.82L222.1 144.80L222.6 144.72L223.1 144.64L223.6 144.59L224.1 144.61L224.6 144.70L225.1 144.80L225.6 144.90L226.1 145.04L226.6 145.14L227.1 145.12L227.6 145.02L228.1 144.92L228.6 144.86L229.1 144.85L229.6 144.89L230.1 144.96L230.6 145.02L231.1 145.04L231.6 145.02L232.1 144.99L232.6 144.94L233.1 144.86L233.6 144.73L234.1 144.63L234.6 144.64L235.1 144.76L235.6 144.90L236.1 144.96L236.6 144.88L237.1 144.71L237.6 144.52L238.1 144.43L238.6 144.47L239.1 144.65L239.6 144.91L240.1 145.12L240.6 145.19L241.1 145.16L241.6 145.12L242.1 145.11L242.6 145.07L243.1 145.02L243.6 144.97L244.1 144.91L244.6 144.83L245.1 144.79L245.6 144.81L246.1 144.89L246.6 145.00L247.1 145.09L247.6 145.14L248.1 145.13L248.6 145.11L249.1 145.14L249.6 145.21L250.1 145.20L250.6 145.04L251.1 144.73L251.6 144.41L252.1 144.19L252.6 144.16L253.1 144.33L253.6 144.61L254.1 144.86L254.6 144.98L255.1 144.97L255.6 144.89L256.1 144.86L256.6 144.90L257.1 144.98L257.6 145.01L258.1 144.95L258.6 144.78L259.1 144.61L259.6 144.47L260.1 144.41L260.6 144.44L261.1 144.52L261.6 144.52L262.1 143.70L262.6 139.39L263.1 135.49L263.6 132.98L264.1 131.28L264.6 129.84L265.1 128.41L265.6 127.18L266.1 126.29L266.6 125.63L267.1 125.18L267.6 124.81L268.1 124.24L268.6 123.63L269.1 123.31L269.6 123.25L270.1 123.20L270.6 123.08L271.1 122.86L271.6 122.38L272.1 121.75L272.6 121.37L273.1 121.45L273.6 121.84L274.1 122.11L274.6 121.97L275.1 121.69L275.6 121.66L276.1 121.76L276.6 121.73L277.1 121.63L277.6 121.53L278.1 121.61L278.6 121.94L279.1 122.24L279.6 122.25L280.1 122.13L280.6 122.23L281.1 122.67L281.6 123.30L282.1 124.02L282.6 124.86L283.1 125.67L283.6 126.19L284.1 126.62L284.6 127.50L285.1 128.83L285.6 130.38L286.1 132.11L286.6 134.01L287.1 136.44L287.6 139.94L288.1 143.23L288.6 144.58L289.1 144.71L289.6 144.65L290.1 144.54L290.6 144.50L291.1 144.58L291.6 144.73L292.1 144.84L292.6 144.88L293.1 144.90L293.6 144.92L294.1 144.93L294.6 144.91L295.1 144.87L295.6 144.86L296.1 144.88L296.6 144.92L297.1 144.96L297.6 145.01L298.1 145.05L298.6 145.08L299.1 145.13L299.6 145.23L300.1 145.34L300.6 145.41L301.1 145.41L301.6 145.34L302.1 145.23L302.6 145.15L303.1 145.16L303.6 145.28L304.1 145.45L304.6 145.62L305.1 145.67L305.6 145.48L306.1 145.11L306.6 144.74L307.1 144.54L307.6 144.45L308.1 144.36L308.6 144.27L309.1 144.26L309.6 144.37L310.1 144.52L310.6 144.59L311.1 144.55L311.6 144.42L312.1 144.29L312.6 144.21L313.1 144.19L313.6 144.24L314.1 144.34L314.6 144.48L315.1 144.59L315.6 144.57L316.1 144.41L316.6 144.23L317.1 144.15L317.6 144.23L318.1 144.41L318.6 144.60L319.1 144.76L319.6 144.90L320.1 145.01L320.6 145.01L321.1 144.89L321.6 144.71L322.1 144.56L322.6 144.47L323.1 144.50L323.6 144.63L324.1 144.78L324.6 144.88L325.1 144.85L325.6 144.67L326.1 144.31L326.6 143.88L327.1 143.56L327.6 143.47L328.1 143.63L328.6 143.94L329.1 144.26L329.6 144.51L330.1 144.63L330.6 144.68L331.1 144.74L331.6 144.83L332.1 144.94L332.6 145.04L333.1 145.11L333.6 145.12L334.1 145.04L334.6 144.87L335.1 144.70L335.6 144.60L336.1 144.59L336.6 144.58L337.1 144.57L337.6 144.58L338.1 144.67L338.6 144.85L339.1 145.05L339.6 145.17L340.1 145.15L340.6 145.01L341.1 144.82L341.6 144.65L342.1 144.58L342.6 144.65L343.1 144.77L343.6 144.88L344.1 144.97L344.6 145.09L345.1 145.22L345.6 145.26L346.1 145.12L346.6 144.78L347.1 144.35M203.1 145.23L203.6 144.97L204.1 144.69L204.6 144.50L205.1 144.42L205.6 144.49L206.1 144.67L206.6 144.85L207.1 144.90L207.6 144.87L208.1 144.82L208.6 144.77L209.1 144.69L209.6 144.55L210.1 144.39L210.6 144.26L211.1 144.17L211.6 144.13L212.1 144.12L212.6 144.13L213.1 144.16L213.6 144.20L214.1 144.23L214.6 144.23L215.1 144.18L215.6 144.14L216.1 144.19L216.6 144.31L217.1 144.40L217.6 144.36L218.1 144.25L218.6 144.19L219.1 144.29L219.6 144.53L220.1 144.78L220.6 144.90L221.1 144.89L221.6 144.82L222.1 144.74L222.6 144.67L223.1 144.64L223.6 144.66L224.1 144.71L224.6 144.73L225.1 144.73L225.6 144.75L226.1 144.82L226.6 144.93L227.1 145.02L227.6 145.03L228.1 144.96L228.6 144.85L229.1 144.81L229.6 144.90L230.1 145.09L230.6 145.27L231.1 145.38L231.6 145.41L232.1 145.31L232.6 145.15L233.1 144.98L233.6 144.84L234.1 144.72L234.6 144.67L235.1 144.71L235.6 144.80L236.1 144.81L236.6 144.71L237.1 144.54L237.6 144.37L238.1 144.28L238.6 144.30L239.1 144.47L239.6 144.68L240.1 144.81L240.6 144.82L241.1 144.75L241.6 144.69L242.1 144.69L242.6 144.75L243.1 144.81L243.6 144.84L244.1 144.84L244.6 144.83L245.1 144.78L245.6 144.72L246.1 144.70L246.6 144.78L247.1 144.92L247.6 145.04L248.1 145.10L248.6 145.15L249.1 145.17L249.6 145.11L250.1 144.96L250.6 144.77L251.1 144.58L251.6 144.39L252.1 144.20L252.6 144.10L253.1 144.20L253.6 144.54L254.1 144.91L254.6 145.08L255.1 145.01L255.6 144.86L256.1 144.77L256.6 144.75L257.1 144.78L257.6 144.89L258.1 144.99L258.6 144.99L259.1 144.90L259.6 144.78L260.1 144.70L260.6 144.64L261.1 144.66L261.6 144.81L262.1 145.06L262.6 145.38L263.1 145.80L263.6 146.58L264.1 146.62L264.6 143.69L265.1 140.69L265.6 137.96L266.1 135.95L266.6 134.50L267.1 133.53L267.6 133.02L268.1 132.75L268.6 132.51L269.1 132.28L269.6 132.20L270.1 132.30L270.6 132.40L271.1 132.38L271.6 132.30L272.1 132.23L272.6 132.19L273.1 132.13L273.6 132.04L274.1 132.03L274.6 132.15L275.1 132.22L275.6 132.04L276.1 131.77L276.6 131.66L277.1 131.64L277.6 131.55L278.1 131.40L278.6 131.41L279.1 131.66L279.6 132.07L280.1 132.64L280.6 133.37L281.1 134.16L281.6 134.92L282.1 135.73L282.6 137.02L283.1 139.18L283.6 142.50L284.1 146.07L284.6 146.66L285.1 146.06L285.6 145.39L286.1 144.92L286.6 144.76L287.1 144.74L287.6 144.72L288.1 144.66L288.6 144.61L289.1 144.57L289.6 144.51L290.1 144.49L290.6 144.56L291.1 144.70L291.6 144.80L292.1 144.77L292.6 144.67L293.1 144.57L293.6 144.50L294.1 144.52L294.6 144.63L295.1 144.80L295.6 144.97L296.1 145.07L296.6 145.06L297.1 144.95L297.6 144.86L298.1 144.91L298.6 145.09L299.1 145.26L299.6 145.32L300.1 145.25L300.6 145.15L301.1 145.13L301.6 145.14L302.1 145.15L302.6 145.16L303.1 145.22L303.6 145.33L304.1 145.43L304.6 145.48L305.1 145.39L305.6 145.16L306.1 144.84L306.6 144.56L307.1 144.42L307.6 144.39L308.1 144.39L308.6 144.36L309.1 144.34L309.6 144.39L310.1 144.50L310.6 144.58L311.1 144.57L311.6 144.49L312.1 144.36L312.6 144.23L313.1 144.18L313.6 144.26L314.1 144.40L314.6 144.52L315.1 144.57L315.6 144.54L316.1 144.44L316.6 144.35L317.1 144.37L317.6 144.48L318.1 144.63L318.6 144.81L319.1 144.99L319.6 145.13L320.1 145.20L320.6 145.19L321.1 145.11L321.6 144.98L322.1 144.85L322.6 144.81L323.1 144.87L323.6 144.99L324.1 145.08L324.6 145.09L325.1 145.00L325.6 144.79L326.1 144.44L326.6 144.02L327.1 143.66L327.6 143.50L328.1 143.63L328.6 143.96L329.1 144.32L329.6 144.58L330.1 144.71L330.6 144.80L331.1 144.89L331.6 144.96L332.1 145.00L332.6 145.05L333.1 145.16L333.6 145.26L334.1 145.26L334.6 145.15L335.1 144.96L335.6 144.79L336.1 144.72L336.6 144.73L337.1 144.76L337.6 144.83L338.1 144.97L338.6 145.16L339.1 145.31L339.6 145.32L340.1 145.13L340.6 144.84L341.1 144.59L341.6 144.46L342.1 144.43L342.6 144.43L343.1 144.46L343.6 144.55L344.1 144.74L344.6 144.99L345.1 145.21L345.6 145.31L346.1 145.27L346.6 145.12L347.1 144.91" stroke="#0a0a0a" stroke-width="1.05" fill="none" stroke-linejoin="round"/>
<path d="M203.1 291.02L203.6 290.87L204.1 290.73L204.6 290.67L205.1 290.68L205.6 290.68L206.1 290.62L206.6 290.53L207.1 290.40L207.6 290.29L208.1 290.23L208.6 290.24L209.1 290.31L209.6 290.41L210.1 290.42L210.6 289.80L211.1 287.47L211.6 282.73L212.1 276.46L212.6 270.28L213.1 265.03L213.6 260.72L214.1 257.11L214.6 253.97L215.1 251.14L215.6 248.45L216.1 245.78L216.6 243.07L217.1 240.46L217.6 238.20L218.1 236.46L218.6 234.97L219.1 233.27L219.6 231.26L220.1 229.30L220.6 227.60L221.1 226.01L221.6 224.37L222.1 222.75L222.6 221.35L223.1 220.23L223.6 219.24L224.1 218.11L224.6 216.79L225.1 215.51L225.6 214.38L226.1 213.28L226.6 212.09L227.1 210.92L227.6 209.83L228.1 208.73L228.6 207.60L229.1 206.63L229.6 205.89L230.1 205.21L230.6 204.38L231.1 203.36L231.6 202.26L232.1 201.23L232.6 200.34L233.1 199.61L233.6 199.04L234.1 198.53L234.6 197.94L235.1 197.28L235.6 196.69L236.1 196.25L236.6 195.82L237.1 195.28L237.6 194.67L238.1 194.08L238.6 193.58L239.1 193.21L239.6 192.95L240.1 192.70L240.6 192.31L241.1 191.73L241.6 190.99L242.1 190.24L242.6 189.66L243.1 189.28L243.6 188.96L244.1 188.55L244.6 188.02L245.1 187.54L245.6 187.28L246.1 187.19L246.6 187.06L247.1 186.81L247.6 186.47L248.1 186.04L248.6 185.53L249.1 185.11L249.6 184.90L250.1 184.76L250.6 184.47L251.1 184.05L251.6 183.74L252.1 183.67L252.6 183.64L253.1 183.49L253.6 183.25L254.1 183.00L254.6 182.80L255.1 182.65L255.6 182.49L256.1 182.28L256.6 182.12L257.1 182.05L257.6 182.01L258.1 181.94L258.6 181.81L259.1 181.62L259.6 181.47L260.1 181.50L260.6 181.70L261.1 181.86L261.6 181.83L262.1 181.70L262.6 181.60L263.1 181.54L263.6 181.49L264.1 181.50L264.6 181.50L265.1 181.37L265.6 181.13L266.1 180.95L266.6 180.91L267.1 180.96L267.6 180.99L268.1 180.85L268.6 180.61L269.1 180.43L269.6 180.38L270.1 180.43L270.6 180.56L271.1 180.71L271.6 180.87L272.1 181.02L272.6 181.07L273.1 181.01L273.6 180.90L274.1 180.76L274.6 180.53L275.1 180.33L275.6 180.36L276.1 180.57L276.6 180.74L277.1 180.74L277.6 180.59L278.1 180.39L278.6 180.27L279.1 180.35L279.6 180.57L280.1 180.76L280.6 180.75L281.1 180.55L281.6 180.38L282.1 180.40L282.6 180.54L283.1 180.72L283.6 180.91L284.1 180.99L284.6 180.83L285.1 180.48L285.6 180.14L286.1 180.01L286.6 180.12L287.1 180.37L287.6 180.61L288.1 180.82L288.6 180.95L289.1 180.93L289.6 180.77L290.1 180.65L290.6 180.78L291.1 181.12L291.6 181.42L292.1 181.52L292.6 181.52L293.1 181.58L293.6 181.67L294.1 181.63L294.6 181.49L295.1 181.47L295.6 181.72L296.1 182.07L296.6 182.27L297.1 182.26L297.6 182.18L298.1 182.23L298.6 182.48L299.1 182.74L299.6 182.93L300.1 183.10L300.6 183.29L301.1 183.46L301.6 183.53L302.1 183.52L302.6 183.56L303.1 183.80L303.6 184.17L304.1 184.60L304.6 185.04L305.1 185.51L305.6 185.92L306.1 186.17L306.6 186.23L307.1 186.32L307.6 186.62L308.1 187.05L308.6 187.42L309.1 187.78L309.6 188.23L310.1 188.75L310.6 189.18L311.1 189.47L311.6 189.71L312.1 190.00L312.6 190.31L313.1 190.61L313.6 190.97L314.1 191.59L314.6 192.50L315.1 193.56L315.6 194.48L316.1 195.07L316.6 195.41L317.1 195.74L317.6 196.17L318.1 196.66L318.6 197.14L319.1 197.71L319.6 198.50L320.1 199.51L320.6 200.58L321.1 201.59L321.6 202.43L322.1 202.97L322.6 203.27L323.1 203.64L323.6 204.29L324.1 205.18L324.6 206.25L325.1 207.43L325.6 208.62L326.1 209.68L326.6 210.61L327.1 211.54L327.6 212.57L328.1 213.70L328.6 214.85L329.1 215.99L329.6 217.15L330.1 218.48L330.6 219.97L331.1 221.41L331.6 222.68L332.1 223.91L332.6 225.20L333.1 226.50L333.6 228.00L334.1 229.92L334.6 232.13L335.1 234.33L335.6 236.36L336.1 238.19L336.6 239.93L337.1 241.88L337.6 244.30L338.1 247.08L338.6 250.00L339.1 253.01L339.6 256.35L340.1 260.03L340.6 264.07L341.1 268.50L341.6 273.11L342.1 277.49L342.6 281.33L343.1 284.47L343.6 286.87L344.1 288.55L344.6 289.57L345.1 290.02L345.6 290.10L346.1 290.01L346.6 289.84L347.1 289.61M203.1 290.86L203.6 290.76L204.1 290.63L204.6 290.54L205.1 290.51L205.6 290.50L206.1 290.48L206.6 290.43L207.1 290.35L207.6 290.21L208.1 290.09L208.6 290.11L209.1 290.26L209.6 290.45L210.1 290.60L210.6 290.67L211.1 290.64L211.6 290.57L212.1 290.51L212.6 290.53L213.1 290.66L213.6 290.80L214.1 290.84L214.6 290.80L215.1 290.77L215.6 290.80L216.1 290.86L216.6 290.83L217.1 290.65L217.6 290.41L218.1 290.18L218.6 289.87L219.1 288.75L219.6 285.57L220.1 279.99L220.6 273.51L221.1 267.74L221.6 263.03L222.1 259.06L222.6 255.60L223.1 252.51L223.6 249.64L224.1 246.87L224.6 244.20L225.1 241.72L225.6 239.44L226.1 237.36L226.6 235.48L227.1 233.77L227.6 232.01L228.1 230.04L228.6 227.95L229.1 226.07L229.6 224.57L230.1 223.30L230.6 222.04L231.1 220.73L231.6 219.47L232.1 218.26L232.6 217.07L233.1 215.86L233.6 214.57L234.1 213.25L234.6 211.97L235.1 210.72L235.6 209.50L236.1 208.44L236.6 207.65L237.1 207.03L237.6 206.35L238.1 205.52L238.6 204.63L239.1 203.73L239.6 202.84L240.1 202.03L240.6 201.41L241.1 200.94L241.6 200.45L242.1 199.94L242.6 199.52L243.1 199.16L243.6 198.71L244.1 198.20L244.6 197.75L245.1 197.30L245.6 196.67L246.1 195.91L246.6 195.22L247.1 194.68L247.6 194.23L248.1 193.90L248.6 193.77L249.1 193.71L249.6 193.47L250.1 192.97L250.6 192.32L251.1 191.74L251.6 191.35L252.1 191.11L252.6 190.91L253.1 190.73L253.6 190.63L254.1 190.65L254.6 190.70L255.1 190.58L255.6 190.12L256.1 189.38L256.6 188.71L257.1 188.31L257.6 188.16L258.1 188.08L258.6 187.96L259.1 187.89L259.6 187.91L260.1 187.94L260.6 187.92L261.1 187.90L261.6 187.93L262.1 187.91L262.6 187.79L263.1 187.56L263.6 187.31L264.1 187.19L264.6 187.22L265.1 187.28L265.6 187.24L266.1 187.13L266.6 187.04L267.1 186.99L267.6 186.92L268.1 186.73L268.6 186.48L269.1 186.34L269.6 186.35L270.1 186.42L270.6 186.45L271.1 186.41L271.6 186.34L272.1 186.28L272.6 186.19L273.1 186.07L273.6 185.92L274.1 185.76L274.6 185.75L275.1 185.99L275.6 186.39L276.1 186.76L276.6 187.06L277.1 187.33L277.6 187.51L278.1 187.51L278.6 187.33L279.1 187.10L279.6 186.96L280.1 186.96L280.6 186.94L281.1 186.79L281.6 186.58L282.1 186.49L282.6 186.55L283.1 186.60L283.6 186.65L284.1 186.78L284.6 186.97L285.1 187.11L285.6 187.12L286.1 187.00L286.6 186.91L287.1 187.02L287.6 187.30L288.1 187.48L288.6 187.44L289.1 187.35L289.6 187.50L290.1 187.86L290.6 188.13L291.1 188.11L291.6 187.89L292.1 187.73L292.6 187.79L293.1 188.03L293.6 188.36L294.1 188.68L294.6 188.82L295.1 188.71L295.6 188.60L296.1 188.71L296.6 188.96L297.1 189.24L297.6 189.59L298.1 190.02L298.6 190.43L299.1 190.70L299.6 190.87L300.1 191.05L300.6 191.33L301.1 191.70L301.6 192.08L302.1 192.40L302.6 192.67L303.1 193.00L303.6 193.46L304.1 193.99L304.6 194.51L305.1 195.01L305.6 195.46L306.1 195.81L306.6 196.08L307.1 196.36L307.6 196.70L308.1 197.06L308.6 197.48L309.1 198.01L309.6 198.61L310.1 199.22L310.6 199.90L311.1 200.76L311.6 201.75L312.1 202.64L312.6 203.25L313.1 203.66L313.6 204.12L314.1 204.77L314.6 205.57L315.1 206.48L315.6 207.47L316.1 208.54L316.6 209.71L317.1 210.91L317.6 212.00L318.1 212.89L318.6 213.72L319.1 214.62L319.6 215.62L320.1 216.72L320.6 217.97L321.1 219.40L321.6 220.86L322.1 222.23L322.6 223.59L323.1 225.12L323.6 226.79L324.1 228.43L324.6 229.99L325.1 231.65L325.6 233.50L326.1 235.55L326.6 237.81L327.1 240.16L327.6 242.47L328.1 244.78L328.6 247.31L329.1 250.24L329.6 253.66L330.1 257.52L330.6 261.57L331.1 265.72L331.6 270.01L332.1 274.41L332.6 278.62L333.1 282.29L333.6 285.17L334.1 287.23L334.6 288.59L335.1 289.35L335.6 289.73L336.1 289.96L336.6 290.26L337.1 290.65L337.6 291.05L338.1 291.31L338.6 291.36L339.1 291.25L339.6 291.08L340.1 290.91L340.6 290.78L341.1 290.71L341.6 290.71L342.1 290.75L342.6 290.74L343.1 290.67L343.6 290.59L344.1 290.59L344.6 290.65L345.1 290.62L345.6 290.43L346.1 290.14L346.6 289.84L347.1 289.56M203.1 290.93L203.6 290.68L204.1 290.43L204.6 290.29L205.1 290.34L205.6 290.48L206.1 290.61L206.6 290.63L207.1 290.55L207.6 290.48L208.1 290.41L208.6 290.34L209.1 290.30L209.6 290.34L210.1 290.45L210.6 290.59L211.1 290.72L211.6 290.78L212.1 290.76L212.6 290.74L213.1 290.80L213.6 290.87L214.1 290.87L214.6 290.83L215.1 290.88L215.6 291.04L216.1 291.17L216.6 291.17L217.1 291.01L217.6 290.75L218.1 290.51L218.6 290.43L219.1 290.49L219.6 290.61L220.1 290.69L220.6 290.72L221.1 290.73L221.6 290.77L222.1 290.88L222.6 290.97L223.1 290.98L223.6 290.94L224.1 290.87L224.6 290.74L225.1 290.57L225.6 290.41L226.1 290.09L226.6 288.81L227.1 285.37L227.6 279.68L228.1 273.25L228.6 267.43L229.1 262.53L229.6 258.36L230.1 254.71L230.6 251.40L231.1 248.36L231.6 245.55L232.1 242.92L232.6 240.46L233.1 238.20L233.6 236.12L234.1 234.12L234.6 232.15L235.1 230.23L235.6 228.46L236.1 226.90L236.6 225.46L237.1 224.04L237.6 222.58L238.1 221.12L238.6 219.71L239.1 218.43L239.6 217.28L240.1 216.26L240.6 215.40L241.1 214.63L241.6 213.80L242.1 212.78L242.6 211.58L243.1 210.44L243.6 209.58L244.1 208.93L244.6 208.23L245.1 207.34L245.6 206.41L246.1 205.57L246.6 204.75L247.1 203.83L247.6 202.88L248.1 202.17L248.6 201.79L249.1 201.45L249.6 200.87L250.1 200.17L250.6 199.68L251.1 199.46L251.6 199.28L252.1 198.91L252.6 198.42L253.1 197.98L253.6 197.61L254.1 197.24L254.6 196.83L255.1 196.44L255.6 196.16L256.1 195.96L256.6 195.73L257.1 195.35L257.6 194.97L258.1 194.86L258.6 194.96L259.1 194.97L259.6 194.79L260.1 194.56L260.6 194.28L261.1 193.99L261.6 193.81L262.1 193.75L262.6 193.66L263.1 193.49L263.6 193.40L264.1 193.38L264.6 193.20L265.1 192.85L265.6 192.56L266.1 192.50L266.6 192.58L267.1 192.64L267.6 192.56L268.1 192.46L268.6 192.49L269.1 192.69L269.6 192.89L270.1 192.94L270.6 192.82L271.1 192.64L271.6 192.54L272.1 192.52L272.6 192.51L273.1 192.41L273.6 192.29L274.1 192.29L274.6 192.39L275.1 192.53L275.6 192.70L276.1 192.84L276.6 192.98L277.1 193.15L277.6 193.25L278.1 193.23L278.6 193.21L279.1 193.17L279.6 192.95L280.1 192.58L280.6 192.28L281.1 192.13L281.6 192.10L282.1 192.22L282.6 192.47L283.1 192.73L283.6 192.90L284.1 192.93L284.6 192.86L285.1 192.80L285.6 192.81L286.1 192.90L286.6 193.08L287.1 193.31L287.6 193.47L288.1 193.49L288.6 193.38L289.1 193.26L289.6 193.28L290.1 193.53L290.6 193.98L291.1 194.51L291.6 194.98L292.1 195.36L292.6 195.64L293.1 195.69L293.6 195.49L294.1 195.23L294.6 195.19L295.1 195.40L295.6 195.71L296.1 196.00L296.6 196.31L297.1 196.72L297.6 197.15L298.1 197.52L298.6 197.88L299.1 198.32L299.6 198.88L300.1 199.49L300.6 199.96L301.1 200.22L301.6 200.44L302.1 200.86L302.6 201.55L303.1 202.33L303.6 202.98L304.1 203.56L304.6 204.27L305.1 205.08L305.6 205.75L306.1 206.22L306.6 206.76L307.1 207.64L307.6 208.83L308.1 210.08L308.6 211.09L309.1 211.82L309.6 212.49L310.1 213.33L310.6 214.34L311.1 215.46L311.6 216.66L312.1 217.87L312.6 219.12L313.1 220.56L313.6 222.18L314.1 223.77L314.6 225.24L315.1 226.70L315.6 228.15L316.1 229.53L316.6 230.98L317.1 232.69L317.6 234.65L318.1 236.72L318.6 238.79L319.1 240.90L319.6 243.25L320.1 246.01L320.6 249.21L321.1 252.71L321.6 256.46L322.1 260.56L322.6 264.97L323.1 269.52L323.6 274.04L324.1 278.38L324.6 282.28L325.1 285.46L325.6 287.76L326.1 289.22L326.6 290.02L327.1 290.43L327.6 290.64L328.1 290.77L328.6 290.84L329.1 290.83L329.6 290.73L330.1 290.60L330.6 290.44L331.1 290.29L331.6 290.22L332.1 290.27L332.6 290.36L333.1 290.43L333.6 290.47L334.1 290.48L334.6 290.42L335.1 290.32L335.6 290.20L336.1 290.13L336.6 290.19L337.1 290.42L337.6 290.78L338.1 291.10L338.6 291.24L339.1 291.20L339.6 291.06L340.1 290.89L340.6 290.73L341.1 290.61L341.6 290.53L342.1 290.48L342.6 290.44L343.1 290.42L343.6 290.45L344.1 290.49L344.6 290.50L345.1 290.43L345.6 290.28L346.1 290.08L346.6 289.86L347.1 289.65M203.1 290.93L203.6 290.77L204.1 290.67L204.6 290.71L205.1 290.84L205.6 290.95L206.1 290.90L206.6 290.72L207.1 290.49L207.6 290.30L208.1 290.20L208.6 290.22L209.1 290.32L209.6 290.45L210.1 290.59L210.6 290.69L211.1 290.72L211.6 290.65L212.1 290.57L212.6 290.58L213.1 290.68L213.6 290.78L214.1 290.83L214.6 290.85L215.1 290.85L215.6 290.84L216.1 290.85L216.6 290.85L217.1 290.75L217.6 290.56L218.1 290.36L218.6 290.24L219.1 290.25L219.6 290.39L220.1 290.59L220.6 290.75L221.1 290.81L221.6 290.82L222.1 290.82L222.6 290.83L223.1 290.83L223.6 290.78L224.1 290.68L224.6 290.58L225.1 290.50L225.6 290.41L226.1 290.29L226.6 290.21L227.1 290.24L227.6 290.39L228.1 290.56L228.6 290.70L229.1 290.74L229.6 290.72L230.1 290.66L230.6 290.56L231.1 290.41L231.6 290.23L232.1 290.12L232.6 290.19L233.1 290.42L233.6 290.68L234.1 290.83L234.6 290.87L235.1 290.85L235.6 290.81L236.1 290.78L236.6 290.75L237.1 290.71L237.6 290.61L238.1 290.36L238.6 289.52L239.1 287.06L239.6 282.10L240.1 275.44L240.6 268.98L241.1 263.64L241.6 259.19L242.1 255.34L242.6 251.87L243.1 248.62L243.6 245.64L244.1 243.06L244.6 240.79L245.1 238.77L245.6 236.97L246.1 235.25L246.6 233.39L247.1 231.36L247.6 229.34L248.1 227.55L248.6 226.09L249.1 224.86L249.6 223.66L250.1 222.38L250.6 221.09L251.1 219.91L251.6 218.93L252.1 218.13L252.6 217.41L253.1 216.63L253.6 215.69L254.1 214.57L254.6 213.42L255.1 212.52L255.6 211.92L256.1 211.50L256.6 211.11L257.1 210.62L257.6 210.05L258.1 209.50L258.6 208.97L259.1 208.44L259.6 208.02L260.1 207.76L260.6 207.54L261.1 207.22L261.6 206.74L262.1 206.13L262.6 205.47L263.1 204.88L263.6 204.46L264.1 204.30L264.6 204.39L265.1 204.51L265.6 204.49L266.1 204.39L266.6 204.36L267.1 204.42L267.6 204.52L268.1 204.55L268.6 204.39L269.1 204.11L269.6 203.83L270.1 203.60L270.6 203.44L271.1 203.29L271.6 203.08L272.1 202.88L272.6 202.80L273.1 202.80L273.6 202.78L274.1 202.79L274.6 202.94L275.1 203.22L275.6 203.48L276.1 203.53L276.6 203.36L277.1 203.19L277.6 203.17L278.1 203.17L278.6 203.00L279.1 202.72L279.6 202.58L280.1 202.69L280.6 203.00L281.1 203.31L281.6 203.50L282.1 203.52L282.6 203.46L283.1 203.44L283.6 203.54L284.1 203.63L284.6 203.60L285.1 203.53L285.6 203.56L286.1 203.65L286.6 203.69L287.1 203.71L287.6 203.83L288.1 204.16L288.6 204.69L289.1 205.31L289.6 205.82L290.1 206.13L290.6 206.25L291.1 206.41L291.6 206.78L292.1 207.19L292.6 207.34L293.1 207.28L293.6 207.37L294.1 207.74L294.6 208.22L295.1 208.68L295.6 209.09L296.1 209.50L296.6 210.08L297.1 210.96L297.6 212.01L298.1 212.98L298.6 213.76L299.1 214.33L299.6 214.82L300.1 215.42L300.6 216.31L301.1 217.58L301.6 219.03L302.1 220.38L302.6 221.44L303.1 222.31L303.6 223.33L304.1 224.60L304.6 225.90L305.1 227.16L305.6 228.60L306.1 230.32L306.6 232.11L307.1 233.86L307.6 235.63L308.1 237.56L308.6 239.73L309.1 242.21L309.6 244.92L310.1 247.77L310.6 250.86L311.1 254.45L311.6 258.57L312.1 263.05L312.6 267.82L313.1 272.77L313.6 277.54L314.1 281.68L314.6 284.89L315.1 287.12L315.6 288.50L316.1 289.29L316.6 289.72L317.1 289.97L317.6 290.18L318.1 290.38L318.6 290.56L319.1 290.68L319.6 290.74L320.1 290.73L320.6 290.67L321.1 290.60L321.6 290.52L322.1 290.44L322.6 290.37L323.1 290.34L323.6 290.35L324.1 290.40L324.6 290.48L325.1 290.61L325.6 290.77L326.1 290.85L326.6 290.81L327.1 290.72L327.6 290.72L328.1 290.80L328.6 290.86L329.1 290.84L329.6 290.78L330.1 290.74L330.6 290.70L331.1 290.59L331.6 290.43L332.1 290.35L332.6 290.38L333.1 290.44L333.6 290.42L334.1 290.34L334.6 290.18L335.1 290.00L335.6 289.89L336.1 289.90L336.6 290.05L337.1 290.30L337.6 290.60L338.1 290.87L338.6 291.03L339.1 291.08L339.6 291.05L340.1 290.97L340.6 290.87L341.1 290.77L341.6 290.73L342.1 290.72L342.6 290.70L343.1 290.69L343.6 290.73L344.1 290.80L344.6 290.82L345.1 290.70L345.6 290.44L346.1 290.12L346.6 289.83L347.1 289.62M203.1 291.15L203.6 290.83L204.1 290.57L204.6 290.52L205.1 290.62L205.6 290.75L206.1 290.77L206.6 290.65L207.1 290.46L207.6 290.28L208.1 290.19L208.6 290.21L209.1 290.30L209.6 290.40L210.1 290.48L210.6 290.56L211.1 290.63L211.6 290.66L212.1 290.67L212.6 290.71L213.1 290.84L213.6 290.99L214.1 291.07L214.6 291.08L215.1 291.06L215.6 291.03L216.1 290.99L216.6 290.89L217.1 290.70L217.6 290.46L218.1 290.25L218.6 290.17L219.1 290.25L219.6 290.40L220.1 290.56L220.6 290.71L221.1 290.84L221.6 290.91L222.1 290.89L222.6 290.85L223.1 290.86L223.6 290.86L224.1 290.82L224.6 290.74L225.1 290.65L225.6 290.55L226.1 290.39L226.6 290.17L227.1 289.96L227.6 289.90L228.1 290.06L228.6 290.39L229.1 290.71L229.6 290.91L230.1 290.96L230.6 290.84L231.1 290.58L231.6 290.28L232.1 290.10L232.6 290.17L233.1 290.45L233.6 290.76L234.1 290.95L234.6 290.97L235.1 290.90L235.6 290.79L236.1 290.67L236.6 290.57L237.1 290.47L237.6 290.35L238.1 290.19L238.6 290.05L239.1 289.97L239.6 289.95L240.1 289.99L240.6 290.09L241.1 290.23L241.6 290.42L242.1 290.64L242.6 290.65L243.1 289.57L243.6 285.93L244.1 279.55L244.6 272.41L245.1 266.15L245.6 261.08L246.1 257.04L246.6 253.71L247.1 250.78L247.6 248.03L248.1 245.44L248.6 243.03L249.1 240.72L249.6 238.51L250.1 236.49L250.6 234.61L251.1 232.73L251.6 230.91L252.1 229.30L252.6 227.92L253.1 226.63L253.6 225.40L254.1 224.37L254.6 223.49L255.1 222.54L255.6 221.49L256.1 220.57L256.6 219.93L257.1 219.40L257.6 218.77L258.1 218.12L258.6 217.55L259.1 216.89L259.6 215.99L260.1 215.00L260.6 214.18L261.1 213.55L261.6 213.00L262.1 212.50L262.6 212.13L263.1 211.86L263.6 211.58L264.1 211.17L264.6 210.71L265.1 210.45L265.6 210.45L266.1 210.47L266.6 210.22L267.1 209.70L267.6 209.23L268.1 209.06L268.6 209.08L269.1 209.10L269.6 209.13L270.1 209.31L270.6 209.66L271.1 209.92L271.6 209.88L272.1 209.61L272.6 209.36L273.1 209.25L273.6 209.22L274.1 209.28L274.6 209.43L275.1 209.62L275.6 209.74L276.1 209.74L276.6 209.56L277.1 209.20L277.6 208.80L278.1 208.61L278.6 208.74L279.1 209.07L279.6 209.35L280.1 209.42L280.6 209.38L281.1 209.43L281.6 209.62L282.1 209.79L282.6 209.90L283.1 210.02L283.6 210.10L284.1 210.03L284.6 209.92L285.1 210.01L285.6 210.31L286.1 210.58L286.6 210.65L287.1 210.64L287.6 210.77L288.1 211.13L288.6 211.61L289.1 212.05L289.6 212.49L290.1 212.95L290.6 213.38L291.1 213.74L291.6 214.13L292.1 214.62L292.6 215.09L293.1 215.46L293.6 215.83L294.1 216.36L294.6 216.95L295.1 217.57L295.6 218.31L296.1 219.23L296.6 220.19L297.1 221.05L297.6 221.88L298.1 222.89L298.6 224.20L299.1 225.62L299.6 226.96L300.1 228.28L300.6 229.69L301.1 231.25L301.6 232.91L302.1 234.51L302.6 235.97L303.1 237.42L303.6 239.17L304.1 241.47L304.6 244.32L305.1 247.52L305.6 250.87L306.1 254.31L306.6 257.99L307.1 262.18L307.6 266.91L308.1 271.86L308.6 276.63L309.1 280.88L309.6 284.30L310.1 286.75L310.6 288.37L311.1 289.35L311.6 289.92L312.1 290.24L312.6 290.44L313.1 290.53L313.6 290.50L314.1 290.44L314.6 290.40L315.1 290.34L315.6 290.24L316.1 290.14L316.6 290.12L317.1 290.22L317.6 290.36L318.1 290.45L318.6 290.46L319.1 290.43L319.6 290.46L320.1 290.59L320.6 290.74L321.1 290.83L321.6 290.79L322.1 290.66L322.6 290.56L323.1 290.57L323.6 290.68L324.1 290.82L324.6 290.94L325.1 291.00L325.6 290.99L326.1 290.90L326.6 290.77L327.1 290.68L327.6 290.64L328.1 290.64L328.6 290.69L329.1 290.75L329.6 290.78L330.1 290.74L330.6 290.64L331.1 290.52L331.6 290.46L332.1 290.45L332.6 290.43L333.1 290.39L333.6 290.37L334.1 290.38L334.6 290.35L335.1 290.27L335.6 290.19L336.1 290.15L336.6 290.18L337.1 290.34L337.6 290.62L338.1 290.95L338.6 291.19L339.1 291.27L339.6 291.19L340.1 291.02L340.6 290.86L341.1 290.78L341.6 290.78L342.1 290.78L342.6 290.74L343.1 290.72L343.6 290.72L344.1 290.71L344.6 290.61L345.1 290.41L345.6 290.19L346.1 289.99L346.6 289.75L347.1 289.49M203.1 291.06L203.6 290.85L204.1 290.69L204.6 290.63L205.1 290.64L205.6 290.66L206.1 290.65L206.6 290.58L207.1 290.43L207.6 290.22L208.1 290.06L208.6 290.06L209.1 290.22L209.6 290.43L210.1 290.58L210.6 290.65L211.1 290.65L211.6 290.61L212.1 290.59L212.6 290.65L213.1 290.77L213.6 290.88L214.1 290.95L214.6 290.99L215.1 291.04L215.6 291.08L216.1 291.09L216.6 291.08L217.1 291.01L217.6 290.80L218.1 290.53L218.6 290.35L219.1 290.38L219.6 290.52L220.1 290.65L220.6 290.73L221.1 290.80L221.6 290.90L222.1 291.02L222.6 291.10L223.1 291.11L223.6 291.07L224.1 290.98L224.6 290.85L225.1 290.73L225.6 290.64L226.1 290.54L226.6 290.43L227.1 290.32L227.6 290.26L228.1 290.29L228.6 290.45L229.1 290.68L229.6 290.85L230.1 290.90L230.6 290.80L231.1 290.60L231.6 290.37L232.1 290.25L232.6 290.34L233.1 290.61L233.6 290.88L234.1 290.98L234.6 290.90L235.1 290.76L235.6 290.70L236.1 290.72L236.6 290.77L237.1 290.75L237.6 290.56L238.1 290.24L238.6 289.97L239.1 289.88L239.6 289.94L240.1 290.01L240.6 290.07L241.1 290.23L241.6 290.54L242.1 290.90L242.6 291.19L243.1 291.35L243.6 291.40L244.1 291.38L244.6 291.32L245.1 291.19L245.6 290.94L246.1 290.62L246.6 290.29L247.1 289.66L247.6 287.48L248.1 282.43L248.6 275.30L249.1 268.43L249.6 262.91L250.1 258.48L250.6 254.73L251.1 251.42L251.6 248.40L252.1 245.60L252.6 243.04L253.1 240.70L253.6 238.60L254.1 236.77L254.6 235.06L255.1 233.32L255.6 231.64L256.1 230.05L256.6 228.52L257.1 227.27L257.6 226.54L258.1 226.07L258.6 225.49L259.1 224.64L259.6 223.59L260.1 222.55L260.6 221.72L261.1 221.16L261.6 220.64L262.1 219.88L262.6 218.90L263.1 217.99L263.6 217.42L264.1 217.14L264.6 216.97L265.1 216.76L265.6 216.53L266.1 216.36L266.6 216.22L267.1 216.13L267.6 216.13L268.1 216.07L268.6 215.80L269.1 215.49L269.6 215.35L270.1 215.21L270.6 214.86L271.1 214.43L271.6 214.24L272.1 214.37L272.6 214.64L273.1 214.78L273.6 214.79L274.1 214.76L274.6 214.72L275.1 214.69L275.6 214.66L276.1 214.60L276.6 214.72L277.1 215.10L277.6 215.43L278.1 215.45L278.6 215.26L279.1 215.22L279.6 215.46L280.1 215.76L280.6 215.86L281.1 215.76L281.6 215.61L282.1 215.48L282.6 215.25L283.1 214.97L283.6 214.93L284.1 215.28L284.6 215.84L285.1 216.32L285.6 216.67L286.1 217.00L286.6 217.42L287.1 217.93L287.6 218.47L288.1 218.94L288.6 219.38L289.1 219.87L289.6 220.48L290.1 221.23L290.6 222.07L291.1 222.89L291.6 223.59L292.1 224.23L292.6 224.99L293.1 225.96L293.6 227.05L294.1 228.16L294.6 229.30L295.1 230.67L295.6 232.34L296.1 234.20L296.6 236.05L297.1 237.72L297.6 239.26L298.1 240.94L298.6 243.03L299.1 245.62L299.6 248.76L300.1 252.29L300.6 256.01L301.1 259.96L301.6 264.35L302.1 269.21L302.6 274.32L303.1 279.22L303.6 283.45L304.1 286.73L304.6 289.00L305.1 290.33L305.6 290.89L306.1 290.98L306.6 290.91L307.1 290.84L307.6 290.79L308.1 290.75L308.6 290.70L309.1 290.60L309.6 290.46L310.1 290.35L310.6 290.35L311.1 290.41L311.6 290.43L312.1 290.45L312.6 290.50L313.1 290.58L313.6 290.59L314.1 290.52L314.6 290.41L315.1 290.30L315.6 290.21L316.1 290.17L316.6 290.19L317.1 290.25L317.6 290.31L318.1 290.36L318.6 290.40L319.1 290.48L319.6 290.57L320.1 290.65L320.6 290.66L321.1 290.59L321.6 290.49L322.1 290.44L322.6 290.45L323.1 290.46L323.6 290.46L324.1 290.50L324.6 290.60L325.1 290.70L325.6 290.77L326.1 290.80L326.6 290.83L327.1 290.88L327.6 290.89L328.1 290.86L328.6 290.81L329.1 290.79L329.6 290.77L330.1 290.71L330.6 290.59L331.1 290.45L331.6 290.38L332.1 290.41L332.6 290.46L333.1 290.46L333.6 290.36L334.1 290.22L334.6 290.05L335.1 289.91L335.6 289.87L336.1 289.99L336.6 290.25L337.1 290.58L337.6 290.86L338.1 291.04L338.6 291.12L339.1 291.15L339.6 291.16L340.1 291.16L340.6 291.14L341.1 291.07L341.6 290.93L342.1 290.74L342.6 290.56L343.1 290.46L343.6 290.45L344.1 290.51L344.6 290.52L345.1 290.44L345.6 290.28L346.1 290.07L346.6 289.84L347.1 289.61M203.1 290.74L203.6 290.65L204.1 290.62L204.6 290.66L205.1 290.73L205.6 290.73L206.1 290.64L206.6 290.55L207.1 290.47L207.6 290.37L208.1 290.25L208.6 290.22L209.1 290.30L209.6 290.45L210.1 290.55L210.6 290.54L211.1 290.45L211.6 290.41L212.1 290.48L212.6 290.65L213.1 290.87L213.6 291.06L214.1 291.15L214.6 291.12L215.1 291.06L215.6 291.04L216.1 291.00L216.6 290.93L217.1 290.81L217.6 290.66L218.1 290.49L218.6 290.37L219.1 290.35L219.6 290.44L220.1 290.60L220.6 290.74L221.1 290.82L221.6 290.88L222.1 290.93L222.6 290.98L223.1 290.98L223.6 290.89L224.1 290.77L224.6 290.66L225.1 290.59L225.6 290.49L226.1 290.33L226.6 290.15L227.1 290.01L227.6 289.97L228.1 290.06L228.6 290.27L229.1 290.54L229.6 290.77L230.1 290.86L230.6 290.80L231.1 290.62L231.6 290.42L232.1 290.30L232.6 290.37L233.1 290.58L233.6 290.79L234.1 290.89L234.6 290.93L235.1 291.00L235.6 291.08L236.1 291.15L236.6 291.14L237.1 291.01L237.6 290.73L238.1 290.39L238.6 290.06L239.1 289.84L239.6 289.77L240.1 289.85L240.6 290.04L241.1 290.27L241.6 290.52L242.1 290.77L242.6 290.98L243.1 291.14L243.6 291.21L244.1 291.21L244.6 291.14L245.1 290.99L245.6 290.77L246.1 290.56L246.6 290.42L247.1 290.42L247.6 290.51L248.1 290.65L248.6 290.80L249.1 290.93L249.6 291.01L250.1 291.04L250.6 291.02L251.1 290.97L251.6 290.50L252.6 289.40L253.3 285.00L253.9 278.60L254.4 266.00L254.7 252.00L255.0 240.50L256.9 233.90L259.7 229.20L262.5 226.80L265.4 225.40L267.3 224.90L269.2 222.50L270.6 219.70L272.0 217.80L273.9 217.40L276.8 218.30L280.5 218.80L282.4 220.20L284.3 222.50L286.2 224.90L288.1 227.30L290.0 230.10L291.4 233.90L292.8 238.60L294.6 250.00L296.6 262.00L298.2 272.00L299.6 282.00L300.6 288.30L302.0 290.50L302.1 290.00L302.6 290.06L303.1 290.19L303.6 290.39L304.1 290.68L304.6 291.02L305.1 291.24L305.6 291.20L306.1 290.98L306.6 290.78L307.1 290.72L307.6 290.69L308.1 290.60L308.6 290.48L309.1 290.34L309.6 290.23L310.1 290.18L310.6 290.17L311.1 290.17L311.6 290.20L312.1 290.29L312.6 290.43L313.1 290.54L313.6 290.59L314.1 290.53L314.6 290.41L315.1 290.30L315.6 290.24L316.1 290.18L316.6 290.11L317.1 290.06L317.6 290.05L318.1 290.09L318.6 290.20L319.1 290.38L319.6 290.58L320.1 290.68L320.6 290.67L321.1 290.60L321.6 290.53L322.1 290.48L322.6 290.45L323.1 290.46L323.6 290.47L324.1 290.51L324.6 290.57L325.1 290.63L325.6 290.64L326.1 290.60L326.6 290.59L327.1 290.64L327.6 290.73L328.1 290.82L328.6 290.86L329.1 290.77L329.6 290.57L330.1 290.32L330.6 290.13L331.1 290.08L331.6 290.15L332.1 290.28L332.6 290.37L333.1 290.36L333.6 290.24L334.1 290.09L334.6 289.99L335.1 289.99L335.6 290.05L336.1 290.10L336.6 290.21L337.1 290.47L337.6 290.86L338.1 291.17L338.6 291.31L339.1 291.25L339.6 291.06L340.1 290.83L340.6 290.67L341.1 290.65L341.6 290.72L342.1 290.77L342.6 290.72L343.1 290.63L343.6 290.59L344.1 290.64L344.6 290.64L345.1 290.51L345.6 290.27L346.1 290.04L346.6 289.89L347.1 289.80M203.1 291.00L203.6 290.84L204.1 290.68L204.6 290.62L205.1 290.68L205.6 290.77L206.1 290.78L206.6 290.72L207.1 290.63L207.6 290.50L208.1 290.37L208.6 290.31L209.1 290.42L209.6 290.64L210.1 290.82L210.6 290.82L211.1 290.66L211.6 290.49L212.1 290.43L212.6 290.54L213.1 290.77L213.6 291.00L214.1 291.16L214.6 291.23L215.1 291.21L215.6 291.13L216.1 291.03L216.6 290.94L217.1 290.79L217.6 290.56L218.1 290.34L218.6 290.19L219.1 290.16L219.6 290.26L220.1 290.48L220.6 290.70L221.1 290.82L221.6 290.84L222.1 290.84L222.6 290.87L223.1 290.91L223.6 290.94L224.1 290.93L224.6 290.84L225.1 290.69L225.6 290.54L226.1 290.42L226.6 290.33L227.1 290.33L227.6 290.39L228.1 290.42L228.6 290.42L229.1 290.45L229.6 290.50L230.1 290.55L230.6 290.56L231.1 290.53L231.6 290.45L232.1 290.37L232.6 290.39L233.1 290.51L233.6 290.65L234.1 290.73L234.6 290.77L235.1 290.81L235.6 290.84L236.1 290.82L236.6 290.79L237.1 290.75L237.6 290.63L238.1 290.40L238.6 290.17L239.1 290.05L239.6 290.02L240.1 290.02L240.6 290.06L241.1 290.21L241.6 290.49L242.1 290.80L242.6 291.06L243.1 291.21L243.6 291.27L244.1 291.22L244.6 291.10L245.1 290.95L245.6 290.76L246.1 290.54L246.6 290.33L247.1 290.19L247.6 290.15L248.1 290.27L248.6 290.51L249.1 290.79L249.6 291.00L250.1 291.09L250.6 291.09L251.1 291.03L251.6 290.92L252.1 290.75L252.6 290.57L253.1 290.41L253.6 290.31L254.1 290.30L254.6 290.37L255.0 290.50L255.9 289.40L256.4 285.00L256.8 278.00L257.3 270.00L258.3 257.00L259.7 249.40L260.7 244.70L261.6 242.00L262.5 241.40L264.0 240.50L264.4 238.60L265.4 236.70L266.3 236.20L267.3 237.60L268.2 238.10L269.2 236.70L270.1 234.80L271.0 230.10L272.0 227.30L273.4 227.70L274.9 231.50L276.3 230.60L277.7 229.60L279.1 230.10L280.5 229.20L282.0 230.10L282.4 232.50L283.4 234.30L284.8 234.80L285.7 236.20L286.7 238.60L287.6 241.40L288.8 244.50L290.0 247.50L290.9 254.20L291.6 262.00L292.6 270.00L293.8 280.00L294.9 288.00L296.2 290.50L296.6 290.89L297.1 291.13L297.6 291.24L298.1 291.19L298.6 291.06L299.1 290.89L299.6 290.72L300.1 290.58L300.6 290.47L301.1 290.35L301.6 290.20L302.1 290.04L302.6 290.00L303.1 290.16L303.6 290.48L304.1 290.86L304.6 291.17L305.1 291.27L305.6 291.15L306.1 290.95L306.6 290.84L307.1 290.83L307.6 290.82L308.1 290.71L308.6 290.51L309.1 290.28L309.6 290.06L310.1 289.90L310.6 289.86L311.1 289.97L311.6 290.19L312.1 290.41L312.6 290.55L313.1 290.59L313.6 290.55L314.1 290.48L314.6 290.39L315.1 290.29L315.6 290.18L316.1 290.10L316.6 290.07L317.1 290.11L317.6 290.18L318.1 290.27L318.6 290.35L319.1 290.44L319.6 290.54L320.1 290.63L320.6 290.64L321.1 290.54L321.6 290.40L322.1 290.34L322.6 290.40L323.1 290.54L323.6 290.64L324.1 290.69L324.6 290.74L325.1 290.80L325.6 290.85L326.1 290.83L326.6 290.74L327.1 290.66L327.6 290.64L328.1 290.71L328.6 290.77L329.1 290.75L329.6 290.63L330.1 290.48L330.6 290.36L331.1 290.31L331.6 290.38L332.1 290.53L332.6 290.64L333.1 290.58L333.6 290.41L334.1 290.27L334.6 290.21L335.1 290.22L335.6 290.24L336.1 290.24L336.6 290.27L337.1 290.36L337.6 290.56L338.1 290.84L338.6 291.10L339.1 291.22L339.6 291.17L340.1 291.00L340.6 290.86L341.1 290.77L341.6 290.71L342.1 290.63L342.6 290.57L343.1 290.56L343.6 290.57L344.1 290.57L344.6 290.50L345.1 290.35L345.6 290.12L346.1 289.88L346.6 289.68L347.1 289.53M203.1 290.97L203.6 290.90L204.1 290.82L204.6 290.76L205.1 290.73L205.6 290.68L206.1 290.62L206.6 290.54L207.1 290.43L207.6 290.26L208.1 290.09L208.6 290.03L209.1 290.14L209.6 290.37L210.1 290.58L210.6 290.66L211.1 290.57L211.6 290.43L212.1 290.38L212.6 290.47L213.1 290.64L213.6 290.78L214.1 290.87L214.6 290.92L215.1 290.97L215.6 291.03L216.1 291.05L216.6 291.01L217.1 290.89L217.6 290.71L218.1 290.55L218.6 290.51L219.1 290.59L219.6 290.73L220.1 290.85L220.6 290.90L221.1 290.88L221.6 290.83L222.1 290.79L222.6 290.85L223.1 290.95L223.6 290.99L224.1 290.90L224.6 290.74L225.1 290.55L225.6 290.39L226.1 290.32L226.6 290.33L227.1 290.38L227.6 290.40L228.1 290.37L228.6 290.39L229.1 290.53L229.6 290.70L230.1 290.75L230.6 290.64L231.1 290.43L231.6 290.26L232.1 290.24L232.6 290.33L233.1 290.45L233.6 290.55L234.1 290.62L234.6 290.66L235.1 290.68L235.6 290.73L236.1 290.80L236.6 290.88L237.1 290.84L237.6 290.63L238.1 290.32L238.6 290.09L239.1 289.98L239.6 289.96L240.1 290.02L240.6 290.16L241.1 290.33L241.6 290.51L242.1 290.70L242.6 290.91L243.1 291.12L243.6 291.28L244.1 291.34L244.6 291.30L245.1 291.17L245.6 290.99L246.1 290.74L246.6 290.48L247.1 290.27L247.6 290.18L248.1 290.26L248.6 290.47L249.1 290.69L249.6 290.80L250.1 290.86L250.6 290.93L251.1 291.00L251.6 290.99L252.1 290.90L252.6 290.78L253.1 290.68L253.6 290.58L254.1 290.48L254.6 290.42L255.1 290.40L255.6 290.41L256.1 290.42L256.6 290.44L257.1 290.45L257.6 290.40L258.1 290.34L258.6 290.30L258.8 290.50L259.8 289.20L260.3 285.00L260.8 278.60L261.4 268.00L262.1 265.50L262.5 263.10L263.5 264.00L264.4 258.90L265.4 251.30L266.3 246.60L267.3 249.40L268.2 252.00L269.2 250.00L270.1 245.00L270.6 240.50L271.5 237.60L272.5 235.80L273.4 237.60L274.4 242.80L275.8 245.70L277.2 243.80L278.7 241.90L279.6 243.80L280.5 242.80L281.5 240.90L282.0 240.00L282.4 244.70L282.9 249.40L283.4 251.30L284.3 252.30L285.3 251.30L286.2 255.10L286.7 258.90L287.2 263.60L287.6 270.00L288.3 280.00L288.8 288.40L290.0 290.50L290.1 290.71L290.6 290.77L291.1 290.69L291.6 290.53L292.1 290.38L292.6 290.28L293.1 290.22L293.6 290.17L294.1 290.14L294.6 290.15L295.1 290.19L295.6 290.32L296.1 290.54L296.6 290.79L297.1 291.02L297.6 291.20L298.1 291.28L298.6 291.18L299.1 290.90L299.6 290.55L300.1 290.30L300.6 290.20L301.1 290.22L301.6 290.25L302.1 290.22L302.6 290.22L303.1 290.33L303.6 290.57L304.1 290.86L304.6 291.09L305.1 291.15L305.6 291.05L306.1 290.90L306.6 290.80L307.1 290.73L307.6 290.63L308.1 290.52L308.6 290.44L309.1 290.38L309.6 290.35L310.1 290.32L310.6 290.30L311.1 290.29L311.6 290.33L312.1 290.44L312.6 290.59L313.1 290.66L313.6 290.65L314.1 290.62L314.6 290.56L315.1 290.46L315.6 290.32L316.1 290.21L316.6 290.21L317.1 290.30L317.6 290.43L318.1 290.54L318.6 290.61L319.1 290.66L319.6 290.74L320.1 290.82L320.6 290.81L321.1 290.66L321.6 290.46L322.1 290.33L322.6 290.32L323.1 290.35L323.6 290.38L324.1 290.44L324.6 290.56L325.1 290.69L325.6 290.71L326.1 290.60L326.6 290.47L327.1 290.47L327.6 290.64L328.1 290.84L328.6 290.88L329.1 290.75L329.6 290.57L330.1 290.42L330.6 290.33L331.1 290.32L331.6 290.35L332.1 290.39L332.6 290.43L333.1 290.42L333.6 290.35L334.1 290.23L334.6 290.14L335.1 290.12L335.6 290.15L336.1 290.21L336.6 290.31L337.1 290.51L337.6 290.81L338.1 291.11L338.6 291.28L339.1 291.27L339.6 291.13L340.1 290.95L340.6 290.77L341.1 290.62L341.6 290.57L342.1 290.58L342.6 290.61L343.1 290.65L343.6 290.67L344.1 290.66L344.6 290.59L345.1 290.45L345.6 290.27L346.1 290.07L346.6 289.85L347.1 289.65M203.1 290.54L203.6 290.51L204.1 290.51L204.6 290.56L205.1 290.65L205.6 290.70L206.1 290.66L206.6 290.54L207.1 290.41L207.6 290.30L208.1 290.26L208.6 290.28L209.1 290.35L209.6 290.43L210.1 290.49L210.6 290.50L211.1 290.46L211.6 290.40L212.1 290.41L212.6 290.55L213.1 290.77L213.6 290.97L214.1 291.06L214.6 291.04L215.1 291.01L215.6 291.00L216.1 291.01L216.6 290.98L217.1 290.86L217.6 290.66L218.1 290.47L218.6 290.42L219.1 290.54L219.6 290.71L220.1 290.85L220.6 290.93L221.1 290.96L221.6 290.93L222.1 290.89L222.6 290.85L223.1 290.84L223.6 290.83L224.1 290.80L224.6 290.75L225.1 290.66L225.6 290.56L226.1 290.44L226.6 290.31L227.1 290.23L227.6 290.27L228.1 290.42L228.6 290.63L229.1 290.82L229.6 290.94L230.1 290.95L230.6 290.84L231.1 290.64L231.6 290.43L232.1 290.32L232.6 290.33L233.1 290.45L233.6 290.61L234.1 290.75L234.6 290.84L235.1 290.86L235.6 290.84L236.1 290.80L236.6 290.75L237.1 290.66L237.6 290.51L238.1 290.32L238.6 290.13L239.1 289.98L239.6 289.90L240.1 289.92L240.6 290.08L241.1 290.34L241.6 290.66L242.1 290.98L242.6 291.23L243.1 291.36L243.6 291.39L244.1 291.34L244.6 291.23L245.1 291.07L245.6 290.90L246.1 290.75L246.6 290.61L247.1 290.51L247.6 290.47L248.1 290.54L248.6 290.68L249.1 290.83L249.6 290.93L250.1 290.95L250.6 290.92L251.1 290.86L251.6 290.79L252.1 290.73L252.6 290.67L253.1 290.61L253.6 290.53L254.1 290.38L254.6 290.20L255.1 290.09L255.6 290.08L256.1 290.11L256.6 290.14L257.1 290.14L257.6 290.19L258.1 290.30L258.6 290.42L259.1 290.46L259.6 290.37L260.1 290.20L260.6 289.98L261.1 289.77L261.6 289.62L262.1 289.59L262.6 289.67L262.8 290.50L263.9 289.40L264.4 284.00L264.6 278.00L265.2 268.00L265.8 262.00L266.5 258.00L267.2 262.00L267.7 271.00L268.1 275.00L268.4 268.00L268.8 258.00L269.3 250.00L269.8 245.00L270.3 243.50L271.0 246.50L272.2 249.90L273.0 247.50L273.6 249.00L274.4 255.00L275.3 259.00L275.8 261.70L276.8 259.80L277.2 255.10L277.7 254.20L278.7 257.00L279.6 260.80L280.1 263.60L280.5 258.90L281.0 254.20L281.5 253.20L282.0 258.90L282.4 265.50L282.9 270.00L283.4 278.60L285.0 288.40L286.2 290.50L286.6 289.40L287.1 289.67L287.6 289.92L288.1 290.16L288.6 290.42L289.1 290.68L289.6 290.85L290.1 290.89L290.6 290.81L291.1 290.64L291.6 290.47L292.1 290.33L292.6 290.21L293.1 290.17L293.6 290.23L294.1 290.34L294.6 290.40L295.1 290.44L295.6 290.53L296.1 290.72L296.6 290.95L297.1 291.14L297.6 291.22L298.1 291.14L298.6 290.95L299.1 290.78L299.6 290.66L300.1 290.53L300.6 290.34L301.1 290.14L301.6 290.00L302.1 289.95L302.6 289.96L303.1 290.09L303.6 290.36L304.1 290.73L304.6 291.07L305.1 291.26L305.6 291.29L306.1 291.21L306.6 291.08L307.1 290.97L307.6 290.87L308.1 290.72L308.6 290.55L309.1 290.40L309.6 290.24L310.1 290.07L310.6 289.98L311.1 290.03L311.6 290.20L312.1 290.41L312.6 290.58L313.1 290.66L313.6 290.59L314.1 290.44L314.6 290.31L315.1 290.26L315.6 290.21L316.1 290.14L316.6 290.14L317.1 290.22L317.6 290.36L318.1 290.48L318.6 290.53L319.1 290.50L319.6 290.44L320.1 290.45L320.6 290.53L321.1 290.60L321.6 290.57L322.1 290.51L322.6 290.52L323.1 290.62L323.6 290.74L324.1 290.81L324.6 290.80L325.1 290.75L325.6 290.72L326.1 290.72L326.6 290.73L327.1 290.73L327.6 290.76L328.1 290.86L328.6 290.94L329.1 290.89L329.6 290.68L330.1 290.42L330.6 290.23L331.1 290.15L331.6 290.16L332.1 290.25L332.6 290.35L333.1 290.38L333.6 290.36L334.1 290.35L334.6 290.31L335.1 290.23L335.6 290.13L336.1 290.10L336.6 290.25L337.1 290.54L337.6 290.81L338.1 290.99L338.6 291.05L339.1 291.01L339.6 290.90L340.1 290.79L340.6 290.71L341.1 290.64L341.6 290.53L342.1 290.42L342.6 290.38L343.1 290.45L343.6 290.57L344.1 290.66L344.6 290.64L345.1 290.52L345.6 290.33L346.1 290.15L346.6 290.02L347.1 289.94" stroke="#0a0a0a" stroke-width="1.05" fill="none" stroke-linejoin="round"/></svg>
</body></html>
